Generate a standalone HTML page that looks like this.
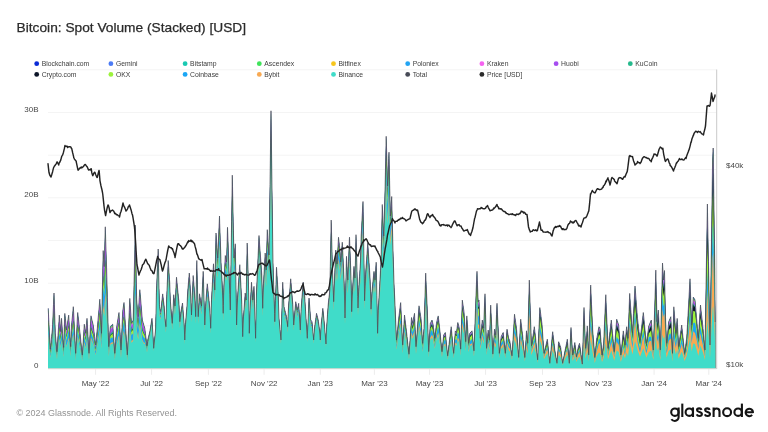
<!DOCTYPE html>
<html><head><meta charset="utf-8"><title>Bitcoin: Spot Volume (Stacked) [USD]</title>
<style>
html,body{margin:0;padding:0;background:#fff;}
body{width:768px;height:432px;overflow:hidden;font-family:"Liberation Sans",sans-serif;}
svg{display:block}
text{font-family:"Liberation Sans",sans-serif;}
.ttl{font-size:13.1px;fill:#2b2b2b;stroke:#2b2b2b;stroke-width:0.25px;}
.lg{font-size:6.8px;fill:#3c3c3c;}
.ax{font-size:8px;fill:#474747;}
.ft{font-size:9.2px;fill:#939393;}
.logo{font-size:19.5px;font-weight:bold;fill:#161616;letter-spacing:-0.3px}
</style></head><body>
<svg style="will-change:transform" width="768" height="432" viewBox="0 0 768 432">
<rect width="768" height="432" fill="#ffffff"/>
<text x="16.6" y="31.8" class="ttl" textLength="229.5" lengthAdjust="spacingAndGlyphs">Bitcoin: Spot Volume (Stacked) [USD]</text>
<line x1="48" x2="716.5" y1="69.8" y2="69.8" stroke="#f4f4f4" stroke-width="1"/><line x1="48" x2="716.5" y1="112.5" y2="112.5" stroke="#f4f4f4" stroke-width="1"/><line x1="48" x2="716.5" y1="155.2" y2="155.2" stroke="#f4f4f4" stroke-width="1"/><line x1="48" x2="716.5" y1="169.5" y2="169.5" stroke="#f4f4f4" stroke-width="1"/><line x1="48" x2="716.5" y1="197.8" y2="197.8" stroke="#f4f4f4" stroke-width="1"/><line x1="48" x2="716.5" y1="240.5" y2="240.5" stroke="#f4f4f4" stroke-width="1"/><line x1="48" x2="716.5" y1="269.0" y2="269.0" stroke="#f4f4f4" stroke-width="1"/><line x1="48" x2="716.5" y1="283.2" y2="283.2" stroke="#f4f4f4" stroke-width="1"/><line x1="48" x2="716.5" y1="325.8" y2="325.8" stroke="#f4f4f4" stroke-width="1"/>
<circle cx="36.7" cy="63.7" r="2.4" fill="#0a2bd6"/><text x="41.7" y="66.2" class="lg">Blockchain.com</text><circle cx="110.9" cy="63.7" r="2.4" fill="#4b7bf5"/><text x="115.9" y="66.2" class="lg">Gemini</text><circle cx="185.1" cy="63.7" r="2.4" fill="#19c9b2"/><text x="190.1" y="66.2" class="lg">Bitstamp</text><circle cx="259.3" cy="63.7" r="2.4" fill="#3fe35a"/><text x="264.3" y="66.2" class="lg">Ascendex</text><circle cx="333.5" cy="63.7" r="2.4" fill="#f7c61c"/><text x="338.5" y="66.2" class="lg">Bitfinex</text><circle cx="407.7" cy="63.7" r="2.4" fill="#22a4f3"/><text x="412.7" y="66.2" class="lg">Poloniex</text><circle cx="481.9" cy="63.7" r="2.4" fill="#f562f0"/><text x="486.9" y="66.2" class="lg">Kraken</text><circle cx="556.1" cy="63.7" r="2.4" fill="#a64df0"/><text x="561.1" y="66.2" class="lg">Huobi</text><circle cx="630.3" cy="63.7" r="2.4" fill="#25b98c"/><text x="635.3" y="66.2" class="lg">KuCoin</text><circle cx="36.7" cy="74.4" r="2.4" fill="#0c1528"/><text x="41.7" y="76.9" class="lg">Crypto.com</text><circle cx="110.9" cy="74.4" r="2.4" fill="#9cf23c"/><text x="115.9" y="76.9" class="lg">OKX</text><circle cx="185.1" cy="74.4" r="2.4" fill="#1aa6f5"/><text x="190.1" y="76.9" class="lg">Coinbase</text><circle cx="259.3" cy="74.4" r="2.4" fill="#f8a952"/><text x="264.3" y="76.9" class="lg">Bybit</text><circle cx="333.5" cy="74.4" r="2.4" fill="#3fdcc9"/><text x="338.5" y="76.9" class="lg">Binance</text><circle cx="407.7" cy="74.4" r="2.4" fill="#474b57"/><text x="412.7" y="76.9" class="lg">Total</text><circle cx="481.9" cy="74.4" r="2.4" fill="#2a2a2a"/><text x="486.9" y="76.9" class="lg">Price [USD]</text>
<defs><filter id="sb" x="0" y="0" width="768" height="432" filterUnits="userSpaceOnUse"><feGaussianBlur stdDeviation="0.4"/></filter></defs><g filter="url(#sb)"><path d="M48.0 368.5L48.0 308.3L48.2 308.4L48.9 322.3L49.8 339.7L50.3 349.1L50.7 345.3L51.6 336.5L52.3 330.0L52.6 324.7L53.5 304.5L54.0 293.0L54.4 304.8L55.3 332.6L55.3 333.2L56.2 343.1L57.0 351.7L57.1 349.6L58.0 335.2L59.0 320.9L59.3 315.1L59.9 321.8L60.7 331.6L60.8 329.7L61.5 318.3L61.7 321.0L62.6 333.4L63.5 345.7L63.7 347.4L64.4 324.9L64.8 313.4L65.4 318.6L66.3 327.7L66.5 330.0L67.2 325.3L68.1 318.9L68.7 315.1L69.0 320.4L69.9 334.8L70.7 346.6L70.8 342.2L71.5 325.0L71.8 322.5L72.7 313.4L73.3 306.7L73.6 311.6L74.5 329.8L75.4 348.2L75.7 353.3L76.3 340.0L77.2 321.4L77.7 312.5L78.2 316.8L79.1 324.8L79.8 331.6L80.0 332.9L80.9 341.5L81.8 350.0L82.3 355.0L82.7 349.2L83.6 335.0L84.3 324.2L84.5 325.6L85.5 331.8L85.7 333.3L86.4 325.4L87.0 318.3L87.3 323.2L88.2 339.2L89.0 353.3L89.1 351.3L90.0 334.2L90.9 317.1L91.0 315.8L91.8 319.4L92.8 323.3L93.2 325.0L93.7 329.0L94.6 336.4L95.5 343.7L95.7 345.0L96.4 337.5L97.3 328.4L98.2 317.8L99.2 307.0L99.8 299.2L100.1 304.0L101.0 322.7L101.5 333.3L101.9 313.5L102.8 268.2L103.2 250.6L103.7 259.4L104.2 266.6L104.6 250.4L105.3 226.8L105.5 234.0L106.5 265.0L107.0 283.3L107.4 297.8L108.3 332.4L108.7 346.6L109.2 340.3L110.1 329.2L110.3 326.7L111.0 325.9L111.9 324.9L112.7 324.2L112.9 326.8L113.8 339.0L114.7 351.4L114.8 353.3L115.6 341.8L116.5 328.3L116.5 328.3L117.4 322.4L118.3 316.7L119.0 312.5L119.2 317.2L120.2 334.4L121.0 350.0L121.1 348.2L122.0 327.2L122.7 311.6L122.9 310.0L123.8 303.7L124.0 302.5L124.7 314.0L125.7 328.5L126.6 342.8L127.3 354.9L127.5 351.9L128.4 331.0L129.3 310.4L129.8 298.4L130.2 304.1L131.1 317.8L131.5 323.3L132.0 322.3L133.0 320.4L133.2 319.9L133.9 289.2L134.8 249.3L135.3 225.1L135.7 245.6L136.6 296.8L136.7 300.0L137.5 309.5L138.2 316.6L138.4 312.2L139.3 297.5L139.8 289.7L140.3 294.8L141.2 306.0L142.1 317.0L142.3 320.0L143.0 322.2L143.9 325.3L144.8 328.3L145.7 335.7L146.7 343.1L147.0 345.8L147.6 341.6L147.8 339.5L148.5 336.9L149.4 333.4L149.8 331.7L150.3 328.7L151.2 323.1L152.0 318.3L152.1 320.9L153.1 337.2L153.7 348.3L154.0 345.3L154.9 336.2L155.7 328.2L155.8 322.5L156.4 292.5L156.7 285.2L157.6 262.5L158.2 249.0L158.5 264.6L159.4 304.5L159.5 306.7L160.4 310.4L160.7 311.6L161.3 306.3L162.2 298.1L162.7 293.9L163.1 297.4L164.0 305.0L164.2 306.4L164.8 316.6L164.9 317.5L165.8 325.3L166.0 326.7L166.7 296.9L166.8 294.8L167.7 273.0L168.2 260.5L168.6 266.1L169.5 279.7L169.7 282.2L170.3 300.0L170.4 301.3L171.3 311.9L172.2 322.6L172.3 323.3L173.2 305.9L173.7 294.7L174.1 297.8L175.0 305.8L175.0 306.0L175.9 288.9L176.5 277.2L176.8 280.3L177.7 289.6L178.6 298.9L178.9 301.7L179.5 315.9L179.8 321.7L180.5 314.8L180.6 313.3L181.4 309.1L182.3 304.2L182.5 303.0L183.2 311.8L184.1 323.4L184.8 340.0L185.0 334.7L185.5 324.7L185.9 318.9L186.8 307.8L187.0 306.0L187.7 291.1L187.8 290.2L188.7 280.0L189.3 273.0L189.6 277.3L190.5 291.1L190.8 296.1L191.4 312.7L191.5 315.0L192.3 295.7L193.2 275.5L193.2 276.1L194.2 287.9L194.9 298.2L195.1 301.1L195.7 316.7L196.0 301.9L196.8 260.5L196.9 264.5L197.8 301.0L198.2 316.7L198.7 307.4L199.5 293.8L199.6 294.7L200.6 300.2L201.5 305.8L201.5 306.0L202.4 288.0L203.2 271.3L203.3 274.3L204.2 305.2L204.8 325.0L205.1 317.1L205.6 306.5L206.0 300.1L206.9 288.3L207.3 283.8L207.9 289.3L208.8 298.3L209.7 307.2L209.8 308.3L210.6 326.1L210.7 328.3L211.5 300.0L211.5 299.3L212.4 283.2L213.3 266.7L213.5 263.8L214.3 279.1L214.8 290.0L215.2 272.4L216.0 233.0L216.1 234.2L217.0 247.7L217.7 258.0L217.9 253.1L218.8 231.9L219.5 216.0L219.7 223.4L220.7 251.3L221.0 262.0L221.6 272.3L222.5 289.1L222.5 290.2L223.2 313.3L223.4 305.5L223.8 287.3L224.3 276.9L225.2 257.2L225.3 255.5L226.1 260.0L226.5 262.0L227.1 242.9L227.5 227.3L228.0 240.4L228.9 266.3L229.0 270.0L229.8 294.3L230.3 310.0L230.7 283.0L231.6 221.7L232.3 175.2L232.5 186.4L233.4 230.7L234.0 258.0L234.3 254.2L235.3 244.1L235.3 243.8L236.2 298.8L236.6 325.0L237.1 310.2L237.5 297.9L238.0 290.5L238.9 277.4L239.8 264.7L239.8 265.5L240.8 283.2L241.7 301.0L241.8 304.3L242.6 332.2L242.7 336.7L243.4 317.0L243.5 316.5L244.4 304.0L245.2 293.0L245.3 293.8L246.2 300.0L246.2 298.3L247.1 246.4L247.2 243.0L248.1 272.1L248.7 292.7L249.0 312.0L249.3 333.3L249.9 313.1L250.0 310.3L250.8 295.0L251.5 282.2L251.7 285.1L252.6 297.5L252.8 300.0L253.5 291.6L254.0 286.3L254.4 300.9L255.4 330.5L255.6 338.3L256.3 303.3L256.5 292.0L257.2 276.4L258.1 255.6L259.0 235.5L259.0 235.8L259.9 248.8L260.9 262.0L261.8 275.0L261.8 275.5L262.7 307.2L262.7 308.3L263.4 283.4L263.6 281.0L264.5 265.2L265.2 253.0L265.4 256.6L266.2 270.0L266.3 265.2L267.2 231.9L267.3 229.7L268.1 242.3L269.0 255.0L269.1 250.0L270.0 184.3L270.9 118.7L271.0 110.8L271.8 172.0L272.7 240.8L273.0 262.0L273.6 282.9L274.6 313.4L274.8 321.7L275.5 300.5L276.4 271.0L276.5 267.2L277.3 279.8L278.2 294.3L278.2 295.1L279.0 318.0L279.1 319.3L280.0 329.3L280.9 339.3L281.0 340.0L281.9 310.8L282.7 282.2L282.8 283.5L283.7 300.7L284.0 306.7L284.6 309.1L285.5 312.6L286.4 316.2L286.8 317.7L287.3 323.1L287.7 326.7L288.2 313.5L288.6 305.1L289.2 298.1L290.1 286.6L290.7 278.8L291.0 282.3L291.9 293.3L292.8 304.2L292.8 304.7L293.7 325.0L293.7 324.7L294.6 314.0L295.6 303.3L295.7 301.7L296.5 305.7L297.3 310.0L297.4 309.6L298.3 305.2L298.7 303.3L299.2 311.8L300.1 327.2L300.3 330.0L301.0 311.6L301.2 308.4L301.9 298.3L302.9 286.3L303.2 282.0L303.8 287.4L304.7 295.6L304.7 295.9L305.3 306.7L305.6 311.6L306.5 326.0L307.3 338.3L307.4 335.2L308.4 313.4L309.0 298.0L309.3 301.4L310.2 313.1L310.7 320.0L311.1 320.5L312.0 321.7L312.9 331.6L313.7 340.0L313.8 338.1L314.5 328.0L314.7 326.5L315.7 319.6L316.5 313.3L316.6 313.6L317.5 317.2L318.2 320.0L318.4 321.5L319.3 328.3L319.7 331.0L320.2 338.9L320.3 340.0L321.1 325.7L321.1 324.8L322.1 315.8L322.8 308.3L323.0 309.9L323.9 318.8L324.0 320.0L324.8 329.5L325.7 340.4L326.0 344.0L326.6 327.5L326.7 326.4L327.5 314.3L328.2 305.0L328.4 302.7L329.4 294.1L329.8 290.0L330.3 266.5L331.2 220.5L331.2 220.0L332.1 254.6L332.5 270.0L333.0 283.5L333.7 301.7L333.9 295.8L334.8 272.2L335.7 250.0L335.8 250.5L336.7 260.4L337.0 264.0L337.6 253.6L338.5 237.4L338.5 237.2L339.4 245.3L340.0 250.8L340.3 255.6L340.7 262.0L341.2 255.4L342.1 244.1L342.3 242.2L343.1 259.0L344.0 279.0L344.2 283.9L344.9 313.4L345.0 318.0L345.8 285.1L346.5 256.3L346.7 260.1L347.6 276.9L347.8 280.0L348.5 261.4L349.4 238.5L349.5 237.2L350.4 260.3L351.0 278.2L351.3 290.4L351.7 311.7L352.2 296.9L352.4 291.3L353.1 280.1L354.0 266.3L354.0 266.5L354.9 277.3L355.0 278.0L355.9 241.2L356.0 234.7L356.8 262.6L357.7 296.3L358.0 308.0L358.6 291.7L358.8 287.3L359.5 276.5L360.4 263.2L360.5 262.0L361.2 234.8L361.3 233.3L362.2 216.0L363.0 201.5L363.2 211.4L364.1 267.9L364.6 300.8L365.0 289.8L365.5 274.8L365.9 269.3L366.8 256.7L367.7 244.1L367.8 243.0L368.6 256.3L369.6 270.7L370.1 279.4L370.5 291.7L371.0 309.2L371.4 302.0L371.9 292.1L372.3 288.3L373.2 279.1L374.0 271.3L374.1 272.2L375.0 279.4L375.1 280.0L375.9 266.2L376.2 262.2L376.9 295.7L377.6 333.3L377.8 327.5L378.3 310.7L378.7 302.9L379.6 286.6L379.8 283.0L380.5 270.6L381.0 262.0L381.4 243.0L382.3 204.5L382.3 205.4L383.2 225.9L383.7 236.0L384.2 219.4L385.0 190.0L385.1 186.4L386.0 145.2L386.2 136.3L386.9 161.5L387.6 186.0L387.8 180.7L388.7 158.5L389.0 152.2L389.6 181.8L390.4 216.0L390.6 213.6L391.5 199.8L391.7 196.5L392.4 224.9L393.0 250.0L393.3 259.9L394.0 283.0L394.2 287.5L394.8 299.9L395.1 307.1L396.0 329.0L396.5 340.0L397.0 335.4L397.9 326.3L398.7 318.3L398.8 317.4L399.7 310.2L400.6 302.9L400.7 302.6L401.5 320.6L402.4 340.2L402.7 344.9L403.4 333.8L404.3 318.9L404.5 315.0L405.2 320.7L406.1 328.2L406.5 331.7L407.0 336.3L407.9 344.4L408.8 352.6L409.0 354.2L409.8 343.2L410.7 329.8L411.5 317.5L411.6 317.8L412.5 322.4L412.7 323.3L413.4 319.3L414.3 314.4L414.5 313.3L415.2 329.6L416.0 346.7L416.1 344.8L417.1 332.4L418.0 319.9L418.9 307.5L419.0 305.8L419.8 310.8L420.7 316.5L421.0 318.3L421.6 327.6L422.5 341.3L422.7 343.3L423.4 334.5L424.0 328.3L424.4 316.4L425.3 285.8L425.7 273.1L426.2 284.7L427.1 305.2L427.2 306.8L428.0 332.3L428.7 351.6L428.9 347.2L429.8 331.7L430.3 323.4L430.8 322.5L431.7 320.7L432.0 320.0L432.6 322.5L433.2 325.0L433.5 327.7L434.4 334.9L434.8 338.3L435.3 334.0L436.2 325.7L436.5 323.3L437.1 320.4L438.1 316.3L438.2 315.9L439.0 322.7L439.8 330.0L439.9 330.6L440.8 339.8L441.7 348.9L442.0 351.7L442.6 345.4L443.6 336.2L443.7 335.0L444.5 333.8L445.3 332.5L445.4 332.9L446.3 342.1L447.2 351.2L447.7 355.8L448.1 352.1L449.0 344.5L449.9 336.9L450.9 329.3L451.2 326.7L451.8 333.1L452.7 342.8L453.6 352.5L453.7 353.3L454.5 341.9L455.3 330.9L455.4 331.0L456.3 332.3L456.5 332.5L457.2 326.9L457.8 322.5L458.2 323.8L459.1 327.3L459.3 328.3L460.0 338.6L460.7 349.1L460.9 342.3L461.8 315.1L462.3 300.1L462.7 302.8L463.6 309.1L464.0 311.7L464.6 321.7L465.5 338.1L465.7 341.6L466.4 325.9L466.8 315.9L467.3 322.8L468.2 336.5L468.7 343.3L469.1 339.4L469.8 333.4L470.0 333.1L470.9 332.0L471.9 331.0L472.0 330.8L472.8 338.6L473.7 347.7L474.0 350.8L474.6 334.1L475.5 308.4L476.0 295.0L476.4 284.8L477.0 271.3L477.3 280.2L478.2 301.7L478.3 301.5L479.0 300.0L479.2 304.9L480.1 331.3L480.3 338.2L481.0 332.2L481.9 323.9L482.3 320.0L482.8 323.1L483.7 328.2L483.7 326.4L484.6 302.9L485.0 293.8L485.6 314.5L486.5 347.6L486.5 348.3L487.4 338.5L488.2 330.0L488.3 331.1L489.2 337.9L489.5 340.0L490.1 321.1L490.7 305.1L491.1 313.7L492.0 334.3L492.8 354.1L492.9 353.6L493.8 339.8L494.5 329.2L494.7 330.2L495.6 334.8L495.7 334.9L496.5 314.5L497.0 303.3L497.4 312.8L498.4 332.5L499.3 352.0L499.3 353.3L500.2 345.6L501.1 337.3L501.2 336.7L502.0 334.9L502.9 333.0L503.2 332.5L503.8 338.6L504.0 340.0L504.8 347.5L505.3 353.3L505.7 348.6L506.6 335.3L507.0 329.2L507.5 331.9L508.4 336.9L508.7 338.3L509.3 339.7L509.8 340.8L510.2 343.6L511.1 349.9L512.0 355.8L512.1 354.8L513.0 339.7L513.9 324.5L514.5 314.2L514.8 316.3L515.7 322.7L516.5 328.3L516.6 330.1L517.5 342.3L518.5 354.6L518.7 357.4L519.4 344.0L520.3 326.6L520.7 319.2L521.2 323.5L522.1 331.2L522.7 335.9L523.0 339.4L523.9 348.5L524.8 357.5L524.9 357.2L525.8 342.7L526.5 330.8L526.7 332.7L527.6 342.5L527.7 343.2L528.5 311.7L529.3 280.1L529.4 282.3L530.3 310.3L531.2 337.9L531.5 345.8L532.1 341.4L533.1 335.2L534.0 329.1L534.3 326.7L534.9 331.6L535.7 338.4L535.8 339.9L536.7 349.7L537.6 359.7L537.7 359.9L538.5 338.6L539.5 316.5L539.8 307.6L540.4 311.7L541.3 318.7L542.0 324.2L542.2 327.1L543.1 340.5L544.0 353.3L544.0 353.2L544.9 349.3L545.9 345.4L546.8 341.6L547.3 339.2L547.7 342.5L548.6 351.4L549.5 360.2L549.8 363.3L550.4 356.8L551.3 346.5L552.2 336.3L552.7 331.7L553.2 335.9L554.1 343.6L554.8 350.0L555.0 351.0L555.9 356.6L556.8 362.2L557.0 363.3L557.7 353.8L558.6 341.9L558.7 341.7L559.6 344.3L560.5 346.9L560.7 347.5L561.4 353.2L562.3 360.4L562.7 363.3L563.2 360.4L564.1 355.5L564.8 351.7L565.0 350.6L566.0 346.1L566.9 341.5L567.3 339.2L567.8 344.6L568.7 355.6L569.3 363.3L569.6 357.4L570.5 337.8L571.0 327.5L571.4 334.8L572.4 349.8L572.7 355.0L573.3 351.6L574.2 346.3L574.8 342.5L575.1 344.7L576.0 352.4L576.5 356.7L576.9 354.4L577.8 349.4L578.2 347.5L578.7 345.7L579.5 343.3L579.7 344.5L580.6 351.2L581.5 357.9L582.3 364.1L582.4 361.9L583.3 331.0L584.0 307.5L584.2 312.9L585.1 335.4L585.7 348.3L586.0 343.2L587.0 330.7L587.3 325.9L587.9 337.8L588.7 354.9L588.8 350.7L589.7 318.5L590.6 286.6L590.7 285.1L591.5 304.4L592.5 325.1L592.7 330.0L593.4 338.8L594.3 350.3L594.8 357.5L595.2 353.8L596.1 344.2L596.5 340.0L597.0 337.3L597.9 332.4L598.8 327.5L599.0 326.7L599.8 327.9L600.0 328.3L600.7 337.3L601.6 349.4L602.0 355.0L602.5 351.6L603.4 345.1L603.7 343.3L604.3 328.7L605.2 308.0L605.8 294.7L606.1 302.5L607.1 325.1L608.0 347.8L608.0 348.3L608.9 340.8L609.8 333.0L610.7 325.2L611.3 320.0L611.6 323.3L612.5 333.5L613.5 343.8L614.2 351.6L614.4 349.0L615.3 337.2L616.2 325.2L616.7 319.2L617.1 320.5L618.0 323.1L618.7 325.0L618.9 328.8L619.9 341.4L620.8 354.0L620.8 355.0L621.7 346.8L622.6 338.0L623.3 330.9L623.5 332.2L624.4 340.1L625.0 345.0L625.3 341.4L626.2 331.2L626.7 326.7L627.2 331.0L628.0 338.3L628.1 336.4L629.0 311.6L629.7 293.4L629.9 296.6L630.8 309.5L631.7 322.5L632.5 333.3L632.6 330.7L633.5 313.5L634.5 296.0L635.0 286.0L635.4 290.9L636.3 302.7L637.2 314.6L637.5 318.3L638.1 323.7L639.0 331.6L640.0 339.6L640.0 340.0L640.9 332.9L641.8 325.4L642.7 317.8L643.3 312.5L643.6 315.2L644.5 324.7L645.4 334.0L646.3 343.3L646.3 343.3L647.3 336.8L648.2 330.5L648.8 325.9L649.1 325.3L650.0 323.1L650.9 321.0L651.3 320.0L651.8 327.3L652.7 341.1L653.3 350.0L653.6 339.9L654.6 310.7L655.5 281.3L655.8 270.1L656.4 294.7L657.0 321.7L657.3 319.0L658.2 311.0L658.3 310.0L659.1 325.9L660.0 344.1L660.3 349.9L661.0 324.8L661.9 288.3L662.5 263.0L662.8 267.9L663.5 280.0L663.7 278.1L664.5 270.5L664.6 275.6L665.5 316.7L665.5 317.4L666.4 338.2L666.7 343.3L667.4 335.9L668.3 326.0L668.7 321.7L669.2 320.5L670.1 318.4L670.8 316.7L671.0 320.6L671.9 340.6L672.5 353.3L672.8 341.8L673.8 309.6L673.8 306.8L674.7 317.7L675.6 329.8L675.8 333.3L676.5 325.9L677.2 318.4L677.4 322.7L678.3 339.9L678.7 346.6L679.2 342.6L680.1 336.0L681.1 329.4L681.7 325.0L682.0 327.9L682.9 336.5L683.8 345.1L684.7 353.3L684.7 353.0L685.6 346.2L686.5 339.3L686.7 338.3L687.5 324.4L688.4 308.1L689.3 291.7L690.0 278.8L690.2 284.1L691.1 309.3L691.7 324.9L692.0 319.1L692.9 303.8L693.3 297.1L693.8 297.9L694.8 299.6L695.0 300.0L695.7 307.7L696.6 318.3L697.5 328.7L698.3 338.3L698.4 337.2L699.3 323.0L700.2 309.0L700.5 305.0L701.1 311.1L702.1 319.7L703.0 328.1L703.0 328.3L703.9 338.0L704.8 347.9L705.0 350.0L705.7 306.2L706.6 250.8L707.4 204.0L707.5 212.1L708.5 261.5L709.4 310.8L710.0 345.0L710.3 324.4L711.2 259.6L712.1 194.9L712.6 160.0L713.0 151.4L713.2 148.0L713.9 201.9L714.6 250.0L714.9 281.2L715.2 322.0L715.2 368.5Z" fill="#0a2bd6"/>
<path d="M48.0 368.5L48.0 308.6L48.2 308.7L48.9 322.5L49.8 339.8L50.3 349.2L50.7 345.4L51.6 336.7L52.3 330.2L52.6 325.0L53.5 304.9L54.0 293.5L54.4 305.2L55.3 332.8L55.3 333.4L56.2 343.2L57.0 351.8L57.1 349.7L58.0 335.3L59.0 321.1L59.3 315.4L59.9 322.1L60.7 331.8L60.8 329.9L61.5 318.6L61.7 321.3L62.6 333.6L63.5 345.8L63.7 347.5L64.4 325.0L64.8 313.6L65.4 318.8L66.3 327.9L66.5 330.2L67.2 325.5L68.1 319.2L68.7 315.3L69.0 320.7L69.9 335.0L70.7 346.7L70.8 342.3L71.5 325.2L71.8 322.7L72.7 313.7L73.3 307.1L73.6 311.9L74.5 330.0L75.4 348.3L75.7 353.4L76.3 340.2L77.2 321.7L77.7 312.8L78.2 317.0L79.1 325.0L79.8 331.8L80.0 333.1L80.9 341.7L81.8 350.1L82.3 355.0L82.7 349.3L83.6 335.2L84.3 324.4L84.5 325.8L85.5 332.0L85.7 333.4L86.4 325.6L87.0 318.6L87.3 323.5L88.2 339.3L89.0 353.4L89.1 351.4L90.0 334.4L90.9 317.5L91.0 316.1L91.8 319.7L92.8 323.5L93.2 325.2L93.7 329.2L94.6 336.6L95.5 343.8L95.7 345.1L96.4 337.6L97.3 328.6L98.2 318.0L99.2 307.3L99.8 299.5L100.1 304.3L101.0 322.9L101.5 333.5L101.9 313.7L102.8 268.8L103.2 251.3L103.7 260.1L104.2 267.2L104.6 251.2L105.3 227.6L105.5 234.8L106.5 265.6L107.0 283.8L107.4 298.2L108.3 332.6L108.7 346.8L109.2 340.4L110.1 329.5L110.3 327.0L111.0 326.2L111.9 325.2L112.7 324.4L112.9 327.0L113.8 339.1L114.7 351.5L114.8 353.4L115.6 342.0L116.5 328.5L116.5 328.5L117.4 322.7L118.3 316.9L119.0 312.8L119.2 317.4L120.2 334.6L121.0 350.1L121.1 348.2L122.0 327.4L122.7 312.0L122.9 310.3L123.8 304.2L124.0 302.9L124.7 314.4L125.7 328.7L126.6 343.0L127.3 355.0L127.5 352.0L128.4 331.2L129.3 310.7L129.8 298.8L130.2 304.5L131.1 318.1L131.5 323.6L132.0 322.5L133.0 320.6L133.2 320.1L133.9 289.5L134.8 249.8L135.3 225.8L135.7 246.2L136.6 297.2L136.7 300.4L137.5 309.8L138.2 316.9L138.4 312.6L139.3 297.9L139.8 290.2L140.3 295.3L141.2 306.3L142.1 317.3L142.3 320.2L143.0 322.5L143.9 325.5L144.8 328.5L145.7 335.8L146.7 343.2L147.0 345.9L147.6 341.6L147.8 339.5L148.5 337.0L149.4 333.4L149.8 331.7L150.3 328.8L151.2 323.1L152.0 318.4L152.1 320.9L153.1 337.3L153.7 348.3L154.0 345.3L154.9 336.2L155.7 328.2L155.8 322.5L156.4 292.6L156.7 285.3L157.6 262.7L158.2 249.2L158.5 264.8L159.4 304.6L159.5 306.7L160.4 310.4L160.7 311.7L161.3 306.4L162.2 298.2L162.7 293.9L163.1 297.5L164.0 305.0L164.2 306.4L164.8 316.7L164.9 317.5L165.8 325.4L166.0 326.7L166.7 297.0L166.8 294.9L167.7 273.1L168.2 260.6L168.6 266.2L169.5 279.8L169.7 282.3L170.3 300.1L170.4 301.3L171.3 311.9L172.2 322.7L172.3 323.3L173.2 306.0L173.7 294.8L174.1 297.9L175.0 305.9L175.0 306.1L175.9 289.0L176.5 277.3L176.8 280.4L177.7 289.7L178.6 299.0L178.9 301.8L179.5 316.0L179.8 321.8L180.5 314.9L180.6 313.3L181.4 309.2L182.3 304.3L182.5 303.1L183.2 311.9L184.1 323.4L184.8 340.0L185.0 334.7L185.5 324.7L185.9 318.9L186.8 307.9L187.0 306.1L187.7 291.2L187.8 290.3L188.7 280.1L189.3 273.1L189.6 277.5L190.5 291.2L190.8 296.2L191.4 312.8L191.5 315.1L192.3 295.8L193.2 275.6L193.2 276.3L194.2 288.0L194.9 298.2L195.1 301.2L195.7 316.8L196.0 302.0L196.8 260.6L196.9 264.6L197.8 301.1L198.2 316.7L198.7 307.4L199.5 293.9L199.6 294.7L200.6 300.3L201.5 305.9L201.5 306.1L202.4 288.1L203.2 271.4L203.3 274.4L204.2 305.2L204.8 325.0L205.1 317.1L205.6 306.5L206.0 300.2L206.9 288.4L207.3 283.9L207.9 289.4L208.8 298.4L209.7 307.3L209.8 308.3L210.6 326.1L210.7 328.3L211.5 300.0L211.5 299.3L212.4 283.3L213.3 266.8L213.5 264.0L214.3 279.2L214.8 290.1L215.2 272.6L216.0 233.2L216.1 234.4L217.0 247.8L217.7 258.1L217.9 253.2L218.8 232.0L219.5 216.2L219.7 223.5L220.7 251.4L221.0 262.1L221.6 272.4L222.5 289.2L222.5 290.3L223.2 313.4L223.4 305.5L223.8 287.4L224.3 277.0L225.2 257.4L225.3 255.6L226.1 260.1L226.5 262.2L227.1 243.1L227.5 227.6L228.0 240.6L228.9 266.5L229.0 270.2L229.8 294.4L230.3 310.1L230.7 283.1L231.6 221.9L232.3 175.5L232.5 186.7L233.4 230.9L234.0 258.1L234.3 254.3L235.3 244.3L235.3 244.0L236.2 298.8L236.6 325.0L237.1 310.3L237.5 297.9L238.0 290.6L238.9 277.5L239.8 264.8L239.8 265.6L240.8 283.3L241.7 301.1L241.8 304.4L242.6 332.3L242.7 336.7L243.4 317.1L243.5 316.5L244.4 304.1L245.2 293.1L245.3 293.9L246.2 300.1L246.2 298.4L247.1 246.6L247.2 243.2L248.1 272.2L248.7 292.8L249.0 312.1L249.3 333.3L249.9 313.2L250.0 310.4L250.8 295.1L251.5 282.3L251.7 285.2L252.6 297.6L252.8 300.1L253.5 291.6L254.0 286.4L254.4 301.0L255.4 330.5L255.6 338.3L256.3 303.4L256.5 292.1L257.2 276.6L258.1 255.8L259.0 235.7L259.0 236.0L259.9 249.0L260.9 262.1L261.8 275.1L261.8 275.7L262.7 307.3L262.7 308.4L263.4 283.5L263.6 281.1L264.5 265.3L265.2 253.2L265.4 256.7L266.2 270.1L266.3 265.4L267.2 232.1L267.3 229.9L268.1 242.5L269.0 255.1L269.1 250.1L270.0 184.6L270.9 119.2L271.0 111.3L271.8 172.3L272.7 241.0L273.0 262.1L273.6 283.0L274.6 313.5L274.8 321.7L275.5 300.6L276.4 271.2L276.5 267.4L277.3 279.9L278.2 294.4L278.2 295.2L279.0 318.1L279.1 319.4L280.0 329.4L280.9 339.4L281.0 340.0L281.9 310.8L282.7 282.3L282.8 283.6L283.7 300.7L284.0 306.8L284.6 309.1L285.5 312.7L286.4 316.3L286.8 317.7L287.3 323.1L287.7 326.7L288.2 313.6L288.6 305.2L289.2 298.2L290.1 286.7L290.7 278.9L291.0 282.4L291.9 293.4L292.8 304.3L292.8 304.7L293.7 325.0L293.7 324.7L294.6 314.1L295.6 303.4L295.7 301.8L296.5 305.8L297.3 310.1L297.4 309.6L298.3 305.3L298.7 303.4L299.2 311.9L300.1 327.2L300.3 330.0L301.0 311.7L301.2 308.4L301.9 298.3L302.9 286.4L303.2 282.1L303.8 287.4L304.7 295.7L304.7 296.0L305.3 306.8L305.6 311.7L306.5 326.0L307.3 338.3L307.4 335.2L308.4 313.5L309.0 298.1L309.3 301.4L310.2 313.2L310.7 320.1L311.1 320.6L312.0 321.8L312.9 331.7L313.7 340.0L313.8 338.2L314.5 328.0L314.7 326.5L315.7 319.6L316.5 313.4L316.6 313.6L317.5 317.2L318.2 320.0L318.4 321.5L319.3 328.3L319.7 331.0L320.2 338.9L320.3 340.0L321.1 325.8L321.1 324.9L322.1 315.8L322.8 308.3L323.0 309.9L323.9 318.9L324.0 320.0L324.8 329.5L325.7 340.4L326.0 344.0L326.6 327.6L326.7 326.5L327.5 314.4L328.2 305.1L328.4 302.8L329.4 294.2L329.8 290.1L330.3 266.6L331.2 220.8L331.2 220.3L332.1 254.8L332.5 270.1L333.0 283.6L333.7 301.8L333.9 295.8L334.8 272.3L335.7 250.1L335.8 250.7L336.7 260.6L337.0 264.1L337.6 253.8L338.5 237.5L338.5 237.4L339.4 245.4L340.0 251.0L340.3 255.7L340.7 262.1L341.2 255.6L342.1 244.2L342.3 242.4L343.1 259.1L344.0 279.1L344.2 284.0L344.9 313.4L345.0 318.1L345.8 285.2L346.5 256.5L346.7 260.3L347.6 277.0L347.8 280.1L348.5 261.5L349.4 238.7L349.5 237.4L350.4 260.5L351.0 278.3L351.3 290.4L351.7 311.7L352.2 297.0L352.4 291.3L353.1 280.2L354.0 266.4L354.0 266.7L354.9 277.4L355.0 278.1L355.9 241.4L356.0 234.9L356.8 262.7L357.7 296.3L358.0 308.0L358.6 291.8L358.8 287.4L359.5 276.6L360.4 263.3L360.5 262.2L361.2 235.0L361.3 233.5L362.2 216.2L363.0 201.8L363.2 211.7L364.1 268.0L364.6 300.9L365.0 289.9L365.5 274.9L365.9 269.4L366.8 256.9L367.7 244.3L367.8 243.2L368.6 256.5L369.6 270.8L370.1 279.5L370.5 291.7L371.0 309.2L371.4 302.0L371.9 292.2L372.3 288.3L373.2 279.2L374.0 271.4L374.1 272.4L375.0 279.6L375.1 280.1L375.9 266.4L376.2 262.4L376.9 295.8L377.6 333.3L377.8 327.5L378.3 310.7L378.7 303.0L379.6 286.7L379.8 283.1L380.5 270.7L381.0 262.2L381.4 243.2L382.3 204.8L382.3 205.7L383.2 226.1L383.7 236.2L384.2 219.6L385.0 190.3L385.1 186.7L386.0 145.6L386.2 136.6L386.9 161.8L387.6 186.3L387.8 181.0L388.7 158.8L389.0 152.6L389.6 182.1L390.4 216.2L390.6 213.8L391.5 200.0L391.7 196.7L392.4 225.1L393.0 250.1L393.3 260.1L394.0 283.1L394.2 287.6L394.8 300.1L395.1 307.3L396.0 329.1L396.5 340.1L397.0 335.5L397.9 326.5L398.7 318.5L398.8 317.6L399.7 310.3L400.6 303.1L400.7 302.8L401.5 320.8L402.4 340.3L402.7 345.0L403.4 333.9L404.3 319.1L404.5 315.1L405.2 320.8L406.1 328.3L406.5 331.7L407.0 336.3L407.9 344.5L408.8 352.7L409.0 354.2L409.8 343.3L410.7 330.0L411.5 317.7L411.6 318.0L412.5 322.6L412.7 323.5L413.4 319.5L414.3 314.5L414.5 313.5L415.2 329.7L416.0 346.7L416.1 344.8L417.1 332.5L418.0 320.0L418.9 307.7L419.0 306.0L419.8 310.9L420.7 316.6L421.0 318.4L421.6 327.7L422.5 341.4L422.7 343.4L423.4 334.6L424.0 328.5L424.4 316.5L425.3 286.1L425.7 273.4L426.2 285.0L427.1 305.3L427.2 306.9L428.0 332.4L428.7 351.7L428.9 347.3L429.8 331.9L430.3 323.6L430.8 322.7L431.7 320.9L432.0 320.2L432.6 322.7L433.2 325.2L433.5 327.8L434.4 335.0L434.8 338.4L435.3 334.0L436.2 325.8L436.5 323.5L437.1 320.6L438.1 316.5L438.2 316.0L439.0 322.9L439.8 330.1L439.9 330.7L440.8 339.8L441.7 348.9L442.0 351.7L442.6 345.4L443.6 336.3L443.7 335.1L444.5 333.9L445.3 332.6L445.4 333.0L446.3 342.2L447.2 351.2L447.7 355.8L448.1 352.2L449.0 344.5L449.9 337.0L450.9 329.4L451.2 326.9L451.8 333.2L452.7 342.9L453.6 352.6L453.7 353.3L454.5 342.0L455.3 331.0L455.4 331.0L456.3 332.3L456.5 332.6L457.2 327.0L457.8 322.7L458.2 323.9L459.1 327.4L459.3 328.5L460.0 338.7L460.7 349.1L460.9 342.4L461.8 315.3L462.3 300.3L462.7 303.0L463.6 309.4L464.0 311.9L464.6 321.9L465.5 338.2L465.7 341.7L466.4 326.0L466.8 316.1L467.3 323.0L468.2 336.6L468.7 343.4L469.1 339.5L469.8 333.5L470.0 333.2L470.9 332.1L471.9 331.1L472.0 330.9L472.8 338.7L473.7 347.8L474.0 350.9L474.6 334.2L475.5 308.6L476.0 295.2L476.4 285.0L477.0 271.6L477.3 280.4L478.2 301.9L478.3 301.7L479.0 300.3L479.2 305.1L480.1 331.5L480.3 338.4L481.0 332.4L481.9 324.0L482.3 320.2L482.8 323.3L483.7 328.4L483.7 326.6L484.6 303.1L485.0 294.1L485.6 314.7L486.5 347.7L486.5 348.4L487.4 338.6L488.2 330.1L488.3 331.2L489.2 338.0L489.5 340.1L490.1 321.2L490.7 305.2L491.1 313.8L492.0 334.4L492.8 354.1L492.9 353.7L493.8 339.9L494.5 329.3L494.7 330.3L495.6 334.9L495.7 335.0L496.5 314.7L497.0 303.6L497.4 312.9L498.4 332.6L499.3 352.0L499.3 353.3L500.2 345.7L501.1 337.4L501.2 336.8L502.0 335.0L502.9 333.1L503.2 332.6L503.8 338.6L504.0 340.1L504.8 347.5L505.3 353.3L505.7 348.6L506.6 335.4L507.0 329.3L507.5 332.0L508.4 337.0L508.7 338.4L509.3 339.8L509.8 340.9L510.2 343.6L511.1 349.9L512.0 355.9L512.1 354.9L513.0 339.8L513.9 324.7L514.5 314.4L514.8 316.5L515.7 322.9L516.5 328.5L516.6 330.2L517.5 342.4L518.5 354.6L518.7 357.5L519.4 344.1L520.3 326.7L520.7 319.4L521.2 323.7L522.1 331.3L522.7 336.0L523.0 339.4L523.9 348.5L524.8 357.5L524.9 357.3L525.8 342.7L526.5 330.9L526.7 332.8L527.6 342.6L527.7 343.3L528.5 311.9L529.3 280.5L529.4 282.7L530.3 310.5L531.2 338.0L531.5 345.9L532.1 341.5L533.1 335.3L534.0 329.2L534.3 326.9L534.9 331.8L535.7 338.5L535.8 340.0L536.7 349.8L537.6 359.7L537.7 359.9L538.5 338.7L539.5 316.7L539.8 307.7L540.4 311.9L541.3 318.9L542.0 324.3L542.2 327.2L543.1 340.6L544.0 353.4L544.0 353.2L544.9 349.4L545.9 345.5L546.8 341.6L547.3 339.3L547.7 342.6L548.6 351.5L549.5 360.2L549.8 363.3L550.4 356.8L551.3 346.6L552.2 336.4L552.7 331.8L553.2 336.0L554.1 343.7L554.8 350.0L555.0 351.0L555.9 356.7L556.8 362.2L557.0 363.3L557.7 353.9L558.6 341.9L558.7 341.7L559.6 344.3L560.5 347.0L560.7 347.6L561.4 353.3L562.3 360.4L562.7 363.3L563.2 360.4L564.1 355.5L564.8 351.7L565.0 350.7L566.0 346.2L566.9 341.6L567.3 339.3L567.8 344.6L568.7 355.6L569.3 363.3L569.6 357.4L570.5 337.9L571.0 327.7L571.4 334.9L572.4 349.8L572.7 355.0L573.3 351.6L574.2 346.3L574.8 342.6L575.1 344.7L576.0 352.5L576.5 356.7L576.9 354.4L577.8 349.4L578.2 347.6L578.7 345.8L579.5 343.4L579.7 344.6L580.6 351.2L581.5 357.9L582.3 364.2L582.4 361.9L583.3 331.1L584.0 307.8L584.2 313.2L585.1 335.6L585.7 348.4L586.0 343.3L587.0 330.9L587.3 326.0L587.9 337.9L588.7 354.9L588.8 350.7L589.7 318.6L590.6 286.9L590.7 285.4L591.5 304.7L592.5 325.3L592.7 330.2L593.4 338.9L594.3 350.4L594.8 357.5L595.2 353.8L596.1 344.3L596.5 340.1L597.0 337.4L597.9 332.5L598.8 327.7L599.0 326.8L599.8 328.1L600.0 328.5L600.7 337.4L601.6 349.5L602.0 355.0L602.5 351.6L603.4 345.2L603.7 343.3L604.3 328.8L605.2 308.3L605.8 295.0L606.1 302.8L607.1 325.2L608.0 347.9L608.0 348.4L608.9 340.8L609.8 333.1L610.7 325.3L611.3 320.2L611.6 323.5L612.5 333.6L613.5 343.9L614.2 351.7L614.4 349.1L615.3 337.3L616.2 325.4L616.7 319.3L617.1 320.6L618.0 323.3L618.7 325.2L618.9 329.0L619.9 341.5L620.8 354.0L620.8 355.0L621.7 346.9L622.6 338.1L623.3 331.0L623.5 332.3L624.4 340.2L625.0 345.1L625.3 341.5L626.2 331.4L626.7 326.8L627.2 331.1L628.0 338.4L628.1 336.5L629.0 311.8L629.7 293.6L629.9 296.8L630.8 309.7L631.7 322.6L632.5 333.5L632.6 330.8L633.5 313.7L634.5 296.4L635.0 286.4L635.4 291.2L636.3 302.9L637.2 314.8L637.5 318.5L638.1 323.9L639.0 331.7L640.0 339.7L640.0 340.1L640.9 333.0L641.8 325.5L642.7 317.9L643.3 312.7L643.6 315.4L644.5 324.8L645.4 334.1L646.3 343.4L646.3 343.4L647.3 337.0L648.2 330.6L648.8 326.0L649.1 325.4L650.0 323.3L650.9 321.1L651.3 320.2L651.8 327.4L652.7 341.2L653.3 350.0L653.6 340.0L654.6 311.0L655.5 281.7L655.8 270.5L656.4 294.9L657.0 321.8L657.3 319.2L658.2 311.1L658.3 310.2L659.1 326.1L660.0 344.2L660.3 350.0L661.0 325.0L661.9 288.6L662.5 263.4L662.8 268.3L663.5 280.3L663.7 278.4L664.5 270.8L664.6 275.9L665.5 316.8L665.5 317.5L666.4 338.3L666.7 343.4L667.4 336.1L668.3 326.2L668.7 321.9L669.2 320.7L670.1 318.6L670.8 316.9L671.0 320.7L671.9 340.7L672.5 353.4L672.8 341.9L673.8 309.8L673.8 307.0L674.7 317.9L675.6 330.0L675.8 333.4L676.5 326.1L677.2 318.5L677.4 322.9L678.3 340.0L678.7 346.7L679.2 342.7L680.1 336.1L681.1 329.5L681.7 325.2L682.0 328.0L682.9 336.6L683.8 345.2L684.7 353.4L684.7 353.1L685.6 346.3L686.5 339.4L686.7 338.4L687.5 324.5L688.4 308.4L689.3 292.0L690.0 279.2L690.2 284.4L691.1 309.5L691.7 325.1L692.0 319.2L692.9 303.9L693.3 297.2L693.8 298.1L694.8 299.8L695.0 300.2L695.7 307.9L696.6 318.5L697.5 328.9L698.3 338.4L698.4 337.2L699.3 323.1L700.2 309.2L700.5 305.2L701.1 311.3L702.1 319.9L703.0 328.3L703.0 328.5L703.9 338.1L704.8 348.0L705.0 350.1L705.7 306.4L706.6 251.2L707.4 204.6L707.5 212.7L708.5 261.9L709.4 311.0L710.0 345.1L710.3 324.5L711.2 260.0L712.1 195.4L712.6 160.6L713.0 152.0L713.2 148.6L713.9 202.4L714.6 250.4L714.9 281.5L715.2 322.1L715.2 368.5Z" fill="#4b7bf5"/>
<path d="M48.0 368.5L48.0 309.3L48.2 309.4L48.9 323.1L49.8 340.1L50.3 349.4L50.7 345.6L51.6 336.9L52.3 330.5L52.6 325.2L53.5 305.4L54.0 294.1L54.4 305.8L55.3 333.2L55.3 333.8L56.2 343.5L57.0 352.0L57.1 349.9L58.0 335.7L59.0 321.6L59.3 315.8L59.9 322.5L60.7 332.2L60.8 330.3L61.5 319.2L61.7 321.8L62.6 334.0L63.5 346.0L63.7 347.7L64.4 325.5L64.8 314.2L65.4 319.2L66.3 328.1L66.5 330.4L67.2 325.8L68.1 319.6L68.7 315.8L69.0 321.1L69.9 335.3L70.7 346.9L70.8 342.5L71.5 325.6L71.8 323.1L72.7 314.1L73.3 307.5L73.6 312.4L74.5 330.3L75.4 348.5L75.7 353.5L76.3 340.5L77.2 322.2L77.7 313.5L78.2 317.6L79.1 325.4L79.8 332.1L80.0 333.4L80.9 341.8L81.8 350.2L82.3 355.1L82.7 349.4L83.6 335.5L84.3 324.8L84.5 326.1L85.5 332.3L85.7 333.7L86.4 325.9L87.0 318.9L87.3 323.7L88.2 339.5L89.0 353.5L89.1 351.5L90.0 334.7L90.9 318.0L91.0 316.7L91.8 320.2L92.8 323.9L93.2 325.6L93.7 329.5L94.6 336.8L95.5 344.0L95.7 345.3L96.4 337.9L97.3 328.9L98.2 318.5L99.2 307.8L99.8 300.0L100.1 304.7L101.0 323.1L101.5 333.7L101.9 314.0L102.8 269.4L103.2 252.1L103.7 261.0L104.2 268.0L104.6 252.3L105.3 229.0L105.5 236.1L106.5 266.4L107.0 284.5L107.4 298.7L108.3 332.8L108.7 346.9L109.2 340.6L110.1 329.8L110.3 327.3L111.0 326.5L111.9 325.6L112.7 324.8L112.9 327.3L113.8 339.3L114.7 351.6L114.8 353.4L115.6 342.1L116.5 328.7L116.5 328.7L117.4 322.9L118.3 317.3L119.0 313.2L119.2 317.8L120.2 334.8L121.0 350.2L121.1 348.4L122.0 327.6L122.7 312.2L122.9 310.6L123.8 304.6L124.0 303.4L124.7 314.8L125.7 329.0L126.6 343.2L127.3 355.1L127.5 352.1L128.4 331.5L129.3 311.1L129.8 299.2L130.2 304.9L131.1 318.4L131.5 323.8L132.0 322.8L133.0 321.0L133.2 320.4L133.9 290.0L134.8 250.4L135.3 226.5L135.7 246.8L136.6 297.5L136.7 300.7L137.5 310.1L138.2 317.2L138.4 312.9L139.3 298.4L139.8 290.7L140.3 295.8L141.2 306.8L142.1 317.6L142.3 320.5L143.0 322.7L143.9 325.8L144.8 328.7L145.7 336.0L146.7 343.3L147.0 346.0L147.6 341.7L147.8 339.6L148.5 337.1L149.4 333.4L149.8 331.7L150.3 328.8L151.2 323.1L152.0 318.4L152.1 320.9L153.1 337.3L153.7 348.3L154.0 345.3L154.9 336.3L155.7 328.2L155.8 322.5L156.4 292.6L156.7 285.4L157.6 262.8L158.2 249.3L158.5 264.9L159.4 304.7L159.5 306.8L160.4 310.5L160.7 311.8L161.3 306.4L162.2 298.2L162.7 294.0L163.1 297.6L164.0 305.1L164.2 306.5L164.8 316.7L164.9 317.6L165.8 325.4L166.0 326.8L166.7 297.1L166.8 294.9L167.7 273.3L168.2 260.8L168.6 266.4L169.5 279.9L169.7 282.4L170.3 300.1L170.4 301.4L171.3 312.0L172.2 322.7L172.3 323.4L173.2 306.1L173.7 294.9L174.1 298.0L175.0 306.0L175.0 306.1L175.9 289.1L176.5 277.4L176.8 280.5L177.7 289.8L178.6 299.1L178.9 301.8L179.5 316.0L179.8 321.8L180.5 315.0L180.6 313.4L181.4 309.3L182.3 304.3L182.5 303.1L183.2 312.0L184.1 323.4L184.8 340.0L185.0 334.7L185.5 324.8L185.9 319.0L186.8 307.9L187.0 306.1L187.7 291.3L187.8 290.4L188.7 280.2L189.3 273.2L189.6 277.6L190.5 291.3L190.8 296.2L191.4 312.8L191.5 315.1L192.3 295.9L193.2 275.8L193.2 276.4L194.2 288.2L194.9 298.3L195.1 301.3L195.7 316.8L196.0 302.1L196.8 260.8L196.9 264.8L197.8 301.2L198.2 316.8L198.7 307.5L199.5 293.9L199.6 294.8L200.6 300.3L201.5 305.9L201.5 306.1L202.4 288.2L203.2 271.5L203.3 274.5L204.2 305.3L204.8 325.1L205.1 317.2L205.6 306.6L206.0 300.2L206.9 288.5L207.3 284.0L207.9 289.5L208.8 298.5L209.7 307.3L209.8 308.4L210.6 326.2L210.7 328.4L211.5 300.1L211.5 299.4L212.4 283.4L213.3 267.0L213.5 264.1L214.3 279.3L214.8 290.2L215.2 272.7L216.0 233.4L216.1 234.6L217.0 248.0L217.7 258.3L217.9 253.4L218.8 232.2L219.5 216.4L219.7 223.7L220.7 251.5L221.0 262.2L221.6 272.5L222.5 289.3L222.5 290.4L223.2 313.4L223.4 305.6L223.8 287.5L224.3 277.1L225.2 257.5L225.3 255.8L226.1 260.3L226.5 262.3L227.1 243.3L227.5 227.7L228.0 240.8L228.9 266.6L229.0 270.3L229.8 294.5L230.3 310.1L230.7 283.3L231.6 222.2L232.3 175.8L232.5 187.0L233.4 231.1L234.0 258.2L234.3 254.4L235.3 244.4L235.3 244.1L236.2 298.9L236.6 325.1L237.1 310.3L237.5 298.0L238.0 290.7L238.9 277.6L239.8 264.9L239.8 265.7L240.8 283.4L241.7 301.1L241.8 304.4L242.6 332.3L242.7 336.8L243.4 317.2L243.5 316.6L244.4 304.1L245.2 293.2L245.3 294.0L246.2 300.2L246.2 298.5L247.1 246.8L247.2 243.4L248.1 272.3L248.7 292.8L249.0 312.1L249.3 333.4L249.9 313.2L250.0 310.4L250.8 295.1L251.5 282.4L251.7 285.3L252.6 297.7L252.8 300.1L253.5 291.7L254.0 286.4L254.4 301.0L255.4 330.6L255.6 338.4L256.3 303.5L256.5 292.2L257.2 276.7L258.1 256.0L259.0 235.9L259.0 236.2L259.9 249.2L260.9 262.2L261.8 275.2L261.8 275.8L262.7 307.3L262.7 308.4L263.4 283.6L263.6 281.2L264.5 265.5L265.2 253.4L265.4 256.9L266.2 270.3L266.3 265.5L267.2 232.3L267.3 230.1L268.1 242.6L269.0 255.2L269.1 250.2L270.0 184.9L270.9 119.6L271.0 111.7L271.8 172.7L272.7 241.2L273.0 262.3L273.6 283.1L274.6 313.5L274.8 321.8L275.5 300.7L276.4 271.3L276.5 267.5L277.3 280.0L278.2 294.5L278.2 295.3L279.0 318.1L279.1 319.4L280.0 329.4L280.9 339.4L281.0 340.1L281.9 310.9L282.7 282.4L282.8 283.7L283.7 300.8L284.0 306.8L284.6 309.2L285.5 312.7L286.4 316.3L286.8 317.8L287.3 323.2L287.7 326.8L288.2 313.6L288.6 305.2L289.2 298.2L290.1 286.7L290.7 279.0L291.0 282.5L291.9 293.5L292.8 304.4L292.8 304.8L293.7 325.1L293.7 324.8L294.6 314.2L295.6 303.5L295.7 301.8L296.5 305.8L297.3 310.1L297.4 309.7L298.3 305.4L298.7 303.5L299.2 311.9L300.1 327.3L300.3 330.1L301.0 311.7L301.2 308.5L301.9 298.4L302.9 286.4L303.2 282.2L303.8 287.5L304.7 295.7L304.7 296.1L305.3 306.8L305.6 311.7L306.5 326.1L307.3 338.4L307.4 335.3L308.4 313.5L309.0 298.1L309.3 301.5L310.2 313.2L310.7 320.1L311.1 320.6L312.0 321.8L312.9 331.7L313.7 340.1L313.8 338.2L314.5 328.1L314.7 326.6L315.7 319.7L316.5 313.4L316.6 313.7L317.5 317.3L318.2 320.1L318.4 321.6L319.3 328.4L319.7 331.1L320.2 338.9L320.3 340.1L321.1 325.8L321.1 324.9L322.1 315.9L322.8 308.4L323.0 310.0L323.9 318.9L324.0 320.1L324.8 329.5L325.7 340.5L326.0 344.0L326.6 327.6L326.7 326.5L327.5 314.5L328.2 305.2L328.4 302.9L329.4 294.3L329.8 290.2L330.3 266.8L331.2 221.0L331.2 220.5L332.1 254.9L332.5 270.3L333.0 283.7L333.7 301.9L333.9 295.9L334.8 272.5L335.7 250.3L335.8 250.9L336.7 260.7L337.0 264.2L337.6 253.9L338.5 237.7L338.5 237.5L339.4 245.5L340.0 251.1L340.3 255.9L340.7 262.3L341.2 255.7L342.1 244.4L342.3 242.6L343.1 259.3L344.0 279.3L344.2 284.1L344.9 313.5L345.0 318.1L345.8 285.3L346.5 256.6L346.7 260.5L347.6 277.2L347.8 280.3L348.5 261.7L349.4 238.9L349.5 237.7L350.4 260.7L351.0 278.4L351.3 290.5L351.7 311.8L352.2 297.0L352.4 291.4L353.1 280.3L354.0 266.5L354.0 266.8L354.9 277.5L355.0 278.2L355.9 241.5L356.0 235.1L356.8 262.8L357.7 296.4L358.0 308.1L358.6 291.9L358.8 287.5L359.5 276.7L360.4 263.4L360.5 262.3L361.2 235.2L361.3 233.7L362.2 216.5L363.0 202.2L363.2 212.1L364.1 268.2L364.6 301.0L365.0 290.0L365.5 275.0L365.9 269.5L366.8 257.0L367.7 244.5L367.8 243.4L368.6 256.6L369.6 271.0L370.1 279.6L370.5 291.8L371.0 309.3L371.4 302.1L371.9 292.3L372.3 288.4L373.2 279.3L374.0 271.5L374.1 272.4L375.0 279.6L375.1 280.2L375.9 266.5L376.2 262.5L376.9 295.9L377.6 333.4L377.8 327.6L378.3 310.8L378.7 303.1L379.6 286.8L379.8 283.2L380.5 270.8L381.0 262.3L381.4 243.4L382.3 205.1L382.3 206.0L383.2 226.4L383.7 236.5L384.2 219.9L385.0 190.7L385.1 187.1L386.0 146.0L386.2 137.1L386.9 162.1L387.6 186.5L387.8 181.2L388.7 159.1L389.0 152.9L389.6 182.4L390.4 216.5L390.6 214.1L391.5 200.3L391.7 197.0L392.4 225.3L393.0 250.3L393.3 260.2L394.0 283.3L394.2 287.8L394.8 300.2L395.1 307.4L396.0 329.2L396.5 340.2L397.0 335.7L397.9 326.6L398.7 318.7L398.8 317.8L399.7 310.5L400.6 303.3L400.7 303.0L401.5 320.9L402.4 340.3L402.7 345.1L403.4 334.0L404.3 319.2L404.5 315.3L405.2 320.9L406.1 328.5L406.5 331.8L407.0 336.4L407.9 344.6L408.8 352.7L409.0 354.2L409.8 343.3L410.7 330.1L411.5 317.9L411.6 318.2L412.5 322.8L412.7 323.6L413.4 319.7L414.3 314.7L414.5 313.7L415.2 329.8L416.0 346.8L416.1 344.9L417.1 332.6L418.0 320.2L418.9 307.9L419.0 306.3L419.8 311.1L420.7 316.8L421.0 318.6L421.6 327.8L422.5 341.4L422.7 343.4L423.4 334.7L424.0 328.6L424.4 316.7L425.3 286.4L425.7 273.7L426.2 285.3L427.1 305.6L427.2 307.1L428.0 332.5L428.7 351.7L428.9 347.3L429.8 332.0L430.3 323.7L430.8 322.8L431.7 321.0L432.0 320.4L432.6 322.9L433.2 325.4L433.5 328.0L434.4 335.2L434.8 338.5L435.3 334.2L436.2 325.9L436.5 323.6L437.1 320.7L438.1 316.6L438.2 316.2L439.0 323.0L439.8 330.2L439.9 330.8L440.8 339.9L441.7 349.0L442.0 351.7L442.6 345.5L443.6 336.3L443.7 335.2L444.5 334.0L445.3 332.7L445.4 333.1L446.3 342.3L447.2 351.3L447.7 355.9L448.1 352.2L449.0 344.6L449.9 337.1L450.9 329.6L451.2 327.0L451.8 333.3L452.7 343.0L453.6 352.6L453.7 353.4L454.5 342.1L455.3 331.1L455.4 331.2L456.3 332.4L456.5 332.7L457.2 327.1L457.8 322.8L458.2 324.0L459.1 327.5L459.3 328.6L460.0 338.8L460.7 349.2L460.9 342.4L461.8 315.5L462.3 300.6L462.7 303.2L463.6 309.5L464.0 312.0L464.6 322.1L465.5 338.3L465.7 341.8L466.4 326.2L466.8 316.3L467.3 323.2L468.2 336.7L468.7 343.5L469.1 339.6L469.8 333.6L470.0 333.3L470.9 332.2L471.9 331.2L472.0 331.0L472.8 338.8L473.7 347.8L474.0 350.9L474.6 334.3L475.5 308.8L476.0 295.4L476.4 285.3L477.0 271.9L477.3 280.7L478.2 302.1L478.3 301.9L479.0 300.5L479.2 305.3L480.1 331.6L480.3 338.5L481.0 332.5L481.9 324.2L482.3 320.4L482.8 323.5L483.7 328.5L483.7 326.7L484.6 303.4L485.0 294.4L485.6 314.9L486.5 347.7L486.5 348.5L487.4 338.7L488.2 330.3L488.3 331.3L489.2 338.1L489.5 340.2L490.1 321.4L490.7 305.4L491.1 314.0L492.0 334.5L492.8 354.1L492.9 353.7L493.8 340.0L494.5 329.4L494.7 330.4L495.6 335.0L495.7 335.1L496.5 314.9L497.0 303.8L497.4 313.2L498.4 332.7L499.3 352.1L499.3 353.3L500.2 345.8L501.1 337.5L501.2 336.9L502.0 335.2L502.9 333.3L503.2 332.8L503.8 338.7L504.0 340.2L504.8 347.6L505.3 353.4L505.7 348.7L506.6 335.4L507.0 329.4L507.5 332.1L508.4 337.1L508.7 338.5L509.3 339.9L509.8 341.0L510.2 343.7L511.1 350.0L512.0 355.9L512.1 354.9L513.0 339.8L513.9 324.8L514.5 314.6L514.8 316.7L515.7 323.1L516.5 328.7L516.6 330.4L517.5 342.5L518.5 354.7L518.7 357.5L519.4 344.2L520.3 326.9L520.7 319.5L521.2 323.8L522.1 331.4L522.7 336.1L523.0 339.5L523.9 348.6L524.8 357.5L524.9 357.3L525.8 342.8L526.5 331.0L526.7 332.8L527.6 342.6L527.7 343.3L528.5 312.1L529.3 280.8L529.4 283.0L530.3 310.7L531.2 338.1L531.5 346.0L532.1 341.6L533.1 335.4L534.0 329.3L534.3 327.0L534.9 331.9L535.7 338.6L535.8 340.1L536.7 349.9L537.6 359.8L537.7 360.0L538.5 338.8L539.5 316.9L539.8 308.0L540.4 312.0L541.3 319.0L542.0 324.4L542.2 327.3L543.1 340.7L544.0 353.4L544.0 353.3L544.9 349.4L545.9 345.6L546.8 341.7L547.3 339.4L547.7 342.7L548.6 351.5L549.5 360.3L549.8 363.3L550.4 356.9L551.3 346.7L552.2 336.6L552.7 332.0L553.2 336.2L554.1 343.8L554.8 350.1L555.0 351.1L555.9 356.7L556.8 362.3L557.0 363.4L557.7 353.9L558.6 342.0L558.7 341.8L559.6 344.4L560.5 347.0L560.7 347.6L561.4 353.3L562.3 360.5L562.7 363.3L563.2 360.4L564.1 355.5L564.8 351.8L565.0 350.8L566.0 346.3L566.9 341.7L567.3 339.4L567.8 344.7L568.7 355.6L569.3 363.3L569.6 357.5L570.5 338.1L571.0 327.9L571.4 335.0L572.4 349.9L572.7 355.1L573.3 351.7L574.2 346.4L574.8 342.7L575.1 344.8L576.0 352.5L576.5 356.7L576.9 354.4L577.8 349.5L578.2 347.6L578.7 345.9L579.5 343.5L579.7 344.7L580.6 351.3L581.5 358.0L582.3 364.2L582.4 361.9L583.3 331.3L584.0 308.1L584.2 313.4L585.1 335.7L585.7 348.5L586.0 343.4L587.0 331.1L587.3 326.2L587.9 338.0L588.7 355.0L588.8 350.8L589.7 318.8L590.6 287.3L590.7 285.7L591.5 304.9L592.5 325.5L592.7 330.3L593.4 339.0L594.3 350.5L594.8 357.5L595.2 353.8L596.1 344.3L596.5 340.2L597.0 337.5L597.9 332.7L598.8 327.9L599.0 327.0L599.8 328.3L600.0 328.7L600.7 337.6L601.6 349.6L602.0 355.1L602.5 351.7L603.4 345.3L603.7 343.5L604.3 329.0L605.2 308.6L605.8 295.4L606.1 303.1L607.1 325.4L608.0 348.0L608.0 348.5L608.9 340.9L609.8 333.2L610.7 325.5L611.3 320.3L611.6 323.6L612.5 333.7L613.5 344.0L614.2 351.7L614.4 349.2L615.3 337.4L616.2 325.6L616.7 319.6L617.1 320.9L618.0 323.5L618.7 325.4L618.9 329.2L619.9 341.6L620.8 354.1L620.8 355.1L621.7 347.0L622.6 338.3L623.3 331.1L623.5 332.5L624.4 340.3L625.0 345.1L625.3 341.5L626.2 331.5L626.7 327.0L627.2 331.3L628.0 338.5L628.1 336.7L629.0 312.0L629.7 293.9L629.9 297.1L630.8 309.9L631.7 322.8L632.5 333.6L632.6 331.0L633.5 314.0L634.5 296.8L635.0 286.9L635.4 291.7L636.3 303.3L637.2 315.1L637.5 318.8L638.1 324.1L639.0 331.9L640.0 339.8L640.0 340.2L640.9 333.2L641.8 325.7L642.7 318.2L643.3 312.9L643.6 315.6L644.5 325.0L645.4 334.3L646.3 343.5L646.3 343.4L647.3 337.1L648.2 330.8L648.8 326.2L649.1 325.6L650.0 323.5L650.9 321.4L651.3 320.4L651.8 327.6L652.7 341.3L653.3 350.1L653.6 340.1L654.6 311.3L655.5 282.2L655.8 271.1L656.4 295.4L657.0 322.1L657.3 319.4L658.2 311.4L658.3 310.4L659.1 326.2L660.0 344.3L660.3 350.0L661.0 325.1L661.9 288.9L662.5 263.9L662.8 268.8L663.5 280.7L663.7 278.8L664.5 271.3L664.6 276.3L665.5 317.0L665.5 317.7L666.4 338.4L666.7 343.5L667.4 336.2L668.3 326.4L668.7 322.1L669.2 321.0L670.1 318.9L670.8 317.2L671.0 321.0L671.9 340.8L672.5 353.4L672.8 342.0L673.8 310.1L673.8 307.3L674.7 318.1L675.6 330.1L675.8 333.6L676.5 326.3L677.2 318.8L677.4 323.1L678.3 340.1L678.7 346.8L679.2 342.7L680.1 336.2L681.1 329.6L681.7 325.4L682.0 328.2L682.9 336.7L683.8 345.3L684.7 353.4L684.7 353.1L685.6 346.4L686.5 339.5L686.7 338.5L687.5 324.7L688.4 308.7L689.3 292.4L690.0 279.7L690.2 284.9L691.1 309.8L691.7 325.3L692.0 319.5L692.9 304.2L693.3 297.5L693.8 298.4L694.8 300.0L695.0 300.5L695.7 308.1L696.6 318.7L697.5 329.1L698.3 338.5L698.4 337.4L699.3 323.3L700.2 309.5L700.5 305.5L701.1 311.5L702.1 320.1L703.0 328.5L703.0 328.7L703.9 338.3L704.8 348.1L705.0 350.2L705.7 306.8L706.6 251.9L707.4 205.5L707.5 213.5L708.5 262.3L709.4 311.3L710.0 345.2L710.3 324.7L711.2 260.5L712.1 196.3L712.6 161.7L713.0 153.1L713.2 149.7L713.9 203.1L714.6 250.8L714.9 281.8L715.2 322.3L715.2 368.5Z" fill="#19c9b2"/>
<path d="M48.0 368.5L48.0 310.2L48.2 310.3L48.9 323.8L49.8 340.6L50.3 349.7L50.7 346.0L51.6 337.4L52.3 331.0L52.6 325.8L53.5 306.1L54.0 294.9L54.4 306.5L55.3 333.7L55.3 334.2L56.2 343.9L57.0 352.3L57.1 350.3L58.0 336.3L59.0 322.3L59.3 316.7L59.9 323.2L60.7 332.6L60.8 330.8L61.5 319.8L61.7 322.5L62.6 334.5L63.5 346.4L63.7 348.1L64.4 326.3L64.8 315.2L65.4 320.1L66.3 328.7L66.5 330.9L67.2 326.3L68.1 320.1L68.7 316.4L69.0 321.6L69.9 335.8L70.7 347.2L70.8 342.9L71.5 326.3L71.8 323.9L72.7 314.9L73.3 308.4L73.6 313.1L74.5 330.8L75.4 348.7L75.7 353.7L76.3 340.9L77.2 323.0L77.7 314.5L78.2 318.6L79.1 326.2L79.8 332.7L80.0 333.9L80.9 342.2L81.8 350.4L82.3 355.3L82.7 349.7L83.6 335.9L84.3 325.4L84.5 326.8L85.5 332.8L85.7 334.2L86.4 326.5L87.0 319.5L87.3 324.2L88.2 339.8L89.0 353.7L89.1 351.7L90.0 335.1L90.9 318.7L91.0 317.4L91.8 321.0L92.8 324.7L93.2 326.3L93.7 330.1L94.6 337.2L95.5 344.3L95.7 345.5L96.4 338.2L97.3 329.4L98.2 319.2L99.2 308.8L99.8 301.1L100.1 305.7L101.0 323.7L101.5 334.0L101.9 314.6L102.8 270.4L103.2 253.2L103.7 262.1L104.2 269.1L104.6 253.7L105.3 231.1L105.5 238.2L106.5 268.1L107.0 285.8L107.4 299.7L108.3 333.2L108.7 347.1L109.2 340.9L110.1 330.1L110.3 327.7L111.0 327.0L111.9 326.2L112.7 325.5L112.9 328.0L113.8 339.8L114.7 351.8L114.8 353.6L115.6 342.4L116.5 329.1L116.5 329.0L117.4 323.4L118.3 317.8L119.0 313.8L119.2 318.4L120.2 335.2L121.0 350.4L121.1 348.6L122.0 328.0L122.7 312.8L122.9 311.1L123.8 305.1L124.0 303.9L124.7 315.3L125.7 329.5L126.6 343.5L127.3 355.3L127.5 352.3L128.4 332.0L129.3 311.8L129.8 300.0L130.2 305.5L131.1 318.9L131.5 324.3L132.0 323.3L133.0 321.5L133.2 321.0L133.9 291.2L134.8 252.2L135.3 228.4L135.7 248.3L136.6 298.1L136.7 301.3L137.5 310.5L138.2 317.5L138.4 313.3L139.3 299.1L139.8 291.6L140.3 296.7L141.2 307.6L142.1 318.2L142.3 321.0L143.0 323.2L143.9 326.1L144.8 329.0L145.7 336.2L146.7 343.5L147.0 346.2L147.6 341.9L147.8 339.8L148.5 337.3L149.4 333.6L149.8 331.9L150.3 328.9L151.2 323.3L152.0 318.5L152.1 321.0L153.1 337.4L153.7 348.4L154.0 345.4L154.9 336.4L155.7 328.4L155.8 322.7L156.4 292.9L156.7 285.7L157.6 263.1L158.2 249.7L158.5 265.2L159.4 304.8L159.5 307.0L160.4 310.7L160.7 312.0L161.3 306.7L162.2 298.6L162.7 294.4L163.1 297.9L164.0 305.3L164.2 306.7L164.8 316.9L164.9 317.7L165.8 325.5L166.0 326.9L166.7 297.3L166.8 295.2L167.7 273.6L168.2 261.2L168.6 266.8L169.5 280.2L169.7 282.7L170.3 300.3L170.4 301.6L171.3 312.1L172.2 322.8L172.3 323.5L173.2 306.2L173.7 295.0L174.1 298.2L175.0 306.2L175.0 306.3L175.9 289.4L176.5 277.8L176.8 280.9L177.7 290.1L178.6 299.3L178.9 302.0L179.5 316.2L179.8 321.9L180.5 315.1L180.6 313.6L181.4 309.5L182.3 304.6L182.5 303.4L183.2 312.2L184.1 323.6L184.8 340.1L185.0 334.8L185.5 324.9L185.9 319.1L186.8 308.1L187.0 306.2L187.7 291.5L187.8 290.6L188.7 280.5L189.3 273.6L189.6 277.9L190.5 291.6L190.8 296.5L191.4 313.0L191.5 315.3L192.3 296.1L193.2 276.0L193.2 276.6L194.2 288.4L194.9 298.5L195.1 301.5L195.7 317.0L196.0 302.3L196.8 261.4L196.9 265.3L197.8 301.4L198.2 317.0L198.7 307.7L199.5 294.2L199.6 295.0L200.6 300.5L201.5 306.1L201.5 306.3L202.4 288.5L203.2 271.9L203.3 274.9L204.2 305.5L204.8 325.2L205.1 317.3L205.6 306.7L206.0 300.4L206.9 288.7L207.3 284.2L207.9 289.6L208.8 298.6L209.7 307.5L209.8 308.6L210.6 326.3L210.7 328.5L211.5 300.4L211.5 299.7L212.4 283.7L213.3 267.3L213.5 264.5L214.3 279.6L214.8 290.4L215.2 273.0L216.0 234.0L216.1 235.2L217.0 248.6L217.7 258.8L217.9 253.9L218.8 232.8L219.5 217.0L219.7 224.3L220.7 251.9L221.0 262.5L221.6 272.7L222.5 289.5L222.5 290.6L223.2 313.5L223.4 305.7L223.8 287.7L224.3 277.5L225.2 258.0L225.3 256.3L226.1 260.7L226.5 262.7L227.1 243.7L227.5 228.2L228.0 241.2L228.9 266.9L229.0 270.6L229.8 294.7L230.3 310.3L230.7 283.6L231.6 223.0L232.3 177.0L232.5 188.0L233.4 231.7L234.0 258.7L234.3 254.8L235.3 244.8L235.3 244.5L236.2 299.1L236.6 325.2L237.1 310.5L237.5 298.2L238.0 290.9L238.9 277.9L239.8 265.3L239.8 266.1L240.8 283.6L241.7 301.3L241.8 304.5L242.6 332.4L242.7 336.8L243.4 317.3L243.5 316.7L244.4 304.3L245.2 293.5L245.3 294.3L246.2 300.4L246.2 298.7L247.1 247.3L247.2 243.9L248.1 272.6L248.7 293.0L249.0 312.3L249.3 333.5L249.9 313.3L250.0 310.6L250.8 295.3L251.5 282.7L251.7 285.5L252.6 297.9L252.8 300.3L253.5 291.9L254.0 286.7L254.4 301.2L255.4 330.6L255.6 338.4L256.3 303.6L256.5 292.3L257.2 276.9L258.1 256.3L259.0 236.4L259.0 236.7L259.9 249.7L260.9 262.7L261.8 275.5L261.8 276.1L262.7 307.5L262.7 308.6L263.4 283.9L263.6 281.5L264.5 265.8L265.2 253.8L265.4 257.4L266.2 270.7L266.3 266.0L267.2 233.0L267.3 230.8L268.1 243.2L269.0 255.6L269.1 250.6L270.0 185.5L270.9 120.4L271.0 112.6L271.8 173.4L272.7 241.6L273.0 262.6L273.6 283.4L274.6 313.7L274.8 321.9L275.5 300.8L276.4 271.5L276.5 267.7L277.3 280.2L278.2 294.7L278.2 295.5L279.0 318.3L279.1 319.6L280.0 329.5L280.9 339.5L281.0 340.2L281.9 311.1L282.7 282.7L282.8 284.0L283.7 301.0L284.0 307.0L284.6 309.3L285.5 312.9L286.4 316.4L286.8 317.9L287.3 323.3L287.7 326.9L288.2 313.8L288.6 305.4L289.2 298.4L290.1 286.9L290.7 279.2L291.0 282.7L291.9 293.6L292.8 304.5L292.8 304.9L293.7 325.2L293.7 324.9L294.6 314.3L295.6 303.7L295.7 302.0L296.5 306.0L297.3 310.3L297.4 309.8L298.3 305.5L298.7 303.6L299.2 312.1L300.1 327.4L300.3 330.2L301.0 311.9L301.2 308.7L301.9 298.6L302.9 286.7L303.2 282.4L303.8 287.7L304.7 295.9L304.7 296.2L305.3 306.9L305.6 311.8L306.5 326.1L307.3 338.4L307.4 335.4L308.4 313.7L309.0 298.3L309.3 301.7L310.2 313.4L310.7 320.2L311.1 320.7L312.0 321.9L312.9 331.8L313.7 340.1L313.8 338.3L314.5 328.2L314.7 326.7L315.7 319.9L316.5 313.6L316.6 313.9L317.5 317.4L318.2 320.2L318.4 321.7L319.3 328.5L319.7 331.1L320.2 339.0L320.3 340.1L321.1 325.9L321.1 325.0L322.1 316.0L322.8 308.6L323.0 310.1L323.9 319.0L324.0 320.2L324.8 329.6L325.7 340.5L326.0 344.1L326.6 327.7L326.7 326.6L327.5 314.6L328.2 305.3L328.4 303.1L329.4 294.5L329.8 290.5L330.3 267.2L331.2 221.6L331.2 221.1L332.1 255.3L332.5 270.5L333.0 283.9L333.7 302.0L333.9 296.1L334.8 272.8L335.7 250.8L335.8 251.3L336.7 261.1L337.0 264.6L337.6 254.3L338.5 238.1L338.5 237.9L339.4 245.9L340.0 251.4L340.3 256.1L340.7 262.5L341.2 256.0L342.1 244.8L342.3 242.9L343.1 259.6L344.0 279.5L344.2 284.3L344.9 313.6L345.0 318.2L345.8 285.5L346.5 256.9L346.7 260.7L347.6 277.4L347.8 280.5L348.5 262.0L349.4 239.4L349.5 238.2L350.4 261.1L351.0 278.7L351.3 290.8L351.7 312.0L352.2 297.2L352.4 291.6L353.1 280.5L354.0 266.8L354.0 267.0L354.9 277.7L355.0 278.4L355.9 241.9L356.0 235.5L356.8 263.1L357.7 296.6L358.0 308.2L358.6 292.0L358.8 287.7L359.5 276.9L360.4 263.7L360.5 262.5L361.2 235.5L361.3 234.0L362.2 216.9L363.0 202.8L363.2 212.6L364.1 268.6L364.6 301.2L365.0 290.3L365.5 275.4L365.9 269.9L366.8 257.4L367.7 244.8L367.8 243.7L368.6 256.9L369.6 271.2L370.1 279.9L370.5 292.0L371.0 309.5L371.4 302.3L371.9 292.5L372.3 288.6L373.2 279.5L374.0 271.7L374.1 272.6L375.0 279.8L375.1 280.3L375.9 266.7L376.2 262.7L376.9 296.0L377.6 333.4L377.8 327.6L378.3 310.9L378.7 303.2L379.6 287.0L379.8 283.5L380.5 271.1L381.0 262.6L381.4 243.7L382.3 205.6L382.3 206.5L383.2 226.9L383.7 236.9L384.2 220.5L385.0 191.5L385.1 187.9L386.0 147.1L386.2 138.3L386.9 163.0L387.6 187.2L387.8 181.9L388.7 159.7L389.0 153.5L389.6 182.9L390.4 216.9L390.6 214.5L391.5 200.9L391.7 197.6L392.4 225.8L393.0 250.7L393.3 260.6L394.0 283.5L394.2 288.0L394.8 300.5L395.1 307.7L396.0 329.4L396.5 340.3L397.0 335.8L397.9 326.9L398.7 319.0L398.8 318.2L399.7 311.0L400.6 303.8L400.7 303.5L401.5 321.2L402.4 340.5L402.7 345.2L403.4 334.2L404.3 319.5L404.5 315.6L405.2 321.2L406.1 328.7L406.5 332.1L407.0 336.6L407.9 344.7L408.8 352.8L409.0 354.3L409.8 343.4L410.7 330.2L411.5 318.1L411.6 318.5L412.5 323.1L412.7 323.9L413.4 320.0L414.3 315.1L414.5 314.1L415.2 330.1L416.0 346.9L416.1 345.0L417.1 332.8L418.0 320.5L418.9 308.3L419.0 306.7L419.8 311.6L420.7 317.2L421.0 319.0L421.6 328.1L422.5 341.6L422.7 343.5L423.4 334.9L424.0 328.7L424.4 316.9L425.3 286.8L425.7 274.2L426.2 285.8L427.1 306.0L427.2 307.6L428.0 332.7L428.7 351.8L428.9 347.4L429.8 332.1L430.3 323.9L430.8 323.0L431.7 321.3L432.0 320.7L432.6 323.1L433.2 325.7L433.5 328.3L434.4 335.4L434.8 338.7L435.3 334.4L436.2 326.2L436.5 323.9L437.1 321.0L438.1 316.9L438.2 316.5L439.0 323.3L439.8 330.4L439.9 331.0L440.8 340.1L441.7 349.1L442.0 351.8L442.6 345.6L443.6 336.5L443.7 335.3L444.5 334.2L445.3 332.9L445.4 333.3L446.3 342.4L447.2 351.4L447.7 356.0L448.1 352.4L449.0 344.8L449.9 337.3L450.9 329.8L451.2 327.2L451.8 333.5L452.7 343.1L453.6 352.7L453.7 353.5L454.5 342.3L455.3 331.4L455.4 331.4L456.3 332.7L456.5 332.9L457.2 327.3L457.8 323.0L458.2 324.2L459.1 327.7L459.3 328.7L460.0 338.9L460.7 349.3L460.9 342.6L461.8 315.9L462.3 301.1L462.7 303.7L463.6 310.0L464.0 312.4L464.6 322.3L465.5 338.5L465.7 341.9L466.4 326.4L466.8 316.7L467.3 323.5L468.2 337.0L468.7 343.7L469.1 339.9L469.8 333.9L470.0 333.6L470.9 332.5L471.9 331.4L472.0 331.3L472.8 338.9L473.7 347.9L474.0 351.0L474.6 334.5L475.5 309.2L476.0 296.0L476.4 286.0L477.0 272.7L477.3 281.3L478.2 302.5L478.3 302.3L479.0 300.8L479.2 305.7L480.1 331.8L480.3 338.6L481.0 332.7L481.9 324.5L482.3 320.8L482.8 323.8L483.7 328.9L483.7 327.1L484.6 303.9L485.0 295.0L485.6 315.3L486.5 347.8L486.5 348.6L487.4 338.9L488.2 330.5L488.3 331.6L489.2 338.3L489.5 340.4L490.1 321.7L490.7 305.9L491.1 314.4L492.0 334.7L492.8 354.2L492.9 353.7L493.8 340.1L494.5 329.6L494.7 330.6L495.6 335.2L495.7 335.3L496.5 315.3L497.0 304.3L497.4 313.6L498.4 333.0L499.3 352.2L499.3 353.4L500.2 345.9L501.1 337.7L501.2 337.1L502.0 335.4L502.9 333.5L503.2 333.1L503.8 339.0L504.0 340.4L504.8 347.8L505.3 353.5L505.7 348.8L506.6 335.6L507.0 329.6L507.5 332.3L508.4 337.2L508.7 338.7L509.3 340.0L509.8 341.1L510.2 343.9L511.1 350.1L512.0 356.0L512.1 355.0L513.0 340.0L513.9 325.0L514.5 314.9L514.8 317.0L515.7 323.4L516.5 328.9L516.6 330.6L517.5 342.7L518.5 354.8L518.7 357.6L519.4 344.4L520.3 327.2L520.7 319.9L521.2 324.1L522.1 331.7L522.7 336.3L523.0 339.7L523.9 348.7L524.8 357.6L524.9 357.3L525.8 343.0L526.5 331.3L526.7 333.1L527.6 342.8L527.7 343.5L528.5 312.3L529.3 281.3L529.4 283.5L530.3 311.1L531.2 338.3L531.5 346.1L532.1 341.8L533.1 335.7L534.0 329.6L534.3 327.3L534.9 332.2L535.7 338.8L535.8 340.3L536.7 350.0L537.6 359.8L537.7 360.0L538.5 339.0L539.5 317.4L539.8 308.5L540.4 312.5L541.3 319.4L542.0 324.7L542.2 327.6L543.1 340.8L544.0 353.5L544.0 353.4L544.9 349.5L545.9 345.7L546.8 341.9L547.3 339.6L547.7 342.8L548.6 351.6L549.5 360.3L549.8 363.3L550.4 356.9L551.3 346.8L552.2 336.9L552.7 332.3L553.2 336.5L554.1 344.0L554.8 350.2L555.0 351.2L555.9 356.8L556.8 362.3L557.0 363.4L557.7 354.0L558.6 342.2L558.7 342.0L559.6 344.6L560.5 347.2L560.7 347.8L561.4 353.4L562.3 360.5L562.7 363.4L563.2 360.5L564.1 355.6L564.8 351.9L565.0 350.9L566.0 346.4L566.9 341.9L567.3 339.7L567.8 345.0L568.7 355.7L569.3 363.3L569.6 357.5L570.5 338.3L571.0 328.2L571.4 335.3L572.4 350.0L572.7 355.2L573.3 351.8L574.2 346.6L574.8 342.9L575.1 345.0L576.0 352.6L576.5 356.8L576.9 354.5L577.8 349.6L578.2 347.7L578.7 346.0L579.5 343.7L579.7 344.8L580.6 351.4L581.5 358.0L582.3 364.2L582.4 362.0L583.3 331.6L584.0 308.6L584.2 313.8L585.1 336.0L585.7 348.6L586.0 343.6L587.0 331.5L587.3 326.7L587.9 338.4L588.7 355.1L588.8 351.0L589.7 319.4L590.6 288.1L590.7 286.5L591.5 305.4L592.5 325.8L592.7 330.6L593.4 339.2L594.3 350.6L594.8 357.6L595.2 354.0L596.1 344.5L596.5 340.4L597.0 337.7L597.9 332.9L598.8 328.2L599.0 327.3L599.8 328.6L600.0 329.0L600.7 337.8L601.6 349.7L602.0 355.2L602.5 351.9L603.4 345.6L603.7 343.7L604.3 329.4L605.2 309.1L605.8 296.1L606.1 303.7L607.1 325.8L608.0 348.2L608.0 348.7L608.9 341.2L609.8 333.6L610.7 325.9L611.3 320.7L611.6 324.0L612.5 334.0L613.5 344.1L614.2 351.9L614.4 349.3L615.3 337.7L616.2 326.0L616.7 320.1L617.1 321.4L618.0 323.9L618.7 325.8L618.9 329.5L619.9 341.8L620.8 354.2L620.8 355.2L621.7 347.2L622.6 338.6L623.3 331.6L623.5 332.9L624.4 340.5L625.0 345.4L625.3 341.8L626.2 331.8L626.7 327.3L627.2 331.5L628.0 338.8L628.1 336.9L629.0 312.5L629.7 294.7L629.9 297.9L630.8 310.5L631.7 323.2L632.5 333.9L632.6 331.3L633.5 314.4L634.5 297.4L635.0 287.6L635.4 292.5L636.3 304.1L637.2 315.7L637.5 319.4L638.1 324.6L639.0 332.3L640.0 340.0L640.0 340.5L640.9 333.5L641.8 326.1L642.7 318.7L643.3 313.5L643.6 316.2L644.5 325.4L645.4 334.6L646.3 343.6L646.3 343.6L647.3 337.3L648.2 331.0L648.8 326.5L649.1 326.0L650.0 323.9L650.9 321.9L651.3 321.0L651.8 328.1L652.7 341.6L653.3 350.3L653.6 340.4L654.6 311.8L655.5 283.1L655.8 272.1L656.4 296.2L657.0 322.6L657.3 320.0L658.2 312.1L658.3 311.2L659.1 326.7L660.0 344.5L660.3 350.2L661.0 325.5L661.9 289.5L662.5 264.7L662.8 269.6L663.5 281.5L663.7 279.6L664.5 272.3L664.6 277.2L665.5 317.6L665.5 318.2L666.4 338.6L666.7 343.7L667.4 336.4L668.3 326.7L668.7 322.5L669.2 321.3L670.1 319.4L670.8 317.7L671.0 321.5L671.9 341.1L672.5 353.6L672.8 342.3L673.8 310.7L673.8 308.0L674.7 318.6L675.6 330.4L675.8 333.8L676.5 326.6L677.2 319.2L677.4 323.5L678.3 340.4L678.7 347.0L679.2 343.0L680.1 336.5L681.1 329.9L681.7 325.6L682.0 328.4L682.9 336.9L683.8 345.5L684.7 353.5L684.7 353.3L685.6 346.6L686.5 339.8L686.7 338.8L687.5 325.2L688.4 309.3L689.3 293.2L690.0 280.6L690.2 285.7L691.1 310.4L691.7 325.8L692.0 320.0L692.9 305.0L693.3 298.4L693.8 299.2L694.8 300.7L695.0 301.1L695.7 308.6L696.6 319.0L697.5 329.3L698.3 338.7L698.4 337.6L699.3 323.8L700.2 310.1L700.5 306.2L701.1 312.1L702.1 320.5L703.0 328.8L703.0 329.0L703.9 338.5L704.8 348.3L705.0 350.3L705.7 307.5L706.6 253.5L707.4 207.8L707.5 215.7L708.5 263.6L709.4 311.8L710.0 345.3L710.3 325.0L711.2 261.4L712.1 198.0L712.6 163.9L713.0 155.5L713.2 152.2L713.9 205.0L714.6 252.1L714.9 282.7L715.2 322.7L715.2 368.5Z" fill="#3fe35a"/>
<path d="M48.0 368.5L48.0 310.5L48.2 310.6L48.9 324.0L49.8 340.7L50.3 349.8L50.7 346.1L51.6 337.6L52.3 331.2L52.6 326.0L53.5 306.4L54.0 295.3L54.4 306.8L55.3 333.8L55.3 334.4L56.2 344.0L57.0 352.3L57.1 350.4L58.0 336.4L59.0 322.6L59.3 317.0L59.9 323.4L60.7 332.8L60.8 331.0L61.5 320.1L61.7 322.7L62.6 334.7L63.5 346.5L63.7 348.2L64.4 326.5L64.8 315.5L65.4 320.4L66.3 328.9L66.5 331.1L67.2 326.5L68.1 320.3L68.7 316.6L69.0 321.9L69.9 335.9L70.7 347.3L70.8 343.0L71.5 326.5L71.8 324.1L72.7 315.2L73.3 308.7L73.6 313.4L74.5 330.9L75.4 348.8L75.7 353.8L76.3 341.0L77.2 323.3L77.7 314.8L78.2 318.9L79.1 326.5L79.8 332.9L80.0 334.1L80.9 342.3L81.8 350.5L82.3 355.4L82.7 349.8L83.6 336.0L84.3 325.6L84.5 327.0L85.5 333.0L85.7 334.4L86.4 326.7L87.0 319.8L87.3 324.5L88.2 339.9L89.0 353.7L89.1 351.7L90.0 335.2L90.9 318.9L91.0 317.7L91.8 321.2L92.8 324.9L93.2 326.5L93.7 330.3L94.6 337.4L95.5 344.4L95.7 345.7L96.4 338.4L97.3 329.6L98.2 319.5L99.2 309.2L99.8 301.5L100.1 306.1L101.0 323.9L101.5 334.2L101.9 314.9L102.8 271.0L103.2 253.9L103.7 262.6L104.2 269.6L104.6 254.2L105.3 231.8L105.5 238.8L106.5 268.6L107.0 286.2L107.4 300.1L108.3 333.4L108.7 347.2L109.2 341.0L110.1 330.3L110.3 327.9L111.0 327.2L111.9 326.4L112.7 325.7L112.9 328.2L113.8 340.0L114.7 351.9L114.8 353.7L115.6 342.5L116.5 329.3L116.5 329.3L117.4 323.6L118.3 318.1L119.0 314.1L119.2 318.6L120.2 335.4L121.0 350.5L121.1 348.7L122.0 328.3L122.7 313.1L122.9 311.5L123.8 305.4L124.0 304.2L124.7 315.5L125.7 329.7L126.6 343.6L127.3 355.4L127.5 352.4L128.4 332.2L129.3 312.1L129.8 300.4L130.2 305.9L131.1 319.1L131.5 324.5L132.0 323.5L133.0 321.8L133.2 321.3L133.9 291.6L134.8 252.9L135.3 229.4L135.7 249.1L136.6 298.5L136.7 301.7L137.5 310.8L138.2 317.8L138.4 313.5L139.3 299.4L139.8 291.9L140.3 297.0L141.2 307.9L142.1 318.5L142.3 321.3L143.0 323.4L143.9 326.4L144.8 329.2L145.7 336.3L146.7 343.6L147.0 346.2L147.6 342.0L147.8 339.9L148.5 337.3L149.4 333.7L149.8 331.9L150.3 329.0L151.2 323.3L152.0 318.6L152.1 321.1L153.1 337.4L153.7 348.4L154.0 345.4L154.9 336.4L155.7 328.4L155.8 322.7L156.4 293.0L156.7 285.8L157.6 263.2L158.2 249.8L158.5 265.3L159.4 304.9L159.5 307.0L160.4 310.7L160.7 312.0L161.3 306.7L162.2 298.6L162.7 294.4L163.1 297.9L164.0 305.4L164.2 306.8L164.8 316.9L164.9 317.8L165.8 325.6L166.0 326.9L166.7 297.3L166.8 295.2L167.7 273.7L168.2 261.4L168.6 266.9L169.5 280.4L169.7 282.8L170.3 300.4L170.4 301.7L171.3 312.2L172.2 322.8L172.3 323.5L173.2 306.2L173.7 295.1L174.1 298.2L175.0 306.2L175.0 306.4L175.9 289.5L176.5 278.0L176.8 281.0L177.7 290.2L178.6 299.4L178.9 302.1L179.5 316.2L179.8 322.0L180.5 315.2L180.6 313.6L181.4 309.5L182.3 304.6L182.5 303.4L183.2 312.2L184.1 323.6L184.8 340.2L185.0 334.9L185.5 324.9L185.9 319.1L186.8 308.1L187.0 306.3L187.7 291.6L187.8 290.7L188.7 280.6L189.3 273.7L189.6 278.0L190.5 291.7L190.8 296.6L191.4 313.0L191.5 315.3L192.3 296.1L193.2 276.1L193.2 276.8L194.2 288.4L194.9 298.6L195.1 301.6L195.7 317.0L196.0 302.3L196.8 261.5L196.9 265.5L197.8 301.5L198.2 317.0L198.7 307.7L199.5 294.3L199.6 295.1L200.6 300.6L201.5 306.1L201.5 306.3L202.4 288.5L203.2 272.0L203.3 275.0L204.2 305.6L204.8 325.2L205.1 317.4L205.6 306.8L206.0 300.5L206.9 288.8L207.3 284.3L207.9 289.7L208.8 298.7L209.7 307.6L209.8 308.6L210.6 326.4L210.7 328.6L211.5 300.4L211.5 299.8L212.4 283.8L213.3 267.5L213.5 264.6L214.3 279.7L214.8 290.5L215.2 273.1L216.0 234.2L216.1 235.3L217.0 248.8L217.7 258.9L217.9 254.1L218.8 233.1L219.5 217.3L219.7 224.5L220.7 252.0L221.0 262.7L221.6 272.8L222.5 289.5L222.5 290.6L223.2 313.6L223.4 305.8L223.8 287.8L224.3 277.6L225.2 258.1L225.3 256.4L226.1 260.9L226.5 262.8L227.1 243.9L227.5 228.5L228.0 241.4L228.9 267.0L229.0 270.7L229.8 294.8L230.3 310.4L230.7 283.7L231.6 223.2L232.3 177.4L232.5 188.4L233.4 232.0L234.0 258.8L234.3 255.0L235.3 245.0L235.3 244.7L236.2 299.1L236.6 325.2L237.1 310.5L237.5 298.3L238.0 291.0L238.9 278.0L239.8 265.4L239.8 266.2L240.8 283.7L241.7 301.3L241.8 304.6L242.6 332.4L242.7 336.9L243.4 317.3L243.5 316.8L244.4 304.4L245.2 293.5L245.3 294.4L246.2 300.5L246.2 298.8L247.1 247.5L247.2 244.2L248.1 272.8L248.7 293.1L249.0 312.3L249.3 333.5L249.9 313.4L250.0 310.6L250.8 295.4L251.5 282.8L251.7 285.6L252.6 298.0L252.8 300.4L253.5 292.0L254.0 286.8L254.4 301.3L255.4 330.7L255.6 338.4L256.3 303.6L256.5 292.4L257.2 277.0L258.1 256.4L259.0 236.6L259.0 236.9L259.9 249.8L260.9 262.8L261.8 275.6L261.8 276.2L262.7 307.5L262.7 308.6L263.4 284.0L263.6 281.6L264.5 265.9L265.2 254.0L265.4 257.5L266.2 270.8L266.3 266.1L267.2 233.2L267.3 231.0L268.1 243.4L269.0 255.8L269.1 250.8L270.0 185.8L270.9 120.9L271.0 113.0L271.8 173.6L272.7 241.8L273.0 262.7L273.6 283.4L274.6 313.7L274.8 322.0L275.5 300.9L276.4 271.7L276.5 267.9L277.3 280.3L278.2 294.8L278.2 295.6L279.0 318.3L279.1 319.6L280.0 329.6L280.9 339.5L281.0 340.2L281.9 311.1L282.7 282.8L282.8 284.1L283.7 301.0L284.0 307.0L284.6 309.4L285.5 312.9L286.4 316.5L286.8 318.0L287.3 323.4L287.7 326.9L288.2 313.8L288.6 305.5L289.2 298.5L290.1 287.0L290.7 279.3L291.0 282.8L291.9 293.7L292.8 304.5L292.8 305.0L293.7 325.2L293.7 324.9L294.6 314.4L295.6 303.7L295.7 302.1L296.5 306.1L297.3 310.3L297.4 309.9L298.3 305.6L298.7 303.7L299.2 312.1L300.1 327.4L300.3 330.2L301.0 312.0L301.2 308.8L301.9 298.7L302.9 286.8L303.2 282.6L303.8 287.8L304.7 295.9L304.7 296.3L305.3 307.0L305.6 311.9L306.5 326.2L307.3 338.4L307.4 335.4L308.4 313.7L309.0 298.4L309.3 301.7L310.2 313.4L310.7 320.3L311.1 320.8L312.0 321.9L312.9 331.8L313.7 340.2L313.8 338.3L314.5 328.2L314.7 326.7L315.7 319.9L316.5 313.6L316.6 313.9L317.5 317.5L318.2 320.3L318.4 321.7L319.3 328.5L319.7 331.2L320.2 339.0L320.3 340.1L321.1 325.9L321.1 325.1L322.1 316.0L322.8 308.6L323.0 310.2L323.9 319.1L324.0 320.2L324.8 329.7L325.7 340.5L326.0 344.1L326.6 327.7L326.7 326.6L327.5 314.6L328.2 305.3L328.4 303.1L329.4 294.6L329.8 290.5L330.3 267.3L331.2 221.9L331.2 221.4L332.1 255.5L332.5 270.7L333.0 284.0L333.7 302.1L333.9 296.2L334.8 272.9L335.7 251.0L335.8 251.5L336.7 261.3L337.0 264.8L337.6 254.5L338.5 238.3L338.5 238.1L339.4 246.1L340.0 251.6L340.3 256.2L340.7 262.6L341.2 256.1L342.1 244.9L342.3 243.1L343.1 259.7L344.0 279.6L344.2 284.4L344.9 313.7L345.0 318.3L345.8 285.6L346.5 257.1L346.7 260.9L347.6 277.5L347.8 280.6L348.5 262.2L349.4 239.6L349.5 238.4L350.4 261.3L351.0 278.9L351.3 290.9L351.7 312.0L352.2 297.3L352.4 291.7L353.1 280.6L354.0 266.9L354.0 267.2L354.9 277.8L355.0 278.5L355.9 242.1L356.0 235.6L356.8 263.3L357.7 296.7L358.0 308.3L358.6 292.1L358.8 287.8L359.5 277.0L360.4 263.8L360.5 262.6L361.2 235.7L361.3 234.2L362.2 217.1L363.0 203.0L363.2 212.8L364.1 268.7L364.6 301.2L365.0 290.4L365.5 275.5L365.9 270.0L366.8 257.5L367.7 245.0L367.8 243.9L368.6 257.1L369.6 271.3L370.1 280.0L370.5 292.1L371.0 309.5L371.4 302.4L371.9 292.6L372.3 288.7L373.2 279.7L374.0 271.8L374.1 272.8L375.0 279.9L375.1 280.5L375.9 266.8L376.2 262.8L376.9 296.1L377.6 333.5L377.8 327.7L378.3 311.0L378.7 303.3L379.6 287.1L379.8 283.6L380.5 271.3L381.0 262.8L381.4 243.9L382.3 205.9L382.3 206.8L383.2 227.1L383.7 237.1L384.2 220.7L385.0 191.8L385.1 188.3L386.0 147.6L386.2 138.8L386.9 163.5L387.6 187.5L387.8 182.3L388.7 160.2L389.0 153.9L389.6 183.2L390.4 217.1L390.6 214.7L391.5 201.1L391.7 197.9L392.4 226.0L393.0 250.8L393.3 260.7L394.0 283.7L394.2 288.1L394.8 300.6L395.1 307.8L396.0 329.5L396.5 340.4L397.0 335.9L397.9 327.0L398.7 319.1L398.8 318.3L399.7 311.1L400.6 304.0L400.7 303.6L401.5 321.3L402.4 340.6L402.7 345.3L403.4 334.3L404.3 319.6L404.5 315.7L405.2 321.3L406.1 328.8L406.5 332.2L407.0 336.7L407.9 344.7L408.8 352.8L409.0 354.3L409.8 343.5L410.7 330.3L411.5 318.2L411.6 318.6L412.5 323.1L412.7 324.0L413.4 320.1L414.3 315.2L414.5 314.2L415.2 330.1L416.0 347.0L416.1 345.1L417.1 332.9L418.0 320.6L418.9 308.4L419.0 306.8L419.8 311.7L420.7 317.3L421.0 319.1L421.6 328.2L422.5 341.6L422.7 343.6L423.4 334.9L424.0 328.8L424.4 317.0L425.3 286.9L425.7 274.4L426.2 285.9L427.1 306.1L427.2 307.7L428.0 332.8L428.7 351.8L428.9 347.5L429.8 332.2L430.3 324.0L430.8 323.1L431.7 321.4L432.0 320.8L432.6 323.2L433.2 325.8L433.5 328.4L434.4 335.5L434.8 338.8L435.3 334.5L436.2 326.3L436.5 324.0L437.1 321.1L438.1 317.0L438.2 316.6L439.0 323.4L439.8 330.5L439.9 331.1L440.8 340.2L441.7 349.1L442.0 351.9L442.6 345.7L443.6 336.6L443.7 335.4L444.5 334.2L445.3 333.0L445.4 333.3L446.3 342.4L447.2 351.4L447.7 356.0L448.1 352.4L449.0 344.8L449.9 337.4L450.9 329.9L451.2 327.3L451.8 333.6L452.7 343.2L453.6 352.7L453.7 353.5L454.5 342.3L455.3 331.4L455.4 331.5L456.3 332.8L456.5 333.0L457.2 327.4L457.8 323.1L458.2 324.3L459.1 327.8L459.3 328.8L460.0 339.0L460.7 349.3L460.9 342.6L461.8 316.0L462.3 301.2L462.7 303.8L463.6 310.1L464.0 312.6L464.6 322.5L465.5 338.6L465.7 342.0L466.4 326.5L466.8 316.8L467.3 323.6L468.2 337.0L468.7 343.7L469.1 339.9L469.8 333.9L470.0 333.7L470.9 332.6L471.9 331.5L472.0 331.4L472.8 339.0L473.7 348.0L474.0 351.0L474.6 334.5L475.5 309.3L476.0 296.1L476.4 286.2L477.0 272.9L477.3 281.6L478.2 302.6L478.3 302.5L479.0 301.0L479.2 305.8L480.1 331.8L480.3 338.6L481.0 332.8L481.9 324.6L482.3 320.9L482.8 323.9L483.7 328.9L483.7 327.2L484.6 304.1L485.0 295.2L485.6 315.4L486.5 347.9L486.5 348.6L487.4 339.0L488.2 330.6L488.3 331.6L489.2 338.3L489.5 340.4L490.1 321.8L490.7 306.1L491.1 314.5L492.0 334.8L492.8 354.2L492.9 353.8L493.8 340.2L494.5 329.7L494.7 330.7L495.6 335.2L495.7 335.4L496.5 315.4L497.0 304.5L497.4 313.7L498.4 333.0L499.3 352.2L499.3 353.5L500.2 346.0L501.1 337.7L501.2 337.1L502.0 335.4L502.9 333.6L503.2 333.1L503.8 339.0L504.0 340.5L504.8 347.8L505.3 353.5L505.7 348.9L506.6 335.7L507.0 329.7L507.5 332.3L508.4 337.3L508.7 338.7L509.3 340.1L509.8 341.2L510.2 343.9L511.1 350.1L512.0 356.0L512.1 355.0L513.0 340.1L513.9 325.1L514.5 315.0L514.8 317.1L515.7 323.5L516.5 329.0L516.6 330.7L517.5 342.8L518.5 354.8L518.7 357.6L519.4 344.4L520.3 327.3L520.7 320.0L521.2 324.3L522.1 331.8L522.7 336.3L523.0 339.8L523.9 348.7L524.8 357.6L524.9 357.4L525.8 343.0L526.5 331.4L526.7 333.2L527.6 342.8L527.7 343.5L528.5 312.5L529.3 281.5L529.4 283.7L530.3 311.2L531.2 338.4L531.5 346.2L532.1 341.9L533.1 335.8L534.0 329.7L534.3 327.4L534.9 332.2L535.7 338.8L535.8 340.3L536.7 350.0L537.6 359.8L537.7 360.0L538.5 339.1L539.5 317.5L539.8 308.7L540.4 312.7L541.3 319.5L542.0 324.8L542.2 327.7L543.1 340.9L544.0 353.5L544.0 353.4L544.9 349.6L545.9 345.7L546.8 342.0L547.3 339.6L547.7 342.9L548.6 351.6L549.5 360.3L549.8 363.3L550.4 356.9L551.3 346.8L552.2 336.9L552.7 332.4L553.2 336.5L554.1 344.1L554.8 350.3L555.0 351.2L555.9 356.8L556.8 362.3L557.0 363.4L557.7 354.0L558.6 342.3L558.7 342.1L559.6 344.6L560.5 347.2L560.7 347.8L561.4 353.4L562.3 360.5L562.7 363.4L563.2 360.5L564.1 355.6L564.8 351.9L565.0 350.9L566.0 346.4L566.9 342.0L567.3 339.7L567.8 345.0L568.7 355.8L569.3 363.4L569.6 357.6L570.5 338.4L571.0 328.3L571.4 335.4L572.4 350.1L572.7 355.2L573.3 351.8L574.2 346.6L574.8 343.0L575.1 345.1L576.0 352.6L576.5 356.8L576.9 354.5L577.8 349.6L578.2 347.8L578.7 346.0L579.5 343.7L579.7 344.9L580.6 351.5L581.5 358.0L582.3 364.2L582.4 362.0L583.3 331.7L584.0 308.7L584.2 314.0L585.1 336.0L585.7 348.6L586.0 343.6L587.0 331.5L587.3 326.8L587.9 338.4L588.7 355.1L588.8 351.0L589.7 319.5L590.6 288.3L590.7 286.8L591.5 305.6L592.5 325.9L592.7 330.7L593.4 339.3L594.3 350.6L594.8 357.6L595.2 354.0L596.1 344.6L596.5 340.5L597.0 337.8L597.9 333.0L598.8 328.2L599.0 327.4L599.8 328.7L600.0 329.1L600.7 337.9L601.6 349.8L602.0 355.3L602.5 351.9L603.4 345.6L603.7 343.8L604.3 329.5L605.2 309.3L605.8 296.3L606.1 303.9L607.1 325.9L608.0 348.2L608.0 348.7L608.9 341.3L609.8 333.7L610.7 326.0L611.3 320.9L611.6 324.1L612.5 334.0L613.5 344.1L614.2 351.9L614.4 349.3L615.3 337.8L616.2 326.1L616.7 320.2L617.1 321.5L618.0 324.1L618.7 325.9L618.9 329.6L619.9 341.9L620.8 354.2L620.8 355.2L621.7 347.2L622.6 338.7L623.3 331.7L623.5 333.0L624.4 340.6L625.0 345.4L625.3 341.9L626.2 331.9L626.7 327.4L627.2 331.6L628.0 338.8L628.1 337.0L629.0 312.6L629.7 294.8L629.9 298.0L630.8 310.6L631.7 323.3L632.5 334.0L632.6 331.4L633.5 314.5L634.5 297.5L635.0 287.8L635.4 292.6L636.3 304.2L637.2 315.9L637.5 319.5L638.1 324.7L639.0 332.4L640.0 340.1L640.0 340.5L640.9 333.6L641.8 326.2L642.7 318.8L643.3 313.6L643.6 316.3L644.5 325.5L645.4 334.6L646.3 343.7L646.3 343.7L647.3 337.3L648.2 331.1L648.8 326.6L649.1 326.0L650.0 324.0L650.9 322.0L651.3 321.1L651.8 328.2L652.7 341.7L653.3 350.3L653.6 340.4L654.6 312.0L655.5 283.3L655.8 272.4L656.4 296.3L657.0 322.7L657.3 320.1L658.2 312.3L658.3 311.3L659.1 326.8L660.0 344.5L660.3 350.2L661.0 325.6L661.9 289.7L662.5 264.9L662.8 269.8L663.5 281.7L663.7 279.8L664.5 272.5L664.6 277.4L665.5 317.7L665.5 318.3L666.4 338.7L666.7 343.7L667.4 336.5L668.3 326.8L668.7 322.6L669.2 321.4L670.1 319.5L670.8 317.8L671.0 321.6L671.9 341.2L672.5 353.6L672.8 342.4L673.8 310.9L673.8 308.1L674.7 318.7L675.6 330.5L675.8 333.9L676.5 326.7L677.2 319.3L677.4 323.6L678.3 340.4L678.7 347.0L679.2 343.0L680.1 336.6L681.1 330.0L681.7 325.8L682.0 328.5L682.9 337.0L683.8 345.5L684.7 353.6L684.7 353.3L685.6 346.6L686.5 339.9L686.7 338.9L687.5 325.3L688.4 309.4L689.3 293.4L690.0 280.8L690.2 285.9L691.1 310.6L691.7 325.8L692.0 320.1L692.9 305.2L693.3 298.6L693.8 299.4L694.8 300.9L695.0 301.3L695.7 308.8L696.6 319.1L697.5 329.4L698.3 338.8L698.4 337.7L699.3 323.9L700.2 310.2L700.5 306.3L701.1 312.2L702.1 320.6L703.0 328.9L703.0 329.1L703.9 338.6L704.8 348.3L705.0 350.3L705.7 307.6L706.6 253.8L707.4 208.3L707.5 216.1L708.5 264.0L709.4 312.0L710.0 345.4L710.3 325.2L711.2 261.7L712.1 198.4L712.6 164.4L713.0 156.0L713.2 152.7L713.9 205.4L714.6 252.4L714.9 282.9L715.2 322.8L715.2 368.5Z" fill="#f7c61c"/>
<path d="M48.0 368.5L48.0 312.0L48.2 312.1L48.9 325.2L49.8 341.4L50.3 350.2L50.7 346.5L51.6 338.2L52.3 331.9L52.6 326.9L53.5 307.9L54.0 297.1L54.4 308.3L55.3 334.6L55.3 335.2L56.2 344.5L57.0 352.6L57.1 350.7L58.0 336.9L59.0 323.3L59.3 317.9L59.9 324.2L60.7 333.5L60.8 331.7L61.5 321.2L61.7 323.8L62.6 335.5L63.5 347.0L63.7 348.7L64.4 327.4L64.8 316.6L65.4 321.3L66.3 329.7L66.5 331.9L67.2 327.4L68.1 321.5L68.7 318.0L69.0 323.1L69.9 336.7L70.7 347.8L70.8 343.6L71.5 327.3L71.8 324.9L72.7 316.2L73.3 309.8L73.6 314.4L74.5 331.7L75.4 349.3L75.7 354.1L76.3 341.6L77.2 324.2L77.7 315.9L78.2 319.8L79.1 327.2L79.8 333.5L80.0 334.7L80.9 342.9L81.8 351.0L82.3 355.7L82.7 350.2L83.6 336.9L84.3 326.7L84.5 327.9L85.5 333.7L85.7 335.1L86.4 327.5L87.0 320.7L87.3 325.3L88.2 340.5L89.0 354.1L89.1 352.1L90.0 336.0L90.9 320.0L91.0 318.8L91.8 322.1L92.8 325.6L93.2 327.2L93.7 330.9L94.6 337.9L95.5 344.9L95.7 346.1L96.4 339.1L97.3 330.6L98.2 320.7L99.2 310.5L99.8 303.0L100.1 307.4L101.0 324.8L101.5 334.9L101.9 316.1L102.8 273.6L103.2 257.1L103.7 265.6L104.2 272.4L104.6 257.4L105.3 235.3L105.5 242.0L106.5 270.7L107.0 287.7L107.4 301.3L108.3 334.0L108.7 347.6L109.2 341.6L110.1 331.1L110.3 328.8L111.0 328.1L111.9 327.3L112.7 326.6L112.9 329.0L113.8 340.5L114.7 352.2L114.8 354.0L115.6 343.1L116.5 330.2L116.5 330.2L117.4 324.7L118.3 319.4L119.0 315.5L119.2 319.9L120.2 336.1L121.0 350.8L121.1 349.1L122.0 329.0L122.7 314.2L122.9 312.7L123.8 306.9L124.0 305.7L124.7 316.7L125.7 330.5L126.6 344.1L127.3 355.6L127.5 352.7L128.4 332.7L129.3 313.2L129.8 301.8L130.2 307.3L131.1 320.3L131.5 325.6L132.0 324.6L133.0 322.9L133.2 322.4L133.9 293.5L134.8 255.6L135.3 232.6L135.7 251.8L136.6 300.1L136.7 303.2L137.5 312.2L138.2 319.0L138.4 314.9L139.3 301.1L139.8 293.8L140.3 298.6L141.2 309.0L142.1 319.3L142.3 322.1L143.0 324.2L143.9 327.2L144.8 329.9L145.7 336.9L146.7 343.9L147.0 346.5L147.6 342.3L147.8 340.2L148.5 337.6L149.4 333.8L149.8 332.1L150.3 329.1L151.2 323.5L152.0 318.8L152.1 321.3L153.1 337.5L153.7 348.5L154.0 345.5L154.9 336.5L155.7 328.6L155.8 322.9L156.4 293.2L156.7 286.1L157.6 263.7L158.2 250.5L158.5 265.8L159.4 305.1L159.5 307.3L160.4 311.0L160.7 312.2L161.3 307.0L162.2 298.9L162.7 294.7L163.1 298.2L164.0 305.6L164.2 307.0L164.8 317.1L164.9 318.0L165.8 325.8L166.0 327.1L166.7 297.7L166.8 295.6L167.7 274.3L168.2 262.0L168.6 267.5L169.5 280.7L169.7 283.2L170.3 300.7L170.4 301.9L171.3 312.4L172.2 323.0L172.3 323.7L173.2 306.5L173.7 295.5L174.1 298.6L175.0 306.5L175.0 306.6L175.9 289.8L176.5 278.3L176.8 281.3L177.7 290.5L178.6 299.6L178.9 302.3L179.5 316.4L179.8 322.2L180.5 315.4L180.6 313.9L181.4 309.8L182.3 304.9L182.5 303.7L183.2 312.4L184.1 323.8L184.8 340.3L185.0 335.0L185.5 325.1L185.9 319.3L186.8 308.4L187.0 306.6L187.7 292.0L187.8 291.1L188.7 281.0L189.3 274.2L189.6 278.4L190.5 292.0L190.8 296.8L191.4 313.2L191.5 315.5L192.3 296.4L193.2 276.5L193.2 277.2L194.2 288.8L194.9 298.9L195.1 301.8L195.7 317.2L196.0 302.6L196.8 262.0L196.9 265.9L197.8 301.7L198.2 317.2L198.7 308.0L199.5 294.6L199.6 295.4L200.6 300.9L201.5 306.4L201.5 306.6L202.4 288.9L203.2 272.5L203.3 275.5L204.2 305.8L204.8 325.4L205.1 317.6L205.6 307.0L206.0 300.7L206.9 289.1L207.3 284.7L207.9 290.1L208.8 299.0L209.7 307.8L209.8 308.9L210.6 326.5L210.7 328.7L211.5 300.7L211.5 300.0L212.4 284.1L213.3 267.9L213.5 265.1L214.3 280.1L214.8 290.9L215.2 273.6L216.0 235.0L216.1 236.2L217.0 249.4L217.7 259.5L217.9 254.7L218.8 233.7L219.5 218.1L219.7 225.3L220.7 252.7L221.0 263.2L221.6 273.3L222.5 289.9L222.5 291.0L223.2 313.8L223.4 306.0L223.8 288.2L224.3 278.0L225.2 258.6L225.3 256.9L226.1 261.3L226.5 263.2L227.1 244.5L227.5 229.2L228.0 242.0L228.9 267.5L229.0 271.2L229.8 295.1L230.3 310.6L230.7 284.1L231.6 224.0L232.3 178.4L232.5 189.3L233.4 232.6L234.0 259.4L234.3 255.6L235.3 245.7L235.3 245.4L236.2 299.4L236.6 325.4L237.1 310.8L237.5 298.6L238.0 291.3L238.9 278.4L239.8 265.9L239.8 266.6L240.8 284.1L241.7 301.6L241.8 304.8L242.6 332.5L242.7 337.0L243.4 317.5L243.5 317.0L244.4 304.6L245.2 293.8L245.3 294.6L246.2 300.7L246.2 299.0L247.1 248.0L247.2 244.7L248.1 273.2L248.7 293.4L249.0 312.5L249.3 333.6L249.9 313.6L250.0 310.9L250.8 295.7L251.5 283.2L251.7 286.0L252.6 298.3L252.8 300.7L253.5 292.3L254.0 287.1L254.4 301.5L255.4 330.8L255.6 338.6L256.3 303.9L256.5 292.8L257.2 277.4L258.1 257.0L259.0 237.3L259.0 237.6L259.9 250.3L260.9 263.2L261.8 276.0L261.8 276.5L262.7 307.8L262.7 308.8L263.4 284.3L263.6 281.9L264.5 266.5L265.2 254.6L265.4 258.1L266.2 271.2L266.3 266.6L267.2 233.8L267.3 231.7L268.1 244.0L269.0 256.4L269.1 251.4L270.0 187.0L270.9 122.8L271.0 115.0L271.8 175.0L272.7 242.5L273.0 263.3L273.6 283.8L274.6 313.9L274.8 322.1L275.5 301.1L276.4 272.1L276.5 268.3L277.3 280.7L278.2 295.1L278.2 295.9L279.0 318.5L279.1 319.8L280.0 329.7L280.9 339.6L281.0 340.3L281.9 311.3L282.7 283.1L282.8 284.4L283.7 301.3L284.0 307.3L284.6 309.6L285.5 313.2L286.4 316.7L286.8 318.2L287.3 323.5L287.7 327.1L288.2 314.0L288.6 305.7L289.2 298.7L290.1 287.3L290.7 279.7L291.0 283.1L291.9 294.0L292.8 304.8L292.8 305.2L293.7 325.4L293.7 325.0L294.6 314.5L295.6 303.9L295.7 302.3L296.5 306.2L297.3 310.5L297.4 310.1L298.3 305.8L298.7 303.9L299.2 312.3L300.1 327.6L300.3 330.4L301.0 312.2L301.2 309.0L301.9 298.9L302.9 287.1L303.2 282.9L303.8 288.1L304.7 296.2L304.7 296.6L305.3 307.2L305.6 312.1L306.5 326.3L307.3 338.6L307.4 335.5L308.4 313.9L309.0 298.6L309.3 301.9L310.2 313.6L310.7 320.4L311.1 320.9L312.0 322.1L312.9 331.9L313.7 340.3L313.8 338.4L314.5 328.4L314.7 326.9L315.7 320.0L316.5 313.8L316.6 314.1L317.5 317.6L318.2 320.4L318.4 321.9L319.3 328.7L319.7 331.3L320.2 339.1L320.3 340.3L321.1 326.1L321.1 325.2L322.1 316.2L322.8 308.8L323.0 310.4L323.9 319.2L324.0 320.4L324.8 329.8L325.7 340.6L326.0 344.2L326.6 327.8L326.7 326.8L327.5 314.8L328.2 305.6L328.4 303.3L329.4 294.8L329.8 290.8L330.3 267.7L331.2 222.5L331.2 222.0L332.1 256.0L332.5 271.1L333.0 284.3L333.7 302.3L333.9 296.5L334.8 273.3L335.7 251.5L335.8 252.0L336.7 261.7L337.0 265.2L337.6 255.0L338.5 238.9L338.5 238.8L339.4 246.7L340.0 252.2L340.3 256.8L340.7 263.2L341.2 256.7L342.1 245.6L342.3 243.7L343.1 260.2L344.0 279.9L344.2 284.7L344.9 313.8L345.0 318.4L345.8 285.9L346.5 257.6L346.7 261.3L347.6 277.9L347.8 280.9L348.5 262.7L349.4 240.2L349.5 239.0L350.4 261.7L351.0 279.2L351.3 291.1L351.7 312.2L352.2 297.5L352.4 292.0L353.1 281.0L354.0 267.4L354.0 267.6L354.9 278.2L355.0 278.9L355.9 242.8L356.0 236.4L356.8 263.7L357.7 296.9L358.0 308.5L358.6 292.4L358.8 288.0L359.5 277.3L360.4 264.2L360.5 263.1L361.2 236.4L361.3 234.9L362.2 218.0L363.0 203.8L363.2 213.6L364.1 269.0L364.6 301.4L365.0 290.6L365.5 275.8L365.9 270.3L366.8 258.0L367.7 245.6L367.8 244.5L368.6 257.6L369.6 271.8L370.1 280.4L370.5 292.4L371.0 309.7L371.4 302.6L371.9 292.8L372.3 289.0L373.2 280.0L374.0 272.2L374.1 273.2L375.0 280.3L375.1 280.8L375.9 267.3L376.2 263.3L376.9 296.3L377.6 333.6L377.8 327.8L378.3 311.1L378.7 303.5L379.6 287.3L379.8 283.8L380.5 271.6L381.0 263.1L381.4 244.5L382.3 206.7L382.3 207.6L383.2 227.8L383.7 237.7L384.2 221.4L385.0 192.6L385.1 189.1L386.0 148.7L386.2 139.9L386.9 164.5L387.6 188.5L387.8 183.3L388.7 161.4L389.0 155.3L389.6 184.4L390.4 217.9L390.6 215.6L391.5 202.0L391.7 198.8L392.4 226.6L393.0 251.3L393.3 261.1L394.0 284.0L394.2 288.5L394.8 301.0L395.1 308.2L396.0 329.8L396.5 340.6L397.0 336.2L397.9 327.3L398.7 319.5L398.8 318.6L399.7 311.5L400.6 304.4L400.7 304.0L401.5 321.7L402.4 340.8L402.7 345.5L403.4 334.6L404.3 320.1L404.5 316.2L405.2 321.8L406.1 329.1L406.5 332.4L407.0 336.9L407.9 344.9L408.8 352.9L409.0 354.4L409.8 343.7L410.7 330.7L411.5 318.7L411.6 319.0L412.5 323.5L412.7 324.4L413.4 320.4L414.3 315.6L414.5 314.6L415.2 330.4L416.0 347.1L416.1 345.3L417.1 333.2L418.0 321.0L418.9 309.0L419.0 307.4L419.8 312.1L420.7 317.7L421.0 319.4L421.6 328.5L422.5 341.8L422.7 343.8L423.4 335.2L424.0 329.2L424.4 317.5L425.3 287.8L425.7 275.4L426.2 286.7L427.1 306.6L427.2 308.2L428.0 333.0L428.7 351.9L428.9 347.6L429.8 332.5L430.3 324.4L430.8 323.5L431.7 321.8L432.0 321.2L432.6 323.6L433.2 326.1L433.5 328.7L434.4 335.7L434.8 339.0L435.3 334.7L436.2 326.6L436.5 324.3L437.1 321.5L438.1 317.5L438.2 317.1L439.0 323.8L439.8 330.9L439.9 331.4L440.8 340.4L441.7 349.3L442.0 352.0L442.6 345.8L443.6 336.8L443.7 335.7L444.5 334.5L445.3 333.3L445.4 333.7L446.3 342.7L447.2 351.5L447.7 356.1L448.1 352.5L449.0 345.0L449.9 337.6L450.9 330.2L451.2 327.7L451.8 333.9L452.7 343.4L453.6 352.9L453.7 353.6L454.5 342.5L455.3 331.7L455.4 331.8L456.3 333.0L456.5 333.3L457.2 327.8L457.8 323.5L458.2 324.7L459.1 328.2L459.3 329.2L460.0 339.2L460.7 349.5L460.9 342.8L461.8 316.4L462.3 301.8L462.7 304.3L463.6 310.5L464.0 313.0L464.6 322.8L465.5 338.8L465.7 342.2L466.4 326.9L466.8 317.3L467.3 324.0L468.2 337.3L468.7 343.9L469.1 340.1L469.8 334.2L470.0 333.9L470.9 332.9L471.9 331.8L472.0 331.7L472.8 339.3L473.7 348.2L474.0 351.2L474.6 334.9L475.5 309.9L476.0 296.8L476.4 286.9L477.0 273.7L477.3 282.3L478.2 303.2L478.3 303.0L479.0 301.6L479.2 306.4L480.1 332.2L480.3 338.9L481.0 333.1L481.9 325.0L482.3 321.3L482.8 324.2L483.7 329.2L483.7 327.4L484.6 304.6L485.0 295.8L485.6 315.9L486.5 348.0L486.5 348.7L487.4 339.2L488.2 331.0L488.3 332.0L489.2 338.6L489.5 340.6L490.1 322.2L490.7 306.6L491.1 315.0L492.0 335.1L492.8 354.3L492.9 353.9L493.8 340.4L494.5 330.1L494.7 331.1L495.6 335.5L495.7 335.7L496.5 315.8L497.0 305.0L497.4 314.1L498.4 333.3L499.3 352.3L499.3 353.5L500.2 346.1L501.1 338.0L501.2 337.4L502.0 335.7L502.9 333.9L503.2 333.4L503.8 339.3L504.0 340.7L504.8 347.9L505.3 353.6L505.7 349.0L506.6 336.0L507.0 330.1L507.5 332.7L508.4 337.6L508.7 339.0L509.3 340.4L509.8 341.4L510.2 344.1L511.1 350.2L512.0 356.0L512.1 355.1L513.0 340.3L513.9 325.5L514.5 315.5L514.8 317.6L515.7 323.9L516.5 329.3L516.6 331.0L517.5 342.9L518.5 354.8L518.7 357.6L519.4 344.6L520.3 327.6L520.7 320.5L521.2 324.7L522.1 332.1L522.7 336.7L523.0 340.0L523.9 348.9L524.8 357.6L524.9 357.4L525.8 343.2L526.5 331.7L526.7 333.5L527.6 343.1L527.7 343.7L528.5 313.1L529.3 282.5L529.4 284.7L530.3 311.8L531.2 338.6L531.5 346.3L532.1 342.0L533.1 336.0L534.0 330.1L534.3 327.8L534.9 332.6L535.7 339.1L535.8 340.6L536.7 350.2L537.6 359.9L537.7 360.1L538.5 339.3L539.5 317.9L539.8 309.2L540.4 313.2L541.3 320.0L542.0 325.3L542.2 328.1L543.1 341.2L544.0 353.6L544.0 353.5L544.9 349.7L545.9 345.9L546.8 342.2L547.3 339.9L547.7 343.1L548.6 351.8L549.5 360.4L549.8 363.4L550.4 357.0L551.3 347.0L552.2 337.2L552.7 332.7L553.2 336.8L554.1 344.2L554.8 350.4L555.0 351.4L555.9 356.9L556.8 362.3L557.0 363.4L557.7 354.2L558.6 342.5L558.7 342.3L559.6 344.8L560.5 347.4L560.7 348.0L561.4 353.5L562.3 360.6L562.7 363.4L563.2 360.6L564.1 355.7L564.8 352.1L565.0 351.0L566.0 346.6L566.9 342.2L567.3 340.0L567.8 345.2L568.7 355.9L569.3 363.4L569.6 357.6L570.5 338.7L571.0 328.7L571.4 335.7L572.4 350.3L572.7 355.3L573.3 352.0L574.2 346.8L574.8 343.2L575.1 345.3L576.0 352.8L576.5 356.9L576.9 354.7L577.8 349.8L578.2 348.0L578.7 346.3L579.5 344.0L579.7 345.1L580.6 351.6L581.5 358.1L582.3 364.2L582.4 362.0L583.3 332.0L584.0 309.4L584.2 314.7L585.1 336.4L585.7 348.9L586.0 343.9L587.0 331.9L587.3 327.2L587.9 338.7L588.7 355.2L588.8 351.2L589.7 320.0L590.6 289.4L590.7 287.9L591.5 306.5L592.5 326.5L592.7 331.2L593.4 339.6L594.3 350.8L594.8 357.7L595.2 354.1L596.1 344.8L596.5 340.8L597.0 338.1L597.9 333.4L598.8 328.8L599.0 328.0L599.8 329.2L600.0 329.6L600.7 338.2L601.6 349.9L602.0 355.4L602.5 352.0L603.4 345.8L603.7 344.0L604.3 329.9L605.2 310.1L605.8 297.3L606.1 304.8L607.1 326.5L608.0 348.4L608.0 348.9L608.9 341.6L609.8 334.1L610.7 326.5L611.3 321.5L611.6 324.7L612.5 334.5L613.5 344.5L614.2 352.1L614.4 349.5L615.3 338.1L616.2 326.5L616.7 320.7L617.1 321.9L618.0 324.5L618.7 326.4L618.9 330.1L619.9 342.2L620.8 354.4L620.8 355.3L621.7 347.5L622.6 338.9L623.3 332.0L623.5 333.4L624.4 340.9L625.0 345.7L625.3 342.2L626.2 332.4L626.7 328.0L627.2 332.1L628.0 339.2L628.1 337.4L629.0 313.3L629.7 295.7L629.9 298.8L630.8 311.2L631.7 323.8L632.5 334.4L632.6 331.8L633.5 315.2L634.5 298.5L635.0 288.8L635.4 293.6L636.3 304.9L637.2 316.3L637.5 320.0L638.1 325.1L639.0 332.8L640.0 340.5L640.0 340.9L640.9 334.0L641.8 326.8L642.7 319.4L643.3 314.3L643.6 316.9L644.5 326.0L645.4 335.0L646.3 344.0L646.3 344.0L647.3 337.8L648.2 331.6L648.8 327.1L649.1 326.6L650.0 324.5L650.9 322.4L651.3 321.5L651.8 328.5L652.7 341.9L653.3 350.5L653.6 340.7L654.6 312.7L655.5 284.4L655.8 273.7L656.4 297.2L657.0 323.2L657.3 320.6L658.2 312.8L658.3 311.9L659.1 327.2L660.0 344.8L660.3 350.4L661.0 326.2L661.9 290.9L662.5 266.5L662.8 271.2L663.5 282.8L663.7 281.0L664.5 273.6L664.6 278.5L665.5 318.2L665.5 318.8L666.4 339.0L666.7 344.0L667.4 336.9L668.3 327.3L668.7 323.2L669.2 322.0L670.1 320.0L670.8 318.4L671.0 322.1L671.9 341.4L672.5 353.7L672.8 342.6L673.8 311.5L673.8 308.8L674.7 319.4L675.6 331.0L675.8 334.4L676.5 327.3L677.2 320.0L677.4 324.2L678.3 340.7L678.7 347.2L679.2 343.3L680.1 336.9L681.1 330.5L681.7 326.3L682.0 329.1L682.9 337.4L683.8 345.8L684.7 353.7L684.7 353.4L685.6 346.8L686.5 340.1L686.7 339.2L687.5 325.7L688.4 310.1L689.3 294.4L690.0 282.1L690.2 287.1L691.1 311.3L691.7 326.3L692.0 320.7L692.9 305.9L693.3 299.4L693.8 300.2L694.8 301.7L695.0 302.2L695.7 309.6L696.6 319.8L697.5 329.9L698.3 339.1L698.4 338.0L699.3 324.3L700.2 310.8L700.5 306.9L701.1 312.8L702.1 321.2L703.0 329.4L703.0 329.6L703.9 338.9L704.8 348.5L705.0 350.5L705.7 308.3L706.6 255.1L707.4 210.0L707.5 217.8L708.5 265.2L709.4 312.7L710.0 345.7L710.3 325.8L711.2 263.3L712.1 200.9L712.6 167.3L713.0 158.9L713.2 155.6L713.9 207.4L714.6 253.8L714.9 283.9L715.2 323.3L715.2 368.5Z" fill="#22a4f3"/>
<path d="M48.0 368.5L48.0 312.3L48.2 312.4L48.9 325.4L49.8 341.6L50.3 350.3L50.7 346.7L51.6 338.3L52.3 332.1L52.6 327.1L53.5 308.2L54.0 297.5L54.4 308.6L55.3 334.8L55.3 335.4L56.2 344.7L57.0 352.7L57.1 350.8L58.0 337.1L59.0 323.5L59.3 318.1L59.9 324.4L60.7 333.7L60.8 331.9L61.5 321.4L61.7 324.0L62.6 335.7L63.5 347.2L63.7 348.8L64.4 327.6L64.8 316.9L65.4 321.6L66.3 329.9L66.5 332.0L67.2 327.6L68.1 321.8L68.7 318.3L69.0 323.3L69.9 336.9L70.7 347.9L70.8 343.8L71.5 327.6L71.8 325.2L72.7 316.4L73.3 310.1L73.6 314.7L74.5 331.8L75.4 349.3L75.7 354.1L76.3 341.7L77.2 324.5L77.7 316.2L78.2 320.1L79.1 327.4L79.8 333.6L80.0 334.9L80.9 343.0L81.8 351.0L82.3 355.7L82.7 350.3L83.6 337.1L84.3 327.0L84.5 328.2L85.5 334.0L85.7 335.3L86.4 327.7L87.0 321.0L87.3 325.5L88.2 340.6L89.0 354.1L89.1 352.2L90.0 336.2L90.9 320.3L91.0 319.1L91.8 322.4L92.8 325.9L93.2 327.4L93.7 331.1L94.6 338.0L95.5 345.0L95.7 346.2L96.4 339.2L97.3 330.8L98.2 321.0L99.2 310.9L99.8 303.4L100.1 307.8L101.0 325.0L101.5 335.1L101.9 316.3L102.8 274.1L103.2 257.8L103.7 266.3L104.2 273.1L104.6 258.3L105.3 236.5L105.5 243.1L106.5 271.4L107.0 288.3L107.4 301.6L108.3 334.1L108.7 347.7L109.2 341.7L110.1 331.3L110.3 329.0L111.0 328.4L111.9 327.6L112.7 326.9L112.9 329.2L113.8 340.6L114.7 352.3L114.8 354.1L115.6 343.2L116.5 330.4L116.5 330.3L117.4 325.0L118.3 319.7L119.0 315.9L119.2 320.2L120.2 336.3L121.0 350.9L121.1 349.2L122.0 329.2L122.7 314.5L122.9 312.9L123.8 307.2L124.0 306.1L124.7 317.0L125.7 330.7L126.6 344.3L127.3 355.7L127.5 352.8L128.4 332.9L129.3 313.4L129.8 302.1L130.2 307.5L131.1 320.5L131.5 325.8L132.0 324.9L133.0 323.2L133.2 322.7L133.9 294.0L134.8 256.4L135.3 233.5L135.7 252.5L136.6 300.5L136.7 303.5L137.5 312.5L138.2 319.3L138.4 315.3L139.3 301.6L139.8 294.4L140.3 299.2L141.2 309.4L142.1 319.6L142.3 322.3L143.0 324.4L143.9 327.3L144.8 330.1L145.7 337.0L146.7 344.0L147.0 346.6L147.6 342.4L147.8 340.3L148.5 337.7L149.4 333.9L149.8 332.1L150.3 329.2L151.2 323.6L152.0 318.9L152.1 321.4L153.1 337.6L153.7 348.6L154.0 345.6L154.9 336.6L155.7 328.7L155.8 323.0L156.4 293.4L156.7 286.3L157.6 264.0L158.2 250.8L158.5 266.1L159.4 305.3L159.5 307.4L160.4 311.1L160.7 312.4L161.3 307.1L162.2 299.0L162.7 294.9L163.1 298.3L164.0 305.7L164.2 307.1L164.8 317.2L164.9 318.1L165.8 325.8L166.0 327.2L166.7 297.8L166.8 295.8L167.7 274.5L168.2 262.3L168.6 267.8L169.5 281.0L169.7 283.4L170.3 300.8L170.4 302.1L171.3 312.5L172.2 323.1L172.3 323.8L173.2 306.6L173.7 295.6L174.1 298.7L175.0 306.6L175.0 306.8L175.9 290.0L176.5 278.5L176.8 281.5L177.7 290.6L178.6 299.7L178.9 302.4L179.5 316.5L179.8 322.2L180.5 315.5L180.6 314.0L181.4 309.9L182.3 305.0L182.5 303.9L183.2 312.6L184.1 323.9L184.8 340.3L185.0 335.0L185.5 325.2L185.9 319.4L186.8 308.5L187.0 306.7L187.7 292.2L187.8 291.3L188.7 281.3L189.3 274.5L189.6 278.7L190.5 292.2L190.8 297.0L191.4 313.3L191.5 315.6L192.3 296.5L193.2 276.7L193.2 277.4L194.2 289.0L194.9 299.1L195.1 302.0L195.7 317.4L196.0 302.8L196.8 262.3L196.9 266.2L197.8 301.9L198.2 317.3L198.7 308.0L199.5 294.7L199.6 295.5L200.6 301.0L201.5 306.6L201.5 306.7L202.4 289.2L203.2 272.8L203.3 275.8L204.2 306.0L204.8 325.5L205.1 317.7L205.6 307.1L206.0 300.9L206.9 289.3L207.3 284.8L207.9 290.3L208.8 299.2L209.7 308.0L209.8 309.0L210.6 326.6L210.7 328.8L211.5 300.8L211.5 300.1L212.4 284.3L213.3 268.1L213.5 265.3L214.3 280.3L214.8 291.0L215.2 273.8L216.0 235.4L216.1 236.6L217.0 249.8L217.7 259.8L217.9 255.0L218.8 234.1L219.5 218.5L219.7 225.7L220.7 252.9L221.0 263.5L221.6 273.5L222.5 290.1L222.5 291.2L223.2 314.0L223.4 306.2L223.8 288.4L224.3 278.3L225.2 259.0L225.3 257.3L226.1 261.6L226.5 263.5L227.1 244.8L227.5 229.5L228.0 242.3L228.9 267.8L229.0 271.4L229.8 295.3L230.3 310.7L230.7 284.3L231.6 224.5L232.3 179.1L232.5 189.9L233.4 232.9L234.0 259.6L234.3 255.8L235.3 246.0L235.3 245.7L236.2 299.6L236.6 325.5L237.1 310.9L237.5 298.8L238.0 291.6L238.9 278.7L239.8 266.2L239.8 266.9L240.8 284.3L241.7 301.7L241.8 305.0L242.6 332.6L242.7 337.0L243.4 317.6L243.5 317.1L244.4 304.8L245.2 294.0L245.3 294.8L246.2 300.8L246.2 299.2L247.1 248.3L247.2 245.0L248.1 273.3L248.7 293.5L249.0 312.6L249.3 333.7L249.9 313.7L250.0 311.0L250.8 295.9L251.5 283.4L251.7 286.3L252.6 298.4L252.8 300.8L253.5 292.5L254.0 287.3L254.4 301.7L255.4 330.9L255.6 338.6L256.3 304.0L256.5 292.9L257.2 277.7L258.1 257.4L259.0 237.8L259.0 238.1L259.9 250.7L260.9 263.5L261.8 276.2L261.8 276.7L262.7 307.8L262.7 308.9L263.4 284.5L263.6 282.1L264.5 266.7L265.2 254.9L265.4 258.4L266.2 271.5L266.3 266.9L267.2 234.2L267.3 232.1L268.1 244.3L269.0 256.6L269.1 251.6L270.0 187.5L270.9 123.7L271.0 116.0L271.8 175.8L272.7 243.0L273.0 263.6L273.6 284.1L274.6 314.0L274.8 322.2L275.5 301.3L276.4 272.3L276.5 268.5L277.3 280.9L278.2 295.2L278.2 296.0L279.0 318.6L279.1 319.9L280.0 329.8L280.9 339.7L281.0 340.3L281.9 311.4L282.7 283.3L282.8 284.6L283.7 301.4L284.0 307.3L284.6 309.7L285.5 313.3L286.4 316.8L286.8 318.3L287.3 323.6L287.7 327.2L288.2 314.1L288.6 305.8L289.2 298.9L290.1 287.5L290.7 279.9L291.0 283.3L291.9 294.2L292.8 304.9L292.8 305.4L293.7 325.5L293.7 325.2L294.6 314.7L295.6 304.0L295.7 302.4L296.5 306.3L297.3 310.6L297.4 310.2L298.3 305.9L298.7 304.0L299.2 312.4L300.1 327.6L300.3 330.5L301.0 312.3L301.2 309.1L301.9 299.1L302.9 287.3L303.2 283.1L303.8 288.3L304.7 296.4L304.7 296.7L305.3 307.3L305.6 312.2L306.5 326.4L307.3 338.6L307.4 335.6L308.4 314.0L309.0 298.8L309.3 302.1L310.2 313.7L310.7 320.5L311.1 321.0L312.0 322.2L312.9 332.0L313.7 340.3L313.8 338.5L314.5 328.5L314.7 327.0L315.7 320.2L316.5 313.9L316.6 314.2L317.5 317.7L318.2 320.5L318.4 322.0L319.3 328.7L319.7 331.4L320.2 339.2L320.3 340.3L321.1 326.2L321.1 325.3L322.1 316.4L322.8 309.0L323.0 310.5L323.9 319.3L324.0 320.5L324.8 329.9L325.7 340.7L326.0 344.2L326.6 327.9L326.7 326.9L327.5 314.9L328.2 305.7L328.4 303.5L329.4 295.0L329.8 291.0L330.3 267.9L331.2 222.8L331.2 222.4L332.1 256.2L332.5 271.3L333.0 284.5L333.7 302.4L333.9 296.6L334.8 273.6L335.7 251.9L335.8 252.4L336.7 262.1L337.0 265.5L337.6 255.3L338.5 239.3L338.5 239.1L339.4 247.0L340.0 252.4L340.3 257.1L340.7 263.4L341.2 257.1L342.1 246.0L342.3 244.2L343.1 260.6L344.0 280.2L344.2 284.9L344.9 313.9L345.0 318.5L345.8 286.0L346.5 257.8L346.7 261.6L347.6 278.1L347.8 281.1L348.5 263.0L349.4 240.6L349.5 239.4L350.4 262.0L351.0 279.4L351.3 291.3L351.7 312.3L352.2 297.7L352.4 292.1L353.1 281.1L354.0 267.6L354.0 267.8L354.9 278.5L355.0 279.1L355.9 243.2L356.0 236.9L356.8 264.1L357.7 297.1L358.0 308.6L358.6 292.6L358.8 288.2L359.5 277.5L360.4 264.5L360.5 263.4L361.2 236.7L361.3 235.3L362.2 218.5L363.0 204.5L363.2 214.2L364.1 269.4L364.6 301.6L365.0 290.8L365.5 276.0L365.9 270.6L366.8 258.2L367.7 245.9L367.8 244.8L368.6 257.9L369.6 272.1L370.1 280.6L370.5 292.6L371.0 309.8L371.4 302.7L371.9 293.0L372.3 289.2L373.2 280.2L374.0 272.5L374.1 273.4L375.0 280.5L375.1 281.0L375.9 267.6L376.2 263.7L376.9 296.5L377.6 333.7L377.8 327.9L378.3 311.3L378.7 303.6L379.6 287.5L379.8 284.0L380.5 271.8L381.0 263.4L381.4 244.7L382.3 207.2L382.3 208.1L383.2 228.2L383.7 238.2L384.2 222.0L385.0 193.3L385.1 189.8L386.0 149.6L386.2 140.8L386.9 165.1L387.6 189.0L387.8 183.7L388.7 162.1L389.0 156.0L389.6 185.0L390.4 218.5L390.6 216.1L391.5 202.7L391.7 199.5L392.4 227.2L393.0 251.7L393.3 261.5L394.0 284.2L394.2 288.7L394.8 301.1L395.1 308.3L396.0 329.9L396.5 340.7L397.0 336.3L397.9 327.5L398.7 319.7L398.8 318.8L399.7 311.7L400.6 304.5L400.7 304.2L401.5 321.8L402.4 340.9L402.7 345.5L403.4 334.7L404.3 320.2L404.5 316.4L405.2 321.9L406.1 329.3L406.5 332.6L407.0 337.0L407.9 345.0L408.8 353.0L409.0 354.5L409.8 343.8L410.7 330.8L411.5 318.9L411.6 319.2L412.5 323.7L412.7 324.5L413.4 320.6L414.3 315.7L414.5 314.7L415.2 330.5L416.0 347.2L416.1 345.3L417.1 333.3L418.0 321.2L418.9 309.2L419.0 307.6L419.8 312.3L420.7 317.9L421.0 319.6L421.6 328.6L422.5 341.9L422.7 343.9L423.4 335.3L424.0 329.3L424.4 317.7L425.3 288.1L425.7 275.7L426.2 287.1L427.1 306.9L427.2 308.4L428.0 333.2L428.7 352.0L428.9 347.7L429.8 332.6L430.3 324.5L430.8 323.7L431.7 322.0L432.0 321.4L432.6 323.8L433.2 326.3L433.5 328.8L434.4 335.8L434.8 339.1L435.3 334.8L436.2 326.7L436.5 324.4L437.1 321.6L438.1 317.7L438.2 317.2L439.0 324.0L439.8 331.0L439.9 331.6L440.8 340.5L441.7 349.3L442.0 352.0L442.6 345.9L443.6 336.9L443.7 335.8L444.5 334.6L445.3 333.4L445.4 333.8L446.3 342.8L447.2 351.6L447.7 356.1L448.1 352.5L449.0 345.1L449.9 337.7L450.9 330.3L451.2 327.8L451.8 334.0L452.7 343.5L453.6 352.9L453.7 353.7L454.5 342.6L455.3 331.9L455.4 331.9L456.3 333.1L456.5 333.4L457.2 327.9L457.8 323.6L458.2 324.9L459.1 328.4L459.3 329.3L460.0 339.4L460.7 349.5L460.9 342.9L461.8 316.6L462.3 302.0L462.7 304.6L463.6 310.7L464.0 313.2L464.6 322.9L465.5 338.9L465.7 342.3L466.4 327.0L466.8 317.4L467.3 324.2L468.2 337.4L468.7 344.0L469.1 340.2L469.8 334.3L470.0 334.0L470.9 332.9L471.9 331.9L472.0 331.8L472.8 339.4L473.7 348.2L474.0 351.2L474.6 335.0L475.5 310.1L476.0 297.1L476.4 287.3L477.0 274.1L477.3 282.7L478.2 303.4L478.3 303.3L479.0 301.9L479.2 306.6L480.1 332.3L480.3 339.0L481.0 333.2L481.9 325.2L482.3 321.5L482.8 324.4L483.7 329.3L483.7 327.6L484.6 304.8L485.0 296.0L485.6 316.0L486.5 348.1L486.5 348.8L487.4 339.3L488.2 331.1L488.3 332.1L489.2 338.7L489.5 340.7L490.1 322.4L490.7 306.9L491.1 315.2L492.0 335.2L492.8 354.4L492.9 353.9L493.8 340.5L494.5 330.2L494.7 331.2L495.6 335.7L495.7 335.8L496.5 316.1L497.0 305.3L497.4 314.4L498.4 333.4L499.3 352.3L499.3 353.6L500.2 346.2L501.1 338.1L501.2 337.5L502.0 335.8L502.9 334.0L503.2 333.5L503.8 339.4L504.0 340.7L504.8 348.0L505.3 353.6L505.7 349.0L506.6 336.1L507.0 330.2L507.5 332.8L508.4 337.7L508.7 339.1L509.3 340.5L509.8 341.5L510.2 344.2L511.1 350.3L512.0 356.1L512.1 355.1L513.0 340.4L513.9 325.7L514.5 315.7L514.8 317.8L515.7 324.1L516.5 329.5L516.6 331.2L517.5 343.0L518.5 354.9L518.7 357.7L519.4 344.6L520.3 327.7L520.7 320.6L521.2 324.8L522.1 332.2L522.7 336.8L523.0 340.1L523.9 348.9L524.8 357.7L524.9 357.5L525.8 343.3L526.5 331.8L526.7 333.6L527.6 343.1L527.7 343.8L528.5 313.3L529.3 282.9L529.4 285.0L530.3 312.0L531.2 338.7L531.5 346.4L532.1 342.1L533.1 336.1L534.0 330.2L534.3 327.9L534.9 332.7L535.7 339.2L535.8 340.7L536.7 350.2L537.6 359.9L537.7 360.1L538.5 339.4L539.5 318.1L539.8 309.5L540.4 313.4L541.3 320.1L542.0 325.4L542.2 328.2L543.1 341.2L544.0 353.7L544.0 353.6L544.9 349.8L545.9 346.0L546.8 342.3L547.3 340.0L547.7 343.2L548.6 351.8L549.5 360.4L549.8 363.4L550.4 357.0L551.3 347.1L552.2 337.3L552.7 332.8L553.2 336.9L554.1 344.3L554.8 350.4L555.0 351.4L555.9 356.9L556.8 362.3L557.0 363.4L557.7 354.2L558.6 342.6L558.7 342.4L559.6 344.9L560.5 347.5L560.7 348.1L561.4 353.6L562.3 360.6L562.7 363.4L563.2 360.6L564.1 355.8L564.8 352.1L565.0 351.1L566.0 346.7L566.9 342.3L567.3 340.1L567.8 345.2L568.7 355.9L569.3 363.4L569.6 357.7L570.5 338.8L571.0 328.9L571.4 335.8L572.4 350.3L572.7 355.3L573.3 352.0L574.2 346.9L574.8 343.3L575.1 345.4L576.0 352.8L576.5 357.0L576.9 354.7L577.8 349.9L578.2 348.1L578.7 346.4L579.5 344.1L579.7 345.2L580.6 351.7L581.5 358.1L582.3 364.2L582.4 362.0L583.3 332.2L584.0 309.6L584.2 314.8L585.1 336.5L585.7 348.9L586.0 344.0L587.0 332.0L587.3 327.4L587.9 338.8L588.7 355.3L588.8 351.2L589.7 320.2L590.6 289.6L590.7 288.1L591.5 306.7L592.5 326.6L592.7 331.3L593.4 339.8L594.3 350.9L594.8 357.7L595.2 354.2L596.1 344.9L596.5 340.9L597.0 338.2L597.9 333.5L598.8 328.9L599.0 328.1L599.8 329.3L600.0 329.7L600.7 338.3L601.6 350.0L602.0 355.4L602.5 352.1L603.4 345.9L603.7 344.1L604.3 330.0L605.2 310.2L605.8 297.6L606.1 305.0L607.1 326.6L608.0 348.5L608.0 349.0L608.9 341.7L609.8 334.2L610.7 326.6L611.3 321.6L611.6 324.8L612.5 334.6L613.5 344.5L614.2 352.1L614.4 349.6L615.3 338.2L616.2 326.7L616.7 320.8L617.1 322.1L618.0 324.7L618.7 326.6L618.9 330.2L619.9 342.3L620.8 354.4L620.8 355.4L621.7 347.5L622.6 339.1L623.3 332.2L623.5 333.5L624.4 341.0L625.0 345.7L625.3 342.2L626.2 332.5L626.7 328.1L627.2 332.2L628.0 339.3L628.1 337.5L629.0 313.6L629.7 296.0L629.9 299.1L630.8 311.5L631.7 324.0L632.5 334.5L632.6 331.9L633.5 315.4L634.5 298.7L635.0 289.2L635.4 293.9L636.3 305.1L637.2 316.5L637.5 320.1L638.1 325.3L639.0 332.9L640.0 340.5L640.0 341.0L640.9 334.1L641.8 326.9L642.7 319.6L643.3 314.5L643.6 317.1L644.5 326.1L645.4 335.1L646.3 344.1L646.3 344.0L647.3 337.9L648.2 331.7L648.8 327.3L649.1 326.7L650.0 324.7L650.9 322.6L651.3 321.7L651.8 328.7L652.7 342.0L653.3 350.5L653.6 340.8L654.6 312.9L655.5 284.7L655.8 274.0L656.4 297.5L657.0 323.4L657.3 320.8L658.2 313.0L658.3 312.1L659.1 327.4L660.0 344.9L660.3 350.5L661.0 326.3L661.9 291.2L662.5 266.9L662.8 271.7L663.5 283.2L663.7 281.4L664.5 274.0L664.6 278.9L665.5 318.4L665.5 319.0L666.4 339.1L666.7 344.1L667.4 337.0L668.3 327.4L668.7 323.3L669.2 322.2L670.1 320.2L670.8 318.6L671.0 322.3L671.9 341.5L672.5 353.8L672.8 342.7L673.8 311.7L673.8 309.0L674.7 319.5L675.6 331.2L675.8 334.5L676.5 327.4L677.2 320.2L677.4 324.3L678.3 340.8L678.7 347.3L679.2 343.4L680.1 337.0L681.1 330.6L681.7 326.4L682.0 329.2L682.9 337.5L683.8 345.9L684.7 353.8L684.7 353.5L685.6 346.9L686.5 340.2L686.7 339.3L687.5 325.9L688.4 310.3L689.3 294.6L690.0 282.3L690.2 287.4L691.1 311.5L691.7 326.5L692.0 320.8L692.9 306.1L693.3 299.6L693.8 300.4L694.8 301.9L695.0 302.4L695.7 309.8L696.6 320.0L697.5 330.1L698.3 339.3L698.4 338.2L699.3 324.5L700.2 311.0L700.5 307.2L701.1 313.0L702.1 321.3L703.0 329.5L703.0 329.7L703.9 339.0L704.8 348.6L705.0 350.6L705.7 308.6L706.6 255.5L707.4 210.6L707.5 218.4L708.5 265.5L709.4 312.9L710.0 345.7L710.3 325.9L711.2 263.8L712.1 201.7L712.6 168.3L713.0 160.0L713.2 156.7L713.9 208.2L714.6 254.2L714.9 284.2L715.2 323.5L715.2 368.5Z" fill="#f562f0"/>
<path d="M48.0 368.5L48.0 313.4L48.2 313.6L48.9 326.4L49.8 342.3L50.3 350.9L50.7 347.4L51.6 339.3L52.3 333.1L52.6 328.3L53.5 309.8L54.0 299.4L54.4 310.2L55.3 335.7L55.3 336.2L56.2 345.4L57.0 353.3L57.1 351.4L58.0 338.2L59.0 324.9L59.3 319.5L59.9 325.5L60.7 334.4L60.8 332.6L61.5 322.3L61.7 324.8L62.6 336.3L63.5 347.7L63.7 349.3L64.4 328.7L64.8 318.4L65.4 322.9L66.3 330.9L66.5 332.9L67.2 328.5L68.1 322.7L68.7 319.3L69.0 324.3L69.9 337.7L70.7 348.5L70.8 344.5L71.5 329.0L71.8 326.7L72.7 318.2L73.3 311.9L73.6 316.3L74.5 332.7L75.4 349.8L75.7 354.4L76.3 342.3L77.2 325.6L77.7 317.7L78.2 321.5L79.1 328.5L79.8 334.5L80.0 335.7L80.9 343.5L81.8 351.3L82.3 356.0L82.7 350.6L83.6 337.7L84.3 328.0L84.5 329.3L85.5 335.0L85.7 336.3L86.4 329.0L87.0 322.4L87.3 326.7L88.2 341.3L89.0 354.5L89.1 352.5L90.0 336.9L90.9 321.7L91.0 320.5L91.8 323.9L92.8 327.2L93.2 328.7L93.7 332.1L94.6 338.7L95.5 345.4L95.7 346.6L96.4 339.7L97.3 331.4L98.2 322.0L99.2 312.4L99.8 305.2L100.1 309.5L101.0 326.1L101.5 335.8L101.9 317.5L102.8 276.2L103.2 260.3L103.7 268.7L104.2 275.5L104.6 261.4L105.3 240.9L105.5 247.4L106.5 274.9L107.0 291.1L107.4 303.9L108.3 335.0L108.7 348.2L109.2 342.2L110.1 332.0L110.3 329.7L111.0 329.1L111.9 328.4L112.7 327.9L112.9 330.2L113.8 341.3L114.7 352.6L114.8 354.4L115.6 343.7L116.5 331.0L116.5 331.0L117.4 325.7L118.3 320.7L119.0 317.1L119.2 321.4L120.2 337.2L121.0 351.4L121.1 349.7L122.0 330.2L122.7 315.8L122.9 314.3L123.8 308.5L124.0 307.4L124.7 318.1L125.7 331.6L126.6 344.9L127.3 356.0L127.5 353.2L128.4 333.8L129.3 314.6L129.8 303.4L130.2 308.7L131.1 321.3L131.5 326.4L132.0 325.6L133.0 324.1L133.2 323.6L133.9 295.9L134.8 259.7L135.3 237.5L135.7 255.7L136.6 302.0L136.7 305.0L137.5 313.6L138.2 320.3L138.4 316.3L139.3 303.2L139.8 296.4L140.3 301.2L141.2 311.3L142.1 321.0L142.3 323.6L143.0 325.5L143.9 328.1L144.8 330.7L145.7 337.4L146.7 344.3L147.0 346.9L147.6 342.7L147.8 340.6L148.5 338.0L149.4 334.2L149.8 332.4L150.3 329.5L151.2 323.9L152.0 319.2L152.1 321.7L153.1 337.8L153.7 348.7L154.0 345.8L154.9 336.9L155.7 329.1L155.8 323.5L156.4 294.3L156.7 287.3L157.6 265.2L158.2 252.1L158.5 267.1L159.4 305.7L159.5 307.8L160.4 311.5L160.7 312.8L161.3 307.7L162.2 299.7L162.7 295.6L163.1 299.0L164.0 306.2L164.2 307.5L164.8 317.5L164.9 318.4L165.8 326.1L166.0 327.4L166.7 298.2L166.8 296.2L167.7 275.3L168.2 263.4L168.6 268.9L169.5 282.0L169.7 284.4L170.3 301.5L170.4 302.7L171.3 313.0L172.2 323.4L172.3 324.1L173.2 307.1L173.7 296.2L174.1 299.3L175.0 307.2L175.0 307.4L175.9 291.0L176.5 279.7L176.8 282.6L177.7 291.5L178.6 300.3L178.9 302.9L179.5 316.8L179.8 322.5L180.5 315.8L180.6 314.3L181.4 310.3L182.3 305.5L182.5 304.4L183.2 313.0L184.1 324.3L184.8 340.5L185.0 335.3L185.5 325.5L185.9 319.7L186.8 308.9L187.0 307.1L187.7 292.7L187.8 291.9L188.7 282.1L189.3 275.6L189.6 279.8L190.5 293.1L190.8 297.8L191.4 313.9L191.5 316.1L192.3 297.2L193.2 277.6L193.2 278.2L194.2 289.6L194.9 299.6L195.1 302.5L195.7 317.8L196.0 303.3L196.8 263.6L196.9 267.4L197.8 302.5L198.2 317.7L198.7 308.5L199.5 295.2L199.6 296.0L200.6 301.4L201.5 306.9L201.5 307.1L202.4 289.7L203.2 273.8L203.3 276.7L204.2 306.5L204.8 325.9L205.1 318.1L205.6 307.7L206.0 301.5L206.9 290.0L207.3 285.6L207.9 290.9L208.8 299.7L209.7 308.5L209.8 309.5L210.6 327.0L210.7 329.2L211.5 301.5L211.5 300.9L212.4 285.2L213.3 269.1L213.5 266.3L214.3 281.0L214.8 291.5L215.2 274.5L216.0 236.5L216.1 237.7L217.0 251.0L217.7 261.0L217.9 256.3L218.8 235.8L219.5 220.4L219.7 227.4L220.7 254.1L221.0 264.4L221.6 274.3L222.5 290.7L222.5 291.8L223.2 314.4L223.4 306.7L223.8 289.2L224.3 279.3L225.2 260.5L225.3 258.9L226.1 263.0L226.5 264.9L227.1 246.4L227.5 231.2L228.0 243.7L228.9 268.6L229.0 272.2L229.8 295.8L230.3 311.1L230.7 285.0L231.6 226.3L232.3 181.8L232.5 192.4L233.4 234.5L234.0 260.6L234.3 256.8L235.3 247.0L235.3 246.7L236.2 300.0L236.6 325.7L237.1 311.3L237.5 299.3L238.0 292.2L238.9 279.7L239.8 267.5L239.8 268.2L240.8 285.2L241.7 302.2L241.8 305.5L242.6 332.9L242.7 337.3L243.4 318.0L243.5 317.4L244.4 305.3L245.2 294.8L245.3 295.6L246.2 301.5L246.2 299.9L247.1 249.9L247.2 246.6L248.1 274.2L248.7 294.1L249.0 313.0L249.3 333.9L249.9 314.0L250.0 311.3L250.8 296.3L251.5 284.1L251.7 286.9L252.6 299.0L252.8 301.4L253.5 293.2L254.0 288.1L254.4 302.2L255.4 331.2L255.6 338.8L256.3 304.5L256.5 293.5L257.2 278.4L258.1 258.5L259.0 239.5L259.0 239.8L259.9 252.4L260.9 264.9L261.8 277.2L261.8 277.8L262.7 308.3L262.7 309.4L263.4 285.1L263.6 282.8L264.5 267.5L265.2 255.9L265.4 259.4L266.2 272.5L266.3 267.9L267.2 235.9L267.3 233.8L268.1 245.7L269.0 257.7L269.1 252.8L270.0 189.3L270.9 126.2L271.0 118.6L271.8 177.9L272.7 244.4L273.0 264.8L273.6 285.0L274.6 314.5L274.8 322.7L275.5 301.9L276.4 273.3L276.5 269.6L277.3 281.7L278.2 295.8L278.2 296.6L279.0 319.0L279.1 320.3L280.0 330.1L280.9 339.9L281.0 340.6L281.9 311.9L282.7 284.0L282.8 285.3L283.7 301.8L284.0 307.7L284.6 310.0L285.5 313.5L286.4 317.1L286.8 318.6L287.3 324.0L287.7 327.5L288.2 314.6L288.6 306.4L289.2 299.5L290.1 288.2L290.7 280.7L291.0 284.0L291.9 294.7L292.8 305.4L292.8 305.8L293.7 325.9L293.7 325.5L294.6 315.2L295.6 304.7L295.7 303.1L296.5 306.9L297.3 311.0L297.4 310.6L298.3 306.3L298.7 304.4L299.2 312.7L300.1 327.9L300.3 330.7L301.0 312.7L301.2 309.5L301.9 299.7L302.9 288.0L303.2 283.9L303.8 289.0L304.7 296.8L304.7 297.2L305.3 307.7L305.6 312.5L306.5 326.7L307.3 338.9L307.4 335.8L308.4 314.5L309.0 299.5L309.3 302.8L310.2 314.2L310.7 320.9L311.1 321.4L312.0 322.5L312.9 332.2L313.7 340.5L313.8 338.7L314.5 328.8L314.7 327.3L315.7 320.6L316.5 314.4L316.6 314.6L317.5 318.1L318.2 320.8L318.4 322.3L319.3 328.9L319.7 331.6L320.2 339.3L320.3 340.5L321.1 326.5L321.1 325.6L322.1 316.8L322.8 309.5L323.0 311.0L323.9 319.8L324.0 320.9L324.8 330.2L325.7 340.9L326.0 344.4L326.6 328.2L326.7 327.2L327.5 315.3L328.2 306.2L328.4 304.0L329.4 295.8L329.8 291.8L330.3 269.2L331.2 224.9L331.2 224.4L332.1 257.3L332.5 272.1L333.0 285.1L333.7 302.8L333.9 297.0L334.8 274.3L335.7 253.0L335.8 253.5L336.7 263.2L337.0 266.6L337.6 256.5L338.5 240.7L338.5 240.5L339.4 248.1L340.0 253.4L340.3 258.0L340.7 264.3L341.2 258.0L342.1 247.3L342.3 245.6L343.1 261.9L344.0 281.3L344.2 285.9L344.9 314.5L345.0 319.0L345.8 286.9L346.5 258.9L346.7 262.6L347.6 278.8L347.8 281.8L348.5 263.8L349.4 242.0L349.5 240.8L350.4 263.1L351.0 280.3L351.3 292.0L351.7 312.7L352.2 298.2L352.4 292.7L353.1 281.8L354.0 268.3L354.0 268.5L354.9 279.0L355.0 279.7L355.9 244.3L356.0 238.0L356.8 265.1L357.7 297.8L358.0 309.2L358.6 293.3L358.8 289.1L359.5 278.5L360.4 265.5L360.5 264.4L361.2 238.1L361.3 236.6L362.2 220.1L363.0 206.5L363.2 216.1L364.1 270.5L364.6 302.2L365.0 291.6L365.5 277.1L365.9 271.7L366.8 259.3L367.7 246.9L367.8 245.8L368.6 258.6L369.6 272.7L370.1 281.2L370.5 293.1L371.0 310.2L371.4 303.2L371.9 293.7L372.3 289.9L373.2 281.0L374.0 273.3L374.1 274.2L375.0 281.1L375.1 281.7L375.9 268.4L376.2 264.5L376.9 297.1L377.6 334.0L377.8 328.3L378.3 311.8L378.7 304.3L379.6 288.5L379.8 285.0L380.5 272.9L381.0 264.5L381.4 246.0L382.3 208.8L382.3 209.6L383.2 229.4L383.7 239.3L384.2 223.4L385.0 195.5L385.1 192.1L386.0 152.7L386.2 144.1L386.9 167.9L387.6 191.0L387.8 185.8L388.7 164.1L389.0 158.0L389.6 186.6L390.4 219.8L390.6 217.6L391.5 204.7L391.7 201.7L392.4 229.1L393.0 253.2L393.3 262.9L394.0 285.2L394.2 289.7L394.8 302.1L395.1 309.2L396.0 330.5L396.5 341.1L397.0 336.7L397.9 328.1L398.7 320.5L398.8 319.7L399.7 312.7L400.6 305.7L400.7 305.3L401.5 322.5L402.4 341.2L402.7 345.8L403.4 335.0L404.3 320.7L404.5 317.0L405.2 322.5L406.1 329.9L406.5 333.2L407.0 337.6L407.9 345.4L408.8 353.2L409.0 354.7L409.8 344.1L410.7 331.3L411.5 319.7L411.6 320.0L412.5 324.5L412.7 325.4L413.4 321.6L414.3 316.8L414.5 315.8L415.2 331.2L416.0 347.5L416.1 345.7L417.1 333.7L418.0 321.7L418.9 309.9L419.0 308.4L419.8 313.2L420.7 318.7L421.0 320.4L421.6 329.2L422.5 342.3L422.7 344.2L423.4 335.7L424.0 329.8L424.4 318.3L425.3 289.2L425.7 277.1L426.2 288.5L427.1 308.1L427.2 309.6L428.0 333.9L428.7 352.3L428.9 348.1L429.8 333.2L430.3 325.3L430.8 324.4L431.7 322.6L432.0 322.0L432.6 324.5L433.2 326.9L433.5 329.5L434.4 336.4L434.8 339.6L435.3 335.4L436.2 327.4L436.5 325.1L437.1 322.2L438.1 318.2L438.2 317.8L439.0 324.5L439.8 331.5L439.9 332.0L440.8 340.9L441.7 349.6L442.0 352.3L442.6 346.3L443.6 337.5L443.7 336.3L444.5 335.2L445.3 333.9L445.4 334.3L446.3 343.1L447.2 351.9L447.7 356.3L448.1 352.8L449.0 345.5L449.9 338.2L450.9 330.9L451.2 328.4L451.8 334.4L452.7 343.7L453.6 353.1L453.7 353.8L454.5 343.0L455.3 332.4L455.4 332.5L456.3 333.7L456.5 333.9L457.2 328.5L457.8 324.3L458.2 325.5L459.1 328.9L459.3 329.9L460.0 339.7L460.7 349.8L460.9 343.3L461.8 317.7L462.3 303.6L462.7 306.1L463.6 312.0L464.0 314.4L464.6 323.8L465.5 339.3L465.7 342.6L466.4 327.6L466.8 318.2L467.3 324.8L468.2 337.8L468.7 344.3L469.1 340.7L469.8 334.9L470.0 334.6L470.9 333.5L471.9 332.4L472.0 332.2L472.8 339.7L473.7 348.4L474.0 351.4L474.6 335.4L475.5 311.1L476.0 298.6L476.4 289.0L477.0 276.3L477.3 284.6L478.2 304.8L478.3 304.6L479.0 303.2L479.2 307.8L480.1 332.9L480.3 339.4L481.0 333.8L481.9 326.0L482.3 322.4L482.8 325.3L483.7 330.2L483.7 328.4L484.6 306.1L485.0 297.5L485.6 316.9L486.5 348.3L486.5 349.0L487.4 339.6L488.2 331.5L488.3 332.5L489.2 339.1L489.5 341.1L490.1 323.2L490.7 308.0L491.1 316.2L492.0 335.7L492.8 354.5L492.9 354.1L493.8 340.9L494.5 330.8L494.7 331.7L495.6 336.2L495.7 336.3L496.5 317.2L497.0 306.8L497.4 315.7L498.4 334.2L499.3 352.6L499.3 353.8L500.2 346.5L501.1 338.5L501.2 337.9L502.0 336.3L502.9 334.5L503.2 334.1L503.8 339.8L504.0 341.2L504.8 348.3L505.3 353.8L505.7 349.3L506.6 336.5L507.0 330.7L507.5 333.3L508.4 338.0L508.7 339.4L509.3 340.8L509.8 341.9L510.2 344.5L511.1 350.6L512.0 356.3L512.1 355.3L513.0 340.9L513.9 326.5L514.5 316.7L514.8 318.7L515.7 324.8L516.5 330.1L516.6 331.8L517.5 343.5L518.5 355.1L518.7 357.8L519.4 345.0L520.3 328.4L520.7 321.4L521.2 325.4L522.1 332.6L522.7 337.1L523.0 340.4L523.9 349.2L524.8 357.8L524.9 357.6L525.8 343.7L526.5 332.5L526.7 334.2L527.6 343.5L527.7 344.2L528.5 314.2L529.3 284.4L529.4 286.5L530.3 313.0L531.2 339.3L531.5 346.8L532.1 342.7L533.1 336.8L534.0 331.0L534.3 328.7L534.9 333.3L535.7 339.6L535.8 341.1L536.7 350.4L537.6 360.0L537.7 360.2L538.5 339.9L539.5 319.1L539.8 310.7L540.4 314.5L541.3 321.0L542.0 326.1L542.2 328.9L543.1 341.6L544.0 353.8L544.0 353.7L544.9 350.1L545.9 346.4L546.8 342.8L547.3 340.6L547.7 343.8L548.6 352.1L549.5 360.5L549.8 363.4L550.4 357.2L551.3 347.4L552.2 337.9L552.7 333.6L553.2 337.6L554.1 344.8L554.8 350.8L555.0 351.7L555.9 357.0L556.8 362.4L557.0 363.5L557.7 354.4L558.6 343.0L558.7 342.8L559.6 345.3L560.5 347.9L560.7 348.5L561.4 353.9L562.3 360.7L562.7 363.5L563.2 360.7L564.1 356.0L564.8 352.4L565.0 351.4L566.0 347.1L566.9 342.9L567.3 340.8L567.8 345.8L568.7 356.1L569.3 363.5L569.6 357.8L570.5 339.3L571.0 329.5L571.4 336.3L572.4 350.6L572.7 355.5L573.3 352.3L574.2 347.3L574.8 343.8L575.1 345.8L576.0 353.1L576.5 357.1L576.9 354.9L577.8 350.2L578.2 348.4L578.7 346.7L579.5 344.5L579.7 345.7L580.6 352.0L581.5 358.4L582.3 364.3L582.4 362.2L583.3 333.1L584.0 311.1L584.2 316.1L585.1 337.1L585.7 349.2L586.0 344.4L587.0 332.8L587.3 328.3L587.9 339.5L588.7 355.5L588.8 351.6L589.7 321.3L590.6 291.3L590.7 289.8L591.5 307.8L592.5 327.3L592.7 331.9L593.4 340.2L594.3 351.2L594.8 358.0L595.2 354.5L596.1 345.5L596.5 341.6L597.0 339.1L597.9 334.4L598.8 329.8L599.0 329.0L599.8 330.2L600.0 330.6L600.7 339.0L601.6 350.5L602.0 355.7L602.5 352.5L603.4 346.5L603.7 344.7L604.3 331.0L605.2 311.4L605.8 298.9L606.1 306.1L607.1 327.3L608.0 348.8L608.0 349.3L608.9 342.2L609.8 335.0L610.7 327.7L611.3 322.8L611.6 325.8L612.5 335.3L613.5 345.0L614.2 352.4L614.4 350.0L615.3 339.0L616.2 328.0L616.7 322.4L617.1 323.6L618.0 326.0L618.7 327.6L618.9 331.1L619.9 342.8L620.8 354.7L620.8 355.6L621.7 347.9L622.6 339.7L623.3 333.0L623.5 334.3L624.4 341.6L625.0 346.2L625.3 342.8L626.2 333.1L626.7 328.8L627.2 332.9L628.0 339.8L628.1 338.1L629.0 314.9L629.7 298.1L629.9 301.1L630.8 313.2L631.7 325.3L632.5 335.4L632.6 332.9L633.5 316.7L634.5 300.4L635.0 291.1L635.4 295.7L636.3 306.9L637.2 318.1L637.5 321.5L638.1 326.5L639.0 333.7L640.0 341.1L640.0 341.5L640.9 334.7L641.8 327.6L642.7 320.6L643.3 315.7L643.6 318.3L644.5 327.2L645.4 336.0L646.3 344.6L646.3 344.6L647.3 338.5L648.2 332.5L648.8 328.2L649.1 327.7L650.0 325.9L650.9 324.0L651.3 323.2L651.8 329.9L652.7 342.7L653.3 350.9L653.6 341.5L654.6 314.0L655.5 286.4L655.8 275.9L656.4 298.9L657.0 324.3L657.3 321.9L658.2 314.5L658.3 313.6L659.1 328.4L660.0 345.4L660.3 350.8L661.0 327.1L661.9 292.7L662.5 269.0L662.8 273.7L663.5 285.3L663.7 283.6L664.5 276.9L664.6 281.6L665.5 320.0L665.5 320.6L666.4 340.0L666.7 344.7L667.4 337.8L668.3 328.4L668.7 324.3L669.2 323.2L670.1 321.3L670.8 319.8L671.0 323.5L671.9 342.2L672.5 354.1L672.8 343.3L673.8 313.1L673.8 310.5L674.7 320.5L675.6 331.8L675.8 335.0L676.5 328.1L677.2 321.0L677.4 325.2L678.3 341.4L678.7 347.8L679.2 344.0L680.1 337.9L681.1 331.6L681.7 327.5L682.0 330.1L682.9 338.1L683.8 346.4L684.7 354.1L684.7 353.8L685.6 347.5L686.5 341.1L686.7 340.1L687.5 327.1L688.4 311.8L689.3 296.2L690.0 284.0L690.2 288.9L691.1 312.6L691.7 327.3L692.0 321.9L692.9 307.7L693.3 301.4L693.8 302.2L694.8 303.6L695.0 304.0L695.7 311.1L696.6 320.9L697.5 330.8L698.3 339.9L698.4 338.8L699.3 325.8L700.2 312.9L700.5 309.2L701.1 314.8L702.1 322.7L703.0 330.4L703.0 330.6L703.9 339.6L704.8 349.0L705.0 350.9L705.7 310.0L706.6 258.8L707.4 215.4L707.5 222.9L708.5 268.3L709.4 314.0L710.0 346.1L710.3 326.6L711.2 265.7L712.1 205.3L712.6 173.2L713.0 165.6L713.2 162.7L713.9 213.2L714.6 257.9L714.9 286.9L715.2 324.8L715.2 368.5Z" fill="#a64df0"/>
<path d="M48.0 368.5L48.0 318.4L48.2 318.4L48.9 329.7L49.8 344.2L50.3 352.2L50.7 349.1L51.6 341.9L52.3 336.6L52.6 332.4L53.5 316.5L54.0 307.4L54.4 316.8L55.3 339.0L55.3 339.5L56.2 347.7L57.0 354.8L57.1 353.2L58.0 341.5L59.0 330.0L59.3 325.4L59.9 330.6L60.7 338.1L60.8 336.5L61.5 327.2L61.7 329.2L62.6 339.1L63.5 349.3L63.7 350.7L64.4 331.9L64.8 322.6L65.4 326.8L66.3 334.2L66.5 336.1L67.2 332.3L68.1 327.0L68.7 323.9L69.0 328.3L69.9 340.3L70.7 350.3L70.8 346.6L71.5 332.7L71.8 330.8L72.7 323.9L73.3 318.8L73.6 322.6L74.5 336.8L75.4 351.8L75.7 356.0L76.3 345.0L77.2 329.7L77.7 322.6L78.2 325.9L79.1 332.2L79.8 337.7L80.0 338.8L80.9 345.8L81.8 352.9L82.3 357.0L82.7 352.1L83.6 340.0L84.3 330.9L84.5 332.1L85.5 337.6L85.7 338.9L86.4 332.5L87.0 327.0L87.3 331.0L88.2 344.1L89.0 355.9L89.1 354.2L90.0 340.1L90.9 326.4L91.0 325.4L91.8 328.4L92.8 331.5L93.2 332.9L93.7 336.0L94.6 341.9L95.5 347.7L95.7 348.8L96.4 342.3L97.3 334.4L98.2 325.5L99.2 316.7L99.8 310.4L100.1 314.4L101.0 329.8L101.5 338.7L101.9 322.3L102.8 285.8L103.2 271.7L103.7 278.9L104.2 284.7L104.6 272.1L105.3 254.1L105.5 260.1L106.5 285.2L107.0 299.9L107.4 311.3L108.3 338.7L108.7 350.5L109.2 345.2L110.1 335.8L110.3 333.7L111.0 332.9L111.9 331.9L112.7 331.2L112.9 333.3L113.8 343.6L114.7 354.0L114.8 355.6L115.6 345.8L116.5 334.2L116.5 334.1L117.4 329.1L118.3 324.3L119.0 320.9L119.2 324.9L120.2 339.6L121.0 352.9L121.1 351.4L122.0 334.0L122.7 321.5L122.9 320.2L123.8 315.3L124.0 314.3L124.7 323.4L125.7 335.1L126.6 347.1L127.3 357.2L127.5 354.6L128.4 337.2L129.3 320.2L129.8 310.3L130.2 314.7L131.1 325.5L131.5 329.9L132.0 328.9L133.0 327.2L133.2 326.7L133.9 301.2L134.8 268.9L135.3 249.8L135.7 266.6L136.6 308.4L136.7 311.1L137.5 318.9L138.2 324.7L138.4 321.2L139.3 309.4L139.8 303.3L140.3 307.6L141.2 316.9L142.1 326.0L142.3 328.3L143.0 330.1L143.9 332.4L144.8 334.0L145.7 339.6L146.7 345.6L147.0 347.9L147.6 343.7L147.8 341.7L148.5 339.0L149.4 335.1L149.8 333.2L150.3 330.2L151.2 324.7L152.0 320.1L152.1 322.5L153.1 338.3L153.7 349.0L154.0 346.2L154.9 337.5L155.7 329.9L155.8 324.4L156.4 296.1L156.7 289.4L157.6 268.5L158.2 256.0L158.5 270.3L159.4 307.2L159.5 309.3L160.4 312.8L160.7 314.0L161.3 308.9L162.2 301.2L162.7 297.3L163.1 300.6L164.0 307.5L164.2 308.8L164.8 318.6L164.9 319.4L165.8 326.9L166.0 328.2L166.7 299.5L166.8 297.5L167.7 277.0L168.2 265.3L168.6 270.7L169.5 283.6L169.7 286.0L170.3 302.7L170.4 303.9L171.3 314.1L172.2 324.4L172.3 325.1L173.2 308.4L173.7 297.8L174.1 300.8L175.0 308.4L175.0 308.6L175.9 292.8L176.5 282.0L176.8 284.9L177.7 293.5L178.6 302.0L178.9 304.5L179.5 318.0L179.8 323.5L180.5 316.8L180.6 315.3L181.4 311.3L182.3 306.5L182.5 305.3L183.2 313.9L184.1 325.0L184.8 341.0L185.0 335.9L185.5 326.3L185.9 320.6L186.8 309.9L187.0 308.2L187.7 294.1L187.8 293.3L188.7 283.8L189.3 277.4L189.6 281.6L190.5 294.7L190.8 299.3L191.4 315.1L191.5 317.3L192.3 299.0L193.2 280.2L193.2 280.8L194.2 291.6L194.9 301.0L195.1 303.8L195.7 318.7L196.0 304.5L196.8 266.0L196.9 269.7L197.8 303.7L198.2 318.7L198.7 309.7L199.5 296.7L199.6 297.5L200.6 302.6L201.5 307.8L201.5 308.0L202.4 291.0L203.2 275.3L203.3 278.2L204.2 307.5L204.8 326.6L205.1 319.0L205.6 308.8L206.0 302.8L206.9 291.8L207.3 287.6L207.9 292.7L208.8 301.1L209.7 309.6L209.8 310.6L210.6 327.8L210.7 329.9L211.5 302.9L211.5 302.3L212.4 287.3L213.3 271.8L213.5 269.1L214.3 283.1L214.8 293.1L215.2 276.5L216.0 239.5L216.1 240.6L217.0 253.2L217.7 262.9L217.9 258.3L218.8 238.7L219.5 224.1L219.7 230.9L220.7 256.8L221.0 266.8L221.6 276.3L222.5 292.1L222.5 293.2L223.2 315.2L223.4 307.7L223.8 290.6L224.3 281.1L225.2 263.1L225.3 261.6L226.1 265.9L226.5 267.7L227.1 250.1L227.5 235.7L228.0 247.6L228.9 271.2L229.0 274.6L229.8 297.2L230.3 312.1L230.7 286.6L231.6 229.6L232.3 186.8L232.5 197.1L233.4 237.8L234.0 263.1L234.3 259.4L235.3 249.7L235.3 249.4L236.2 301.0L236.6 326.3L237.1 312.0L237.5 300.2L238.0 293.3L238.9 281.2L239.8 269.6L239.8 270.3L240.8 287.0L241.7 303.6L241.8 306.7L242.6 333.6L242.7 337.9L243.4 318.9L243.5 318.4L244.4 306.4L245.2 296.1L245.3 296.9L246.2 302.8L246.2 301.2L247.1 253.0L247.2 249.8L248.1 276.5L248.7 295.6L249.0 314.0L249.3 334.5L249.9 314.9L250.0 312.2L250.8 297.4L251.5 285.3L251.7 288.0L252.6 299.9L252.8 302.2L253.5 294.3L254.0 289.4L254.4 303.2L255.4 331.8L255.6 339.3L256.3 305.5L256.5 294.8L257.2 280.2L258.1 260.8L259.0 242.4L259.0 242.7L259.9 255.1L260.9 267.5L261.8 279.5L261.8 280.0L262.7 309.5L262.7 310.5L263.4 287.0L263.6 284.7L264.5 269.7L265.2 258.2L265.4 261.5L266.2 274.1L266.3 269.6L267.2 238.5L267.3 236.5L268.1 248.2L269.0 259.9L269.1 255.2L270.0 193.7L270.9 132.4L271.0 125.0L271.8 181.9L272.7 246.5L273.0 266.4L273.6 286.3L274.6 315.4L274.8 323.4L275.5 303.1L276.4 275.5L276.5 271.9L277.3 283.6L278.2 297.1L278.2 297.9L279.0 319.8L279.1 321.0L280.0 330.7L280.9 340.4L281.0 341.0L281.9 312.8L282.7 285.7L282.8 286.9L283.7 302.9L284.0 308.6L284.6 310.8L285.5 314.2L286.4 317.7L286.8 319.2L287.3 324.4L287.7 328.0L288.2 315.2L288.6 307.2L289.2 300.5L290.1 289.7L290.7 282.3L291.0 285.6L291.9 296.0L292.8 306.3L292.8 306.8L293.7 326.5L293.7 326.1L294.6 316.0L295.6 305.8L295.7 304.2L296.5 308.0L297.3 312.1L297.4 311.6L298.3 307.3L298.7 305.4L299.2 313.6L300.1 328.4L300.3 331.1L301.0 313.3L301.2 310.2L301.9 300.5L302.9 289.2L303.2 285.1L303.8 290.2L304.7 297.9L304.7 298.2L305.3 308.5L305.6 313.2L306.5 327.2L307.3 339.2L307.4 336.2L308.4 315.2L309.0 300.5L309.3 303.7L310.2 315.1L310.7 321.7L311.1 322.2L312.0 323.3L312.9 332.8L313.7 340.9L313.8 339.1L314.5 329.3L314.7 327.8L315.7 321.2L316.5 315.1L316.6 315.4L317.5 318.8L318.2 321.5L318.4 322.9L319.3 329.4L319.7 332.0L320.2 339.6L320.3 340.8L321.1 326.9L321.1 326.0L322.1 317.2L322.8 310.1L323.0 311.6L323.9 320.4L324.0 321.5L324.8 330.7L325.7 341.3L326.0 344.8L326.6 328.8L326.7 327.8L327.5 316.0L328.2 307.0L328.4 304.9L329.4 296.9L329.8 293.1L330.3 271.1L331.2 228.4L331.2 227.9L332.1 259.7L332.5 274.0L333.0 286.5L333.7 303.7L333.9 298.0L334.8 275.6L335.7 254.5L335.8 255.1L336.7 264.5L337.0 267.9L337.6 258.2L338.5 242.9L338.5 242.8L339.4 250.2L340.0 255.4L340.3 259.9L340.7 265.9L341.2 259.7L342.1 249.2L342.3 247.5L343.1 263.5L344.0 282.6L344.2 287.2L344.9 315.2L345.0 319.7L345.8 288.4L346.5 261.3L346.7 264.8L347.6 280.4L347.8 283.3L348.5 265.6L349.4 244.1L349.5 242.9L350.4 264.7L351.0 281.5L351.3 293.0L351.7 313.4L352.2 299.1L352.4 293.8L353.1 283.1L354.0 269.8L354.0 270.0L354.9 280.1L355.0 280.8L355.9 245.9L356.0 239.8L356.8 266.3L357.7 298.5L358.0 309.8L358.6 294.3L358.8 290.1L359.5 280.0L360.4 267.4L360.5 266.3L361.2 240.7L361.3 239.3L362.2 223.1L363.0 209.8L363.2 219.1L364.1 272.0L364.6 303.0L365.0 292.7L365.5 278.6L365.9 273.3L366.8 261.3L367.7 249.1L367.8 248.1L368.6 260.3L369.6 273.8L370.1 282.1L370.5 293.8L371.0 310.7L371.4 303.8L371.9 294.4L372.3 290.8L373.2 282.1L374.0 274.7L374.1 275.6L375.0 282.3L375.1 282.9L375.9 269.8L376.2 266.0L376.9 297.9L377.6 334.3L377.8 328.7L378.3 312.4L378.7 305.0L379.6 289.7L379.8 286.3L380.5 274.6L381.0 266.4L381.4 248.5L382.3 212.1L382.3 213.0L383.2 231.8L383.7 241.3L384.2 225.6L385.0 198.2L385.1 194.8L386.0 156.5L386.2 148.1L386.9 171.5L387.6 194.2L387.8 189.1L388.7 167.8L389.0 161.8L389.6 189.5L390.4 221.8L390.6 219.5L391.5 206.9L391.7 203.9L392.4 231.0L393.0 254.8L393.3 264.5L394.0 286.5L394.2 291.0L394.8 303.4L395.1 310.5L396.0 331.5L396.5 341.8L397.0 337.5L397.9 329.0L398.7 321.5L398.8 320.7L399.7 313.9L400.6 307.1L400.7 306.7L401.5 323.5L402.4 341.8L402.7 346.3L403.4 335.7L404.3 321.6L404.5 317.8L405.2 323.2L406.1 330.4L406.5 333.7L407.0 338.1L407.9 345.8L408.8 353.6L409.0 355.0L409.8 344.7L410.7 332.2L411.5 320.7L411.6 321.1L412.5 325.5L412.7 326.3L413.4 322.7L414.3 318.1L414.5 317.2L415.2 332.2L416.0 348.1L416.1 346.3L417.1 334.6L418.0 322.8L418.9 311.0L419.0 309.5L419.8 314.1L420.7 319.5L421.0 321.2L421.6 330.0L422.5 342.8L422.7 344.7L423.4 336.4L424.0 330.6L424.4 319.3L425.3 290.7L425.7 278.9L426.2 289.9L427.1 309.2L427.2 310.8L428.0 334.6L428.7 352.7L428.9 348.6L429.8 334.2L430.3 326.5L430.8 325.6L431.7 323.8L432.0 323.2L432.6 325.5L433.2 327.8L433.5 330.3L434.4 337.0L434.8 340.2L435.3 336.1L436.2 328.3L436.5 326.1L437.1 323.3L438.1 319.3L438.2 318.9L439.0 325.2L439.8 332.0L439.9 332.6L440.8 341.3L441.7 349.9L442.0 352.6L442.6 346.7L443.6 338.2L443.7 337.1L444.5 336.0L445.3 334.8L445.4 335.1L446.3 343.7L447.2 352.2L447.7 356.5L448.1 353.1L449.0 346.0L449.9 339.0L450.9 331.9L451.2 329.4L451.8 335.3L452.7 344.2L453.6 353.3L453.7 354.0L454.5 343.4L455.3 333.0L455.4 333.1L456.3 334.3L456.5 334.6L457.2 329.3L457.8 325.3L458.2 326.4L459.1 329.7L459.3 330.7L460.0 340.3L460.7 350.1L460.9 343.8L461.8 318.8L462.3 305.0L462.7 307.6L463.6 313.6L464.0 315.9L464.6 325.1L465.5 340.1L465.7 343.3L466.4 328.7L466.8 319.5L467.3 325.8L468.2 338.4L468.7 344.8L469.1 341.2L469.8 335.5L470.0 335.3L470.9 334.2L471.9 333.2L472.0 333.0L472.8 340.2L473.7 348.8L474.0 351.7L474.6 335.9L475.5 312.1L476.0 299.8L476.4 290.6L477.0 278.4L477.3 286.7L478.2 306.5L478.3 306.4L479.0 305.1L479.2 309.5L480.1 333.8L480.3 340.2L481.0 334.6L481.9 327.0L482.3 323.5L482.8 326.3L483.7 331.1L483.7 329.4L484.6 307.9L485.0 299.5L485.6 318.3L486.5 348.7L486.5 349.4L487.4 340.2L488.2 332.2L488.3 333.2L489.2 339.5L489.5 341.5L490.1 323.9L490.7 309.2L491.1 317.2L492.0 336.4L492.8 354.8L492.9 354.3L493.8 341.5L494.5 331.6L494.7 332.5L495.6 336.8L495.7 337.0L496.5 318.3L497.0 308.3L497.4 317.0L498.4 335.1L499.3 353.0L499.3 354.1L500.2 347.1L501.1 339.3L501.2 338.7L502.0 337.0L502.9 335.2L503.2 334.7L503.8 340.3L504.0 341.7L504.8 348.6L505.3 354.1L505.7 349.7L506.6 337.2L507.0 331.6L507.5 334.0L508.4 338.6L508.7 340.0L509.3 341.3L509.8 342.3L510.2 344.9L511.1 350.9L512.0 356.5L512.1 355.5L513.0 341.6L513.9 327.7L514.5 318.3L514.8 320.2L515.7 326.0L516.5 331.1L516.6 332.7L517.5 344.0L518.5 355.3L518.7 358.0L519.4 345.6L520.3 329.5L520.7 322.7L521.2 326.6L522.1 333.4L522.7 337.7L523.0 340.9L523.9 349.4L524.8 357.9L524.9 357.7L525.8 344.1L526.5 333.3L526.7 335.0L527.6 344.1L527.7 344.7L528.5 315.7L529.3 286.8L529.4 288.8L530.3 314.4L531.2 339.9L531.5 347.2L532.1 343.2L533.1 337.7L534.0 332.2L534.3 330.0L534.9 334.4L535.7 340.4L535.8 341.8L536.7 350.8L537.6 360.1L537.7 360.3L538.5 340.4L539.5 320.1L539.8 312.0L540.4 315.8L541.3 322.2L542.0 327.2L542.2 329.8L543.1 342.1L544.0 354.1L544.0 354.0L544.9 350.4L545.9 346.8L546.8 343.4L547.3 341.3L547.7 344.4L548.6 352.6L549.5 360.6L549.8 363.5L550.4 357.4L551.3 347.9L552.2 338.6L552.7 334.4L553.2 338.3L554.1 345.4L554.8 351.2L555.0 352.1L555.9 357.3L556.8 362.5L557.0 363.5L557.7 354.6L558.6 343.4L558.7 343.2L559.6 345.7L560.5 348.3L560.7 348.8L561.4 354.2L562.3 360.9L562.7 363.5L563.2 360.8L564.1 356.2L564.8 352.8L565.0 351.8L566.0 347.6L566.9 343.5L567.3 341.5L567.8 346.4L568.7 356.5L569.3 363.6L569.6 358.1L570.5 340.2L571.0 330.7L571.4 337.2L572.4 350.9L572.7 355.7L573.3 352.6L574.2 347.7L574.8 344.3L575.1 346.3L576.0 353.5L576.5 357.4L576.9 355.2L577.8 350.6L578.2 348.9L578.7 347.2L579.5 345.0L579.7 346.1L580.6 352.4L581.5 358.6L582.3 364.4L582.4 362.3L583.3 334.5L584.0 313.5L584.2 318.2L585.1 338.2L585.7 349.8L586.0 345.1L587.0 333.7L587.3 329.3L587.9 340.2L588.7 355.8L588.8 352.0L589.7 322.8L590.6 293.9L590.7 292.5L591.5 309.7L592.5 328.3L592.7 332.8L593.4 340.8L594.3 351.5L594.8 358.1L595.2 354.8L596.1 346.2L596.5 342.4L597.0 340.0L597.9 335.7L598.8 331.2L599.0 330.4L599.8 331.5L600.0 331.8L600.7 339.9L601.6 350.9L602.0 356.0L602.5 353.0L603.4 347.2L603.7 345.5L604.3 332.4L605.2 313.6L605.8 301.3L606.1 308.1L607.1 328.3L608.0 349.2L608.0 349.7L608.9 342.8L609.8 335.9L610.7 328.9L611.3 324.2L611.6 327.2L612.5 336.3L613.5 345.6L614.2 352.8L614.4 350.4L615.3 339.8L616.2 329.2L616.7 324.0L617.1 325.3L618.0 327.7L618.7 329.4L618.9 332.6L619.9 343.7L620.8 355.0L620.8 355.9L621.7 348.4L622.6 340.4L623.3 334.0L623.5 335.2L624.4 342.4L625.0 346.8L625.3 343.5L626.2 334.2L626.7 329.9L627.2 333.8L628.0 340.5L628.1 338.7L629.0 316.1L629.7 299.8L629.9 302.9L630.8 315.0L631.7 326.9L632.5 336.6L632.6 334.2L633.5 318.7L634.5 302.9L635.0 293.8L635.4 298.1L636.3 308.8L637.2 319.7L637.5 323.1L638.1 328.0L639.0 335.0L640.0 342.0L640.0 342.3L640.9 335.7L641.8 328.6L642.7 321.6L643.3 316.8L643.6 319.4L644.5 328.3L645.4 336.9L646.3 345.3L646.3 345.3L647.3 339.5L648.2 333.6L648.8 329.4L649.1 328.9L650.0 327.1L650.9 325.4L651.3 324.7L651.8 331.3L652.7 343.7L653.3 351.6L653.6 342.5L654.6 316.1L655.5 289.1L655.8 278.8L656.4 300.8L657.0 325.4L657.3 323.0L658.2 315.8L658.3 315.0L659.1 329.5L660.0 346.0L660.3 351.3L661.0 328.4L661.9 294.9L662.5 271.8L662.8 276.2L663.5 287.3L663.7 285.7L664.5 279.3L664.6 284.0L665.5 321.5L665.5 322.1L666.4 341.0L666.7 345.6L667.4 339.0L668.3 330.0L668.7 326.0L669.2 324.8L670.1 322.8L670.8 321.3L671.0 324.8L671.9 342.9L672.5 354.5L672.8 344.1L673.8 315.1L673.8 312.6L674.7 322.1L675.6 332.8L675.8 335.9L676.5 329.1L677.2 322.1L677.4 326.1L678.3 342.0L678.7 348.2L679.2 344.6L680.1 338.7L681.1 332.8L681.7 328.9L682.0 331.4L682.9 339.1L683.8 347.0L684.7 354.4L684.7 354.2L685.6 348.1L686.5 342.0L686.7 341.1L687.5 328.7L688.4 314.1L689.3 299.0L690.0 286.9L690.2 291.5L691.1 314.0L691.7 328.3L692.0 322.9L692.9 309.2L693.3 303.2L693.8 304.1L694.8 305.7L695.0 306.0L695.7 312.9L696.6 322.3L697.5 331.8L698.3 340.6L698.4 339.5L699.3 326.9L700.2 314.7L700.5 311.2L701.1 316.9L702.1 324.6L703.0 332.0L703.0 332.1L703.9 340.6L704.8 349.5L705.0 351.4L705.7 311.7L706.6 262.1L707.4 220.7L707.5 227.9L708.5 271.9L709.4 315.9L710.0 346.7L710.3 327.8L711.2 268.5L712.1 209.4L712.6 177.9L713.0 170.6L713.2 167.8L713.9 217.5L714.6 261.4L714.9 289.5L715.2 326.2L715.2 368.5Z" fill="#25b98c"/>
<path d="M48.0 368.5L48.0 320.5L48.2 320.5L48.9 331.2L49.8 345.0L50.3 352.7L50.7 349.6L51.6 342.6L52.3 337.4L52.6 333.3L53.5 318.2L54.0 309.8L54.4 318.9L55.3 340.3L55.3 340.8L56.2 348.6L57.0 355.4L57.1 353.8L58.0 342.5L59.0 331.4L59.3 327.0L59.9 332.0L60.7 339.3L60.8 337.8L61.5 329.0L61.7 331.0L62.6 340.4L63.5 350.1L63.7 351.5L64.4 333.1L64.8 324.1L65.4 328.0L66.3 335.1L66.5 337.0L67.2 333.3L68.1 328.4L68.7 325.6L69.0 329.8L69.9 341.4L70.7 350.9L70.8 347.4L71.5 333.9L71.8 332.1L72.7 325.4L73.3 320.5L73.6 324.2L74.5 338.0L75.4 352.6L75.7 356.5L76.3 346.1L77.2 331.6L77.7 324.8L78.2 327.8L79.1 333.5L79.8 338.7L80.0 339.7L80.9 346.5L81.8 353.4L82.3 357.4L82.7 352.7L83.6 341.0L84.3 332.3L84.5 333.4L85.5 338.5L85.7 339.7L86.4 333.5L87.0 328.1L87.3 332.0L88.2 344.9L89.0 356.4L89.1 354.8L90.0 341.3L90.9 328.5L91.0 327.5L91.8 330.2L92.8 332.9L93.2 334.2L93.7 337.1L94.6 342.8L95.5 348.5L95.7 349.6L96.4 343.4L97.3 335.9L98.2 327.3L99.2 318.5L99.8 312.2L100.1 316.0L101.0 330.8L101.5 339.5L101.9 323.6L102.8 288.8L103.2 275.6L103.7 282.8L104.2 288.5L104.6 276.7L105.3 259.6L105.5 265.2L106.5 288.6L107.0 302.4L107.4 313.3L108.3 339.7L108.7 351.1L109.2 346.0L110.1 337.3L110.3 335.3L111.0 334.6L111.9 333.7L112.7 332.9L112.9 334.8L113.8 344.4L114.7 354.4L114.8 356.0L115.6 346.5L116.5 335.3L116.5 335.2L117.4 330.6L118.3 326.0L119.0 322.7L119.2 326.5L120.2 340.4L121.0 353.3L121.1 351.8L122.0 334.9L122.7 323.0L122.9 321.8L123.8 317.5L124.0 316.6L124.7 325.5L125.7 336.7L126.6 348.0L127.3 357.6L127.5 355.2L128.4 338.3L129.3 321.9L129.8 312.5L130.2 316.8L131.1 327.2L131.5 331.5L132.0 330.5L133.0 328.8L133.2 328.3L133.9 303.7L134.8 272.1L135.3 253.4L135.7 269.5L136.6 310.1L136.7 312.7L137.5 320.5L138.2 326.3L138.4 323.0L139.3 312.0L139.8 306.3L140.3 310.4L141.2 319.0L142.1 327.5L142.3 329.7L143.0 331.4L143.9 333.8L144.8 335.3L145.7 340.6L146.7 346.3L147.0 348.5L147.6 344.3L147.8 342.2L148.5 339.4L149.4 335.4L149.8 333.5L150.3 330.5L151.2 325.1L152.0 320.6L152.1 323.0L153.1 338.7L153.7 349.2L154.0 346.4L154.9 337.8L155.7 330.2L155.8 324.8L156.4 296.7L156.7 290.1L157.6 269.7L158.2 257.6L158.5 271.7L159.4 308.0L159.5 310.0L160.4 313.5L160.7 314.8L161.3 309.7L162.2 302.0L162.7 298.1L163.1 301.3L164.0 308.1L164.2 309.4L164.8 319.1L164.9 319.9L165.8 327.3L166.0 328.6L166.7 300.3L166.8 298.4L167.7 278.3L168.2 266.7L168.6 271.9L169.5 284.4L169.7 286.7L170.3 303.2L170.4 304.4L171.3 314.5L172.2 324.8L172.3 325.4L173.2 309.0L173.7 298.7L174.1 301.6L175.0 309.1L175.0 309.3L175.9 293.7L176.5 283.2L176.8 285.9L177.7 294.3L178.6 302.7L178.9 305.2L179.5 318.6L179.8 324.1L180.5 317.5L180.6 316.0L181.4 312.0L182.3 307.2L182.5 306.0L183.2 314.4L184.1 325.3L184.8 341.2L185.0 336.1L185.5 326.6L185.9 321.0L186.8 310.5L187.0 308.7L187.7 295.0L187.8 294.1L188.7 284.8L189.3 278.6L189.6 282.6L190.5 295.4L190.8 299.9L191.4 315.5L191.5 317.7L192.3 299.7L193.2 281.4L193.2 281.9L194.2 292.7L194.9 302.0L195.1 304.7L195.7 319.4L196.0 305.4L196.8 267.6L196.9 271.2L197.8 304.4L198.2 319.1L198.7 310.2L199.5 297.4L199.6 298.2L200.6 303.2L201.5 308.5L201.5 308.7L202.4 291.9L203.2 276.5L203.3 279.2L204.2 307.9L204.8 326.9L205.1 319.4L205.6 309.2L206.0 303.3L206.9 292.6L207.3 288.5L207.9 293.6L208.8 301.9L209.7 310.3L209.8 311.4L210.6 328.3L210.7 330.4L211.5 303.6L211.5 303.0L212.4 288.2L213.3 273.1L213.5 270.4L214.3 284.2L214.8 294.1L215.2 277.9L216.0 241.8L216.1 242.8L217.0 254.9L217.7 264.2L217.9 259.7L218.8 240.2L219.5 225.6L219.7 232.3L220.7 257.9L221.0 267.8L221.6 277.3L222.5 293.0L222.5 294.0L223.2 315.8L223.4 308.3L223.8 291.5L224.3 282.1L225.2 264.4L225.3 262.9L226.1 267.1L226.5 268.9L227.1 251.7L227.5 237.7L228.0 249.4L228.9 272.8L229.0 276.1L229.8 298.2L230.3 312.8L230.7 287.8L231.6 232.0L232.3 189.8L232.5 199.7L233.4 239.4L234.0 264.2L234.3 260.6L235.3 251.2L235.3 250.9L236.2 301.7L236.6 326.7L237.1 312.6L237.5 300.9L238.0 294.1L238.9 282.1L239.8 270.5L239.8 271.3L240.8 287.7L241.7 304.1L241.8 307.2L242.6 333.9L242.7 338.2L243.4 319.5L243.5 319.0L244.4 307.1L245.2 297.1L245.3 297.9L246.2 303.5L246.2 301.9L247.1 254.5L247.2 251.4L248.1 277.6L248.7 296.4L249.0 314.5L249.3 334.8L249.9 315.4L250.0 312.8L250.8 298.2L251.5 286.3L251.7 289.0L252.6 300.5L252.8 302.8L253.5 294.9L254.0 290.0L254.4 303.7L255.4 332.0L255.6 339.5L256.3 306.0L256.5 295.5L257.2 281.2L258.1 262.4L259.0 244.4L259.0 244.6L259.9 256.7L260.9 268.7L261.8 280.5L261.8 281.0L262.7 310.1L262.7 311.1L263.4 288.0L263.6 285.8L264.5 271.3L265.2 260.1L265.4 263.3L266.2 275.4L266.3 271.0L267.2 240.3L267.3 238.2L268.1 249.6L269.0 261.0L269.1 256.4L270.0 196.1L270.9 136.3L271.0 129.1L271.8 185.0L272.7 248.1L273.0 267.7L273.6 287.1L274.6 315.7L274.8 323.7L275.5 303.6L276.4 276.5L276.5 273.0L277.3 284.6L278.2 298.0L278.2 298.8L279.0 320.3L279.1 321.6L280.0 331.2L280.9 340.7L281.0 341.3L281.9 313.3L282.7 286.6L282.8 287.8L283.7 303.5L284.0 309.2L284.6 311.4L285.5 314.8L286.4 318.2L286.8 319.6L287.3 324.8L287.7 328.3L288.2 315.6L288.6 307.6L289.2 301.0L290.1 290.3L290.7 283.1L291.0 286.4L291.9 296.7L292.8 307.0L292.8 307.4L293.7 326.9L293.7 326.6L294.6 316.5L295.6 306.3L295.7 304.8L296.5 308.5L297.3 312.6L297.4 312.2L298.3 307.9L298.7 306.1L299.2 314.2L300.1 328.9L300.3 331.6L301.0 313.9L301.2 310.8L301.9 301.1L302.9 289.9L303.2 285.8L303.8 290.8L304.7 298.4L304.7 298.8L305.3 309.0L305.6 313.7L306.5 327.6L307.3 339.5L307.4 336.5L308.4 315.6L309.0 301.1L309.3 304.2L310.2 315.5L310.7 322.1L311.1 322.6L312.0 323.7L312.9 333.2L313.7 341.2L313.8 339.5L314.5 329.8L314.7 328.3L315.7 321.7L316.5 315.6L316.6 315.8L317.5 319.2L318.2 321.8L318.4 323.3L319.3 329.8L319.7 332.4L320.2 339.9L320.3 341.0L321.1 327.3L321.1 326.4L322.1 317.7L322.8 310.5L323.0 312.0L323.9 320.7L324.0 321.8L324.8 331.0L325.7 341.5L326.0 345.0L326.6 329.2L326.7 328.1L327.5 316.6L328.2 307.7L328.4 305.6L329.4 297.7L329.8 293.9L330.3 272.3L331.2 230.3L331.2 229.9L332.1 261.1L332.5 275.1L333.0 287.5L333.7 304.3L333.9 298.8L334.8 276.8L335.7 256.1L335.8 256.6L336.7 265.7L337.0 268.9L337.6 259.2L338.5 244.1L338.5 243.9L339.4 251.4L340.0 256.6L340.3 261.0L340.7 267.0L341.2 261.1L342.1 250.8L342.3 249.1L343.1 264.8L344.0 283.5L344.2 288.0L344.9 315.6L345.0 320.1L345.8 289.1L346.5 262.7L346.7 266.2L347.6 281.6L347.8 284.4L348.5 267.3L349.4 246.2L349.5 245.0L350.4 266.1L351.0 282.4L351.3 293.7L351.7 313.8L352.2 299.7L352.4 294.4L353.1 283.8L354.0 270.9L354.0 271.1L354.9 281.1L355.0 281.7L355.9 247.5L356.0 241.4L356.8 267.4L357.7 299.0L358.0 310.1L358.6 294.8L358.8 290.7L359.5 280.7L360.4 268.5L360.5 267.4L361.2 242.5L361.3 241.1L362.2 225.5L363.0 212.7L363.2 221.7L364.1 273.4L364.6 303.7L365.0 293.5L365.5 279.6L365.9 274.4L366.8 262.6L367.7 250.7L367.8 249.7L368.6 261.8L369.6 275.0L370.1 283.1L370.5 294.6L371.0 311.2L371.4 304.3L371.9 295.0L372.3 291.3L373.2 282.8L374.0 275.4L374.1 276.3L375.0 283.1L375.1 283.6L375.9 270.9L376.2 267.2L376.9 298.6L377.6 334.6L377.8 329.0L378.3 312.9L378.7 305.5L379.6 290.4L379.8 287.1L380.5 275.6L381.0 267.6L381.4 250.1L382.3 214.8L382.3 215.6L383.2 234.2L383.7 243.4L384.2 228.1L385.0 201.0L385.1 197.7L386.0 159.6L386.2 151.3L386.9 174.0L387.6 196.2L387.8 191.2L388.7 170.5L389.0 164.6L389.6 192.0L390.4 223.7L390.6 221.5L391.5 209.0L391.7 206.1L392.4 232.5L393.0 255.9L393.3 265.5L394.0 287.3L394.2 291.9L394.8 304.3L395.1 311.4L396.0 332.4L396.5 342.5L397.0 338.4L397.9 330.1L398.7 322.8L398.8 322.0L399.7 315.1L400.6 308.3L400.7 307.9L401.5 324.4L402.4 342.4L402.7 346.7L403.4 336.5L404.3 322.7L404.5 319.0L405.2 324.2L406.1 331.1L406.5 334.3L407.0 338.5L407.9 346.1L408.8 353.8L409.0 355.2L409.8 345.1L410.7 333.0L411.5 321.9L411.6 322.3L412.5 326.5L412.7 327.3L413.4 323.7L414.3 319.2L414.5 318.2L415.2 332.9L416.0 348.5L416.1 346.8L417.1 335.5L418.0 324.0L418.9 312.6L419.0 311.1L419.8 315.4L420.7 320.5L421.0 322.1L421.6 330.6L422.5 343.2L422.7 345.0L423.4 337.0L424.0 331.3L424.4 320.4L425.3 292.6L425.7 281.0L426.2 291.7L427.1 310.5L427.2 311.9L428.0 335.2L428.7 352.9L428.9 348.9L429.8 334.9L430.3 327.4L430.8 326.7L431.7 325.1L432.0 324.6L432.6 326.8L433.2 329.0L433.5 331.3L434.4 337.8L434.8 340.8L435.3 336.7L436.2 329.1L436.5 326.9L437.1 324.2L438.1 320.4L438.2 320.0L439.0 326.3L439.8 332.9L439.9 333.4L440.8 341.8L441.7 350.2L442.0 352.8L442.6 347.0L443.6 338.6L443.7 337.6L444.5 336.6L445.3 335.6L445.4 335.9L446.3 344.3L447.2 352.6L447.7 356.8L448.1 353.5L449.0 346.5L449.9 339.6L450.9 332.7L451.2 330.4L451.8 336.1L452.7 344.9L453.6 353.7L453.7 354.4L454.5 343.9L455.3 333.7L455.4 333.8L456.3 334.9L456.5 335.1L457.2 329.9L457.8 326.0L458.2 327.2L459.1 330.5L459.3 331.5L460.0 340.9L460.7 350.5L460.9 344.3L461.8 319.9L462.3 306.5L462.7 308.9L463.6 314.7L464.0 317.0L464.6 326.1L465.5 340.8L465.7 343.9L466.4 329.9L466.8 321.0L467.3 327.2L468.2 339.3L468.7 345.4L469.1 341.8L469.8 336.2L470.0 335.9L470.9 334.9L471.9 333.9L472.0 333.7L472.8 340.8L473.7 349.1L474.0 352.0L474.6 336.7L475.5 313.4L476.0 301.3L476.4 292.1L477.0 280.1L477.3 288.2L478.2 307.7L478.3 307.5L479.0 306.5L479.2 310.9L480.1 334.7L480.3 340.9L481.0 335.6L481.9 328.2L482.3 324.8L482.8 327.5L483.7 332.0L483.7 330.4L484.6 309.3L485.0 301.3L485.6 319.6L486.5 349.2L486.5 349.8L487.4 340.9L488.2 333.2L488.3 334.1L489.2 340.2L489.5 342.1L490.1 324.8L490.7 310.3L491.1 318.1L492.0 336.9L492.8 355.0L492.9 354.5L493.8 342.0L494.5 332.5L494.7 333.4L495.6 337.6L495.7 337.7L496.5 319.6L497.0 309.8L497.4 318.2L498.4 335.8L499.3 353.2L499.3 354.4L500.2 347.6L501.1 340.1L501.2 339.5L502.0 337.9L502.9 336.1L503.2 335.7L503.8 341.0L504.0 342.3L504.8 349.0L505.3 354.3L505.7 350.0L506.6 337.8L507.0 332.3L507.5 334.7L508.4 339.2L508.7 340.6L509.3 341.8L509.8 342.8L510.2 345.4L511.1 351.1L512.0 356.6L512.1 355.7L513.0 342.1L513.9 328.7L514.5 319.6L514.8 321.6L515.7 327.3L516.5 332.2L516.6 333.8L517.5 344.6L518.5 355.6L518.7 358.2L519.4 346.1L520.3 330.5L520.7 323.9L521.2 327.6L522.1 334.4L522.7 338.5L523.0 341.6L523.9 349.8L524.8 358.1L524.9 357.9L525.8 344.5L526.5 333.8L526.7 335.5L527.6 344.5L527.7 345.1L528.5 316.9L529.3 289.1L529.4 291.1L530.3 315.9L531.2 340.6L531.5 347.7L532.1 343.8L533.1 338.4L534.0 333.0L534.3 331.0L534.9 335.3L535.7 341.2L535.8 342.5L536.7 351.2L537.6 360.2L537.7 360.4L538.5 341.0L539.5 321.2L539.8 313.2L540.4 316.9L541.3 323.1L542.0 328.0L542.2 330.7L543.1 342.7L544.0 354.3L544.0 354.2L544.9 350.7L545.9 347.2L546.8 343.9L547.3 341.8L547.7 344.9L548.6 352.9L549.5 360.8L549.8 363.6L550.4 357.7L551.3 348.5L552.2 339.4L552.7 335.3L553.2 339.0L554.1 345.9L554.8 351.5L555.0 352.4L555.9 357.5L556.8 362.6L557.0 363.6L557.7 354.9L558.6 344.0L558.7 343.8L559.6 346.1L560.5 348.6L560.7 349.1L561.4 354.4L562.3 361.0L562.7 363.6L563.2 361.0L564.1 356.5L564.8 353.1L565.0 352.2L566.0 348.2L566.9 344.1L567.3 342.2L567.8 346.9L568.7 356.7L569.3 363.6L569.6 358.3L570.5 341.0L571.0 331.8L571.4 338.1L572.4 351.3L572.7 356.0L573.3 352.9L574.2 348.1L574.8 344.7L575.1 346.7L576.0 353.7L576.5 357.6L576.9 355.5L577.8 351.0L578.2 349.3L578.7 347.7L579.5 345.6L579.7 346.6L580.6 352.7L581.5 358.8L582.3 364.4L582.4 362.4L583.3 335.3L584.0 315.1L584.2 319.7L585.1 339.1L585.7 350.3L586.0 345.8L587.0 334.8L587.3 330.4L587.9 340.9L588.7 356.1L588.8 352.3L589.7 323.9L590.6 295.8L590.7 294.5L591.5 311.2L592.5 329.3L592.7 333.7L593.4 341.4L594.3 351.8L594.8 358.3L595.2 355.0L596.1 346.5L596.5 342.9L597.0 340.6L597.9 336.4L598.8 332.3L599.0 331.5L599.8 332.6L600.0 332.9L600.7 340.7L601.6 351.4L602.0 356.3L602.5 353.3L603.4 347.7L603.7 346.1L604.3 333.4L605.2 315.2L605.8 303.4L606.1 310.0L607.1 329.5L608.0 349.7L608.0 350.1L608.9 343.3L609.8 336.4L610.7 329.6L611.3 325.1L611.6 328.0L612.5 337.1L613.5 346.2L614.2 353.2L614.4 350.9L615.3 340.4L616.2 330.1L616.7 325.0L617.1 326.3L618.0 328.8L618.7 330.5L618.9 333.7L619.9 344.5L620.8 355.4L620.8 356.3L621.7 349.0L622.6 341.1L623.3 334.7L623.5 336.0L624.4 342.9L625.0 347.3L625.3 344.0L626.2 335.0L626.7 330.9L627.2 334.6L628.0 341.1L628.1 339.4L629.0 317.3L629.7 301.3L629.9 304.2L630.8 316.0L631.7 327.7L632.5 337.4L632.6 335.1L633.5 320.2L634.5 305.1L635.0 296.3L635.4 300.5L636.3 310.6L637.2 321.0L637.5 324.3L638.1 329.0L639.0 335.8L640.0 342.6L640.0 343.0L640.9 336.6L641.8 329.7L642.7 322.7L643.3 318.0L643.6 320.4L644.5 329.0L645.4 337.4L646.3 345.8L646.3 345.8L647.3 340.1L648.2 334.5L648.8 330.5L649.1 329.9L650.0 328.2L650.9 326.5L651.3 325.8L651.8 332.2L652.7 344.3L653.3 352.0L653.6 343.2L654.6 317.9L655.5 291.9L655.8 282.0L656.4 303.0L657.0 326.6L657.3 324.2L658.2 317.0L658.3 316.2L659.1 330.3L660.0 346.4L660.3 351.6L661.0 329.3L661.9 296.8L662.5 274.4L662.8 278.7L663.5 289.4L663.7 287.8L664.5 281.4L664.6 285.9L665.5 322.4L665.5 323.0L666.4 341.5L666.7 346.0L667.4 339.7L668.3 331.1L668.7 327.4L669.2 326.3L670.1 324.3L670.8 322.7L671.0 326.1L671.9 343.6L672.5 354.8L672.8 344.6L673.8 316.5L673.8 314.0L674.7 323.3L675.6 333.8L675.8 336.8L676.5 330.1L677.2 323.3L677.4 327.1L678.3 342.5L678.7 348.5L679.2 344.9L680.1 339.2L681.1 333.5L681.7 329.8L682.0 332.3L682.9 339.9L683.8 347.5L684.7 354.8L684.7 354.5L685.6 348.5L686.5 342.6L686.7 341.7L687.5 329.8L688.4 315.7L689.3 301.3L690.0 289.7L690.2 294.1L691.1 315.7L691.7 329.4L692.0 324.1L692.9 310.5L693.3 304.6L693.8 305.4L694.8 306.9L695.0 307.3L695.7 314.1L696.6 323.4L697.5 332.7L698.3 341.2L698.4 340.2L699.3 327.8L700.2 315.9L700.5 312.5L701.1 318.1L702.1 325.7L703.0 333.0L703.0 333.2L703.9 341.5L704.8 350.1L705.0 351.9L705.7 313.5L706.6 265.4L707.4 224.8L707.5 231.8L708.5 274.3L709.4 317.2L710.0 347.2L710.3 328.9L711.2 271.4L712.1 213.8L712.6 183.1L713.0 175.6L713.2 172.7L713.9 220.8L714.6 263.5L714.9 291.0L715.2 327.0L715.2 368.5Z" fill="#0c1528"/>
<path d="M48.0 368.5L48.0 321.1L48.2 321.2L48.9 331.8L49.8 345.4L50.3 352.9L50.7 349.9L51.6 342.9L52.3 337.7L52.6 333.7L53.5 318.7L54.0 310.4L54.4 319.4L55.3 340.6L55.3 341.1L56.2 348.9L57.0 355.6L57.1 354.0L58.0 342.9L59.0 331.9L59.3 327.5L59.9 332.4L60.7 339.7L60.8 338.2L61.5 329.5L61.7 331.5L62.6 340.9L63.5 350.4L63.7 351.7L64.4 333.7L64.8 324.8L65.4 328.6L66.3 335.5L66.5 337.3L67.2 333.6L68.1 328.8L68.7 326.0L69.0 330.2L69.9 341.7L70.7 351.2L70.8 347.7L71.5 334.4L71.8 332.6L72.7 325.9L73.3 321.0L73.6 324.7L74.5 338.3L75.4 352.7L75.7 356.7L76.3 346.4L77.2 332.3L77.7 325.6L78.2 328.5L79.1 334.1L79.8 339.1L80.0 340.1L80.9 346.8L81.8 353.6L82.3 357.5L82.7 352.9L83.6 341.4L84.3 332.8L84.5 333.9L85.5 338.9L85.7 340.1L86.4 333.9L87.0 328.5L87.3 332.3L88.2 345.1L89.0 356.5L89.1 354.9L90.0 341.7L90.9 329.1L91.0 328.1L91.8 330.9L92.8 333.5L93.2 334.7L93.7 337.5L94.6 343.1L95.5 348.8L95.7 349.8L96.4 343.7L97.3 336.3L98.2 328.0L99.2 319.4L99.8 313.1L100.1 316.7L101.0 331.2L101.5 339.7L101.9 324.0L102.8 289.6L103.2 276.5L103.7 283.7L104.2 289.5L104.6 278.0L105.3 261.5L105.5 267.0L106.5 289.9L107.0 303.4L107.4 314.1L108.3 340.0L108.7 351.3L109.2 346.2L110.1 337.6L110.3 335.7L111.0 335.1L111.9 334.3L112.7 333.5L112.9 335.4L113.8 344.8L114.7 354.6L114.8 356.1L115.6 346.7L116.5 335.6L116.5 335.5L117.4 331.0L118.3 326.5L119.0 323.4L119.2 327.1L120.2 340.8L121.0 353.5L121.1 352.0L122.0 335.2L122.7 323.4L122.9 322.3L123.8 318.0L124.0 317.1L124.7 326.0L125.7 337.1L126.6 348.4L127.3 357.8L127.5 355.4L128.4 338.7L129.3 322.5L129.8 313.2L130.2 317.4L131.1 327.7L131.5 332.0L132.0 331.0L133.0 329.4L133.2 329.0L133.9 304.8L134.8 273.7L135.3 255.1L135.7 270.8L136.6 310.7L136.7 313.2L137.5 320.9L138.2 326.7L138.4 323.5L139.3 312.8L139.8 307.2L140.3 311.3L141.2 319.8L142.1 328.1L142.3 330.2L143.0 331.9L143.9 334.1L144.8 335.6L145.7 340.9L146.7 346.5L147.0 348.7L147.6 344.6L147.8 342.5L148.5 339.7L149.4 335.6L149.8 333.7L150.3 330.7L151.2 325.3L152.0 320.8L152.1 323.2L153.1 338.8L153.7 349.3L154.0 346.5L154.9 337.9L155.7 330.4L155.8 325.0L156.4 297.1L156.7 290.6L157.6 270.2L158.2 258.2L158.5 272.2L159.4 308.2L159.5 310.3L160.4 313.9L160.7 315.1L161.3 310.1L162.2 302.5L162.7 298.6L163.1 301.7L164.0 308.4L164.2 309.7L164.8 319.3L164.9 320.2L165.8 327.5L166.0 328.8L166.7 300.7L166.8 298.8L167.7 278.9L168.2 267.6L168.6 272.7L169.5 285.0L169.7 287.3L170.3 303.5L170.4 304.7L171.3 314.7L172.2 324.9L172.3 325.6L173.2 309.2L173.7 299.0L174.1 302.0L175.0 309.5L175.0 309.7L175.9 294.3L176.5 283.8L176.8 286.5L177.7 294.8L178.6 303.0L178.9 305.5L179.5 318.8L179.8 324.3L180.5 317.8L180.6 316.3L181.4 312.4L182.3 307.6L182.5 306.5L183.2 314.8L184.1 325.6L184.8 341.4L185.0 336.3L185.5 326.8L185.9 321.2L186.8 310.7L187.0 309.0L187.7 295.3L187.8 294.5L188.7 285.4L189.3 279.2L189.6 283.2L190.5 295.8L190.8 300.3L191.4 315.8L191.5 317.9L192.3 300.0L193.2 281.8L193.2 282.4L194.2 293.1L194.9 302.4L195.1 305.1L195.7 319.7L196.0 305.8L196.8 268.6L196.9 272.2L197.8 304.8L198.2 319.5L198.7 310.5L199.5 297.8L199.6 298.6L200.6 303.5L201.5 308.8L201.5 308.9L202.4 292.4L203.2 277.2L203.3 279.9L204.2 308.3L204.8 327.1L205.1 319.6L205.6 309.5L206.0 303.6L206.9 292.9L207.3 288.8L207.9 293.9L208.8 302.3L209.7 310.7L209.8 311.7L210.6 328.6L210.7 330.6L211.5 304.1L211.5 303.4L212.4 288.8L213.3 273.7L213.5 271.0L214.3 284.7L214.8 294.5L215.2 278.5L216.0 242.9L216.1 244.0L217.0 256.0L217.7 265.2L217.9 260.7L218.8 241.3L219.5 226.7L219.7 233.3L220.7 258.5L221.0 268.3L221.6 277.7L222.5 293.4L222.5 294.4L223.2 316.0L223.4 308.6L223.8 292.0L224.3 282.8L225.2 265.3L225.3 263.7L226.1 267.8L226.5 269.6L227.1 252.4L227.5 238.5L228.0 250.1L228.9 273.3L229.0 276.7L229.8 298.7L230.3 313.2L230.7 288.5L231.6 233.6L232.3 192.0L232.5 201.7L233.4 240.5L234.0 264.9L234.3 261.3L235.3 251.9L235.3 251.6L236.2 302.0L236.6 326.9L237.1 312.9L237.5 301.3L238.0 294.6L238.9 282.7L239.8 271.2L239.8 271.9L240.8 288.1L241.7 304.4L241.8 307.5L242.6 334.1L242.7 338.3L243.4 319.7L243.5 319.2L244.4 307.5L245.2 297.6L245.3 298.4L246.2 303.9L246.2 302.4L247.1 255.5L247.2 252.5L248.1 278.2L248.7 296.8L249.0 314.7L249.3 335.0L249.9 315.7L250.0 313.0L250.8 298.7L251.5 287.0L251.7 289.6L252.6 301.0L252.8 303.2L253.5 295.4L254.0 290.5L254.4 304.0L255.4 332.2L255.6 339.6L256.3 306.2L256.5 295.8L257.2 281.6L258.1 263.1L259.0 245.5L259.0 245.7L259.9 257.7L260.9 269.4L261.8 281.0L261.8 281.5L262.7 310.3L262.7 311.4L263.4 288.5L263.6 286.3L264.5 272.0L265.2 261.0L265.4 264.3L266.2 276.3L266.3 272.0L267.2 241.6L267.3 239.6L268.1 250.5L269.0 261.7L269.1 257.1L270.0 197.2L270.9 138.1L271.0 131.1L271.8 186.5L272.7 249.1L273.0 268.4L273.6 287.6L274.6 316.0L274.8 323.9L275.5 303.9L276.4 277.0L276.5 273.5L277.3 285.0L278.2 298.4L278.2 299.1L279.0 320.6L279.1 321.9L280.0 331.4L280.9 340.9L281.0 341.5L281.9 313.7L282.7 287.1L282.8 288.3L283.7 303.8L284.0 309.5L284.6 311.7L285.5 315.1L286.4 318.5L286.8 319.9L287.3 325.1L287.7 328.5L288.2 315.9L288.6 307.9L289.2 301.3L290.1 290.6L290.7 283.5L291.0 286.7L291.9 297.0L292.8 307.3L292.8 307.7L293.7 327.2L293.7 326.9L294.6 316.9L295.6 306.7L295.7 305.2L296.5 308.9L297.3 312.9L297.4 312.4L298.3 308.2L298.7 306.4L299.2 314.5L300.1 329.1L300.3 331.8L301.0 314.3L301.2 311.2L301.9 301.6L302.9 290.4L303.2 286.3L303.8 291.2L304.7 298.7L304.7 299.1L305.3 309.2L305.6 313.9L306.5 327.7L307.3 339.6L307.4 336.7L308.4 315.9L309.0 301.5L309.3 304.6L310.2 315.7L310.7 322.3L311.1 322.8L312.0 323.9L312.9 333.4L313.7 341.4L313.8 339.6L314.5 330.0L314.7 328.6L315.7 322.0L316.5 315.9L316.6 316.2L317.5 319.4L318.2 322.1L318.4 323.5L319.3 329.9L319.7 332.5L320.2 340.1L320.3 341.2L321.1 327.5L321.1 326.6L322.1 318.0L322.8 310.8L323.0 312.3L323.9 320.9L324.0 322.0L324.8 331.1L325.7 341.6L326.0 345.0L326.6 329.3L326.7 328.3L327.5 316.8L328.2 308.0L328.4 306.0L329.4 298.2L329.8 294.5L330.3 273.2L331.2 231.6L331.2 231.1L332.1 261.8L332.5 275.7L333.0 287.9L333.7 304.7L333.9 299.2L334.8 277.5L335.7 257.2L335.8 257.7L336.7 266.6L337.0 269.8L337.6 260.1L338.5 244.9L338.5 244.8L339.4 252.0L340.0 257.2L340.3 261.6L340.7 267.6L341.2 261.7L342.1 251.7L342.3 250.1L343.1 265.6L344.0 284.1L344.2 288.5L344.9 315.9L345.0 320.3L345.8 289.6L346.5 263.3L346.7 266.8L347.6 282.1L347.8 284.9L348.5 268.1L349.4 247.5L349.5 246.3L350.4 267.1L351.0 283.2L351.3 294.3L351.7 314.1L352.2 300.1L352.4 294.8L353.1 284.3L354.0 271.4L354.0 271.6L354.9 281.6L355.0 282.2L355.9 248.4L356.0 242.5L356.8 268.2L357.7 299.4L358.0 310.5L358.6 295.2L358.8 291.1L359.5 281.1L360.4 268.9L360.5 267.9L361.2 243.2L361.3 241.8L362.2 226.6L363.0 214.2L363.2 223.2L364.1 274.2L364.6 304.2L365.0 294.1L365.5 280.3L365.9 275.1L366.8 263.3L367.7 251.5L367.8 250.5L368.6 262.5L369.6 275.7L370.1 283.8L370.5 295.1L371.0 311.6L371.4 304.7L371.9 295.5L372.3 291.8L373.2 283.2L374.0 275.9L374.1 276.8L375.0 283.5L375.1 284.0L375.9 271.5L376.2 267.8L376.9 298.9L377.6 334.8L377.8 329.3L378.3 313.2L378.7 305.9L379.6 290.9L379.8 287.6L380.5 276.1L381.0 268.3L381.4 250.9L382.3 216.0L382.3 216.8L383.2 235.4L383.7 244.6L384.2 229.6L385.0 203.1L385.1 199.9L386.0 162.3L386.2 154.0L386.9 176.0L387.6 197.6L387.8 192.6L388.7 171.9L389.0 166.2L389.6 193.3L390.4 224.8L390.6 222.7L391.5 210.5L391.7 207.6L392.4 233.7L393.0 256.7L393.3 266.5L394.0 288.3L394.2 292.9L394.8 305.4L395.1 312.4L396.0 333.3L396.5 343.2L397.0 339.3L397.9 331.6L398.7 324.8L398.8 324.0L399.7 317.4L400.6 310.6L400.7 310.2L401.5 325.8L402.4 343.1L402.7 347.4L403.4 337.4L404.3 324.2L404.5 320.7L405.2 325.9L406.1 332.6L406.5 335.5L407.0 339.5L407.9 346.8L408.8 354.1L409.0 355.5L409.8 345.6L410.7 333.9L411.5 323.4L411.6 323.8L412.5 328.2L412.7 329.0L413.4 325.6L414.3 321.1L414.5 320.1L415.2 334.1L416.0 349.1L416.1 347.4L417.1 336.5L418.0 325.6L418.9 315.0L419.0 313.5L419.8 317.7L420.7 322.4L421.0 323.9L421.6 331.9L422.5 343.9L422.7 345.7L423.4 337.7L424.0 332.2L424.4 321.6L425.3 294.9L425.7 284.0L426.2 294.5L427.1 312.7L427.2 314.1L428.0 336.4L428.7 353.4L428.9 349.4L429.8 335.8L430.3 328.5L430.8 327.8L431.7 326.5L432.0 326.1L432.6 328.4L433.2 330.7L433.5 333.0L434.4 339.1L434.8 341.9L435.3 338.0L436.2 330.4L436.5 328.3L437.1 325.5L438.1 321.8L438.2 321.5L439.0 327.6L439.8 334.1L439.9 334.7L440.8 342.8L441.7 350.8L442.0 353.3L442.6 347.6L443.6 339.4L443.7 338.3L444.5 337.3L445.3 336.4L445.4 336.7L446.3 345.1L447.2 353.2L447.7 357.2L448.1 354.0L449.0 347.3L449.9 340.6L450.9 333.9L451.2 331.6L451.8 337.1L452.7 345.6L453.6 354.2L453.7 354.9L454.5 344.9L455.3 335.1L455.4 335.2L456.3 336.1L456.5 336.2L457.2 331.1L457.8 327.1L458.2 328.2L459.1 331.5L459.3 332.4L460.0 341.7L460.7 351.0L460.9 345.1L461.8 321.8L462.3 309.0L462.7 311.3L463.6 316.6L464.0 318.7L464.6 327.4L465.5 341.6L465.7 344.6L466.4 331.2L466.8 322.8L467.3 328.8L468.2 340.5L468.7 346.4L469.1 343.0L469.8 337.6L470.0 337.3L470.9 336.0L471.9 334.9L472.0 334.7L472.8 341.6L473.7 349.7L474.0 352.4L474.6 337.7L475.5 315.6L476.0 304.1L476.4 295.3L477.0 283.6L477.3 291.1L478.2 309.5L478.3 309.3L479.0 308.1L479.2 312.4L480.1 335.5L480.3 341.6L481.0 336.6L481.9 329.9L482.3 326.8L482.8 329.4L483.7 333.6L483.7 332.1L484.6 311.9L485.0 304.1L485.6 321.3L486.5 349.7L486.5 350.3L487.4 341.8L488.2 334.5L488.3 335.4L489.2 341.3L489.5 343.1L490.1 326.7L490.7 312.8L491.1 320.1L492.0 337.8L492.8 355.2L492.9 354.8L493.8 342.6L494.5 333.5L494.7 334.4L495.6 338.7L495.7 338.8L496.5 321.8L497.0 312.6L497.4 320.5L498.4 337.0L499.3 353.7L499.3 354.8L500.2 348.2L501.1 341.1L501.2 340.6L502.0 339.2L502.9 337.7L503.2 337.3L503.8 342.3L504.0 343.5L504.8 349.8L505.3 354.8L505.7 350.6L506.6 338.8L507.0 333.5L507.5 335.8L508.4 340.2L508.7 341.5L509.3 342.8L509.8 343.8L510.2 346.3L511.1 351.8L512.0 357.0L512.1 356.1L513.0 342.9L513.9 330.0L514.5 321.3L514.8 323.2L515.7 329.0L516.5 334.0L516.6 335.5L517.5 345.8L518.5 356.1L518.7 358.6L519.4 347.1L520.3 332.3L520.7 325.9L521.2 329.4L522.1 335.8L522.7 339.8L523.0 342.8L523.9 350.6L524.8 358.5L524.9 358.2L525.8 345.6L526.5 335.3L526.7 336.8L527.6 345.3L527.7 345.9L528.5 318.8L529.3 292.5L529.4 294.4L530.3 318.5L531.2 342.0L531.5 348.7L532.1 345.1L533.1 340.0L534.0 334.9L534.3 332.9L534.9 336.9L535.7 342.5L535.8 343.7L536.7 352.0L537.6 360.6L537.7 360.7L538.5 342.8L539.5 324.6L539.8 317.0L540.4 320.1L541.3 325.5L542.0 329.8L542.2 332.3L543.1 343.7L544.0 354.9L544.0 354.8L544.9 351.5L545.9 348.4L546.8 345.2L547.3 343.2L547.7 346.0L548.6 353.5L549.5 361.0L549.8 363.7L550.4 358.1L551.3 349.7L552.2 341.6L552.7 338.0L553.2 341.4L554.1 347.4L554.8 352.5L555.0 353.3L555.9 358.0L556.8 362.8L557.0 363.7L557.7 355.5L558.6 345.5L558.7 345.3L559.6 347.6L560.5 349.8L560.7 350.3L561.4 355.0L562.3 361.2L562.7 363.7L563.2 361.2L564.1 357.0L564.8 353.9L565.0 353.1L566.0 349.5L566.9 346.0L567.3 344.3L567.8 348.6L568.7 357.4L569.3 363.8L569.6 358.9L570.5 342.8L571.0 334.5L571.4 340.3L572.4 352.6L572.7 356.9L573.3 354.1L574.2 349.7L574.8 346.5L575.1 348.2L576.0 354.5L576.5 358.1L576.9 356.1L577.8 351.8L578.2 350.3L578.7 348.9L579.5 347.1L579.7 348.1L580.6 353.8L581.5 359.4L582.3 364.6L582.4 362.7L583.3 337.6L584.0 318.9L584.2 323.2L585.1 341.3L585.7 351.7L586.0 347.7L587.0 338.2L587.3 334.5L587.9 343.8L588.7 357.1L588.8 353.8L589.7 328.0L590.6 302.0L590.7 300.7L591.5 315.6L592.5 332.3L592.7 336.4L593.4 343.6L594.3 353.2L594.8 359.0L595.2 356.0L596.1 348.1L596.5 344.7L597.0 342.4L597.9 338.4L598.8 334.7L599.0 334.1L599.8 335.5L600.0 336.0L600.7 343.4L601.6 353.1L602.0 357.5L602.5 354.8L603.4 349.7L603.7 348.1L604.3 336.5L605.2 320.0L605.8 309.5L606.1 315.6L607.1 333.3L608.0 351.4L608.0 351.8L608.9 345.7L609.8 339.3L610.7 332.6L611.3 328.1L611.6 330.7L612.5 339.0L613.5 347.6L614.2 354.2L614.4 352.2L615.3 342.9L616.2 333.8L616.7 329.2L617.1 330.2L618.0 332.1L618.7 333.5L618.9 336.4L619.9 346.4L620.8 356.5L620.8 357.2L621.7 350.9L622.6 344.1L623.3 338.4L623.5 339.4L624.4 345.1L625.0 348.9L625.3 345.8L626.2 337.3L626.7 333.5L627.2 337.0L628.0 343.2L628.1 341.7L629.0 321.9L629.7 307.7L629.9 310.3L630.8 320.5L631.7 330.6L632.5 339.3L632.6 337.2L633.5 323.6L634.5 310.6L635.0 303.4L635.4 307.6L636.3 317.3L637.2 326.4L637.5 329.2L638.1 333.0L639.0 338.6L640.0 344.6L640.0 345.0L640.9 339.1L641.8 333.1L642.7 327.2L643.3 323.0L643.6 325.2L644.5 332.4L645.4 339.7L646.3 347.1L646.3 347.1L647.3 341.7L648.2 336.7L648.8 333.3L649.1 333.0L650.0 331.9L650.9 330.6L651.3 330.0L651.8 335.6L652.7 346.2L653.3 353.1L653.6 345.1L654.6 322.1L655.5 299.5L655.8 291.1L656.4 310.2L657.0 331.1L657.3 329.0L658.2 322.5L658.3 321.7L659.1 333.6L660.0 347.9L660.3 352.6L661.0 331.8L661.9 301.9L662.5 281.7L662.8 286.0L663.5 296.3L663.7 295.0L664.5 289.6L664.6 293.7L665.5 326.3L665.5 326.8L666.4 343.3L666.7 347.5L667.4 341.5L668.3 333.6L668.7 330.3L669.2 329.6L670.1 328.5L670.8 327.6L671.0 330.6L671.9 346.1L672.5 356.0L672.8 346.8L673.8 321.1L673.8 318.9L674.7 326.8L675.6 336.3L675.8 339.1L676.5 333.1L677.2 327.2L677.4 330.7L678.3 344.6L678.7 350.1L679.2 346.8L680.1 341.2L681.1 335.6L681.7 331.9L682.0 334.3L682.9 341.5L683.8 349.0L684.7 355.8L684.7 355.5L685.6 350.3L686.5 344.9L686.7 344.1L687.5 333.1L688.4 320.0L689.3 306.8L690.0 296.8L690.2 300.9L691.1 320.8L691.7 333.2L692.0 328.6L692.9 316.3L693.3 310.8L693.8 311.0L694.8 311.4L695.0 311.6L695.7 317.5L696.6 326.1L697.5 335.0L698.3 343.1L698.4 342.2L699.3 331.2L700.2 320.3L700.5 317.2L701.1 321.9L702.1 328.6L703.0 335.3L703.0 335.5L703.9 343.4L704.8 351.5L705.0 353.2L705.7 319.3L706.6 277.5L707.4 241.3L707.5 247.1L708.5 283.0L709.4 320.9L710.0 348.5L710.3 331.5L711.2 279.0L712.1 227.9L712.6 200.8L713.0 194.5L713.2 192.0L713.9 234.5L714.6 272.2L714.9 296.9L715.2 329.7L715.2 368.5Z" fill="#9cf23c"/>
<path d="M48.0 368.5L48.0 325.9L48.2 325.9L48.9 335.4L49.8 347.9L50.3 354.7L50.7 352.1L51.6 345.9L52.3 341.1L52.6 337.4L53.5 323.6L54.0 315.7L54.4 323.5L55.3 342.7L55.3 343.1L56.2 350.6L57.0 356.9L57.1 355.5L58.0 345.8L59.0 336.2L59.3 332.4L59.9 336.3L60.7 342.4L60.8 341.0L61.5 333.2L61.7 334.9L62.6 343.5L63.5 352.4L63.7 353.6L64.4 338.0L64.8 330.6L65.4 333.8L66.3 339.4L66.5 340.9L67.2 337.3L68.1 332.5L68.7 329.7L69.0 333.5L69.9 344.0L70.7 352.8L70.8 349.7L71.5 338.1L71.8 336.6L72.7 330.8L73.3 326.4L73.6 329.4L74.5 341.0L75.4 354.0L75.7 357.6L76.3 348.2L77.2 335.9L77.7 330.4L78.2 333.3L79.1 338.5L79.8 342.7L80.0 343.6L80.9 349.2L81.8 355.0L82.3 358.6L82.7 354.3L83.6 343.9L84.3 336.4L84.5 337.5L85.5 342.2L85.7 343.3L86.4 337.9L87.0 333.0L87.3 336.2L88.2 347.2L89.0 357.4L89.1 355.9L90.0 343.6L90.9 332.4L91.0 331.6L91.8 334.7L92.8 337.6L93.2 338.7L93.7 341.2L94.6 345.9L95.5 350.7L95.7 351.6L96.4 346.0L97.3 339.3L98.2 332.4L99.2 325.7L99.8 320.6L100.1 323.7L101.0 335.7L101.5 342.9L101.9 328.9L102.8 297.7L103.2 285.7L103.7 291.6L104.2 296.7L104.6 286.7L105.3 273.2L105.5 278.4L106.5 299.7L107.0 311.6L107.4 320.7L108.3 343.0L108.7 353.0L109.2 348.3L110.1 340.2L110.3 338.4L111.0 337.9L111.9 337.6L112.7 337.4L112.9 339.1L113.8 347.8L114.7 356.3L114.8 357.6L115.6 349.2L116.5 338.9L116.5 338.8L117.4 334.4L118.3 330.4L119.0 327.8L119.2 331.2L120.2 343.8L121.0 355.2L121.1 353.9L122.0 338.8L122.7 328.1L122.9 326.8L123.8 322.3L124.0 321.5L124.7 329.3L125.7 339.6L126.6 350.3L127.3 359.0L127.5 356.9L128.4 342.3L129.3 328.2L129.8 319.8L130.2 323.1L131.1 331.7L131.5 335.4L132.0 334.6L133.0 333.5L133.2 333.2L133.9 313.0L134.8 287.4L135.3 271.8L135.7 284.5L136.6 317.3L136.7 319.4L137.5 325.4L138.2 330.2L138.4 327.1L139.3 317.4L139.8 312.8L140.3 316.8L141.2 325.2L142.1 332.8L142.3 334.6L143.0 335.9L143.9 337.5L144.8 338.2L145.7 342.7L146.7 347.9L147.0 349.9L147.6 346.0L147.8 344.0L148.5 341.2L149.4 337.0L149.8 334.9L150.3 331.9L151.2 326.5L152.0 321.9L152.1 324.2L153.1 339.5L153.7 349.8L154.0 347.0L154.9 338.8L155.7 331.5L155.8 326.2L156.4 299.4L156.7 293.1L157.6 273.5L158.2 261.7L158.5 274.9L159.4 309.4L159.5 311.4L160.4 315.0L160.7 316.3L161.3 311.6L162.2 304.6L162.7 301.1L163.1 304.1L164.0 310.3L164.2 311.5L164.8 320.7L164.9 321.5L165.8 328.5L166.0 329.8L166.7 302.4L166.8 300.5L167.7 281.7L168.2 271.2L168.6 276.1L169.5 288.1L169.7 290.2L170.3 305.6L170.4 306.7L171.3 316.2L172.2 325.9L172.3 326.6L173.2 310.4L173.7 300.4L174.1 303.3L175.0 310.7L175.0 310.9L175.9 296.5L176.5 286.8L176.8 289.4L177.7 297.2L178.6 304.9L178.9 307.2L179.5 320.0L179.8 325.3L180.5 318.9L180.6 317.5L181.4 313.7L182.3 309.3L182.5 308.3L183.2 316.5L184.1 327.0L184.8 342.2L185.0 337.3L185.5 328.0L185.9 322.4L186.8 312.0L187.0 310.3L187.7 297.0L187.8 296.2L188.7 287.5L189.3 281.8L189.6 285.8L190.5 298.0L190.8 302.4L191.4 317.2L191.5 319.3L192.3 301.9L193.2 284.2L193.2 284.7L194.2 294.8L194.9 303.8L195.1 306.4L195.7 320.8L196.0 307.3L196.8 272.4L196.9 275.8L197.8 306.9L198.2 321.0L198.7 312.3L199.5 300.0L199.6 300.7L200.6 305.2L201.5 310.1L201.5 310.3L202.4 294.4L203.2 280.1L203.3 282.7L204.2 310.0L204.8 328.3L205.1 321.0L205.6 311.1L206.0 305.4L206.9 294.8L207.3 290.8L207.9 295.5L208.8 303.5L209.7 311.8L209.8 312.9L210.6 329.5L210.7 331.6L211.5 306.0L211.5 305.4L212.4 291.6L213.3 277.1L213.5 274.5L214.3 287.2L214.8 296.4L215.2 281.1L216.0 247.2L216.1 248.2L217.0 260.2L217.7 269.2L217.9 265.1L218.8 247.2L219.5 233.4L219.7 239.4L220.7 262.5L221.0 271.5L221.6 280.2L222.5 295.0L222.5 296.0L223.2 317.0L223.4 309.8L223.8 293.8L224.3 285.1L225.2 268.9L225.3 267.5L226.1 271.5L226.5 273.1L227.1 256.8L227.5 243.3L228.0 254.1L228.9 275.9L229.0 279.1L229.8 300.2L230.3 314.4L230.7 290.7L231.6 239.4L232.3 201.3L232.5 210.5L233.4 246.5L234.0 269.1L234.3 265.5L235.3 256.1L235.3 255.7L236.2 303.5L236.6 327.8L237.1 314.0L237.5 302.8L238.0 296.5L238.9 285.4L239.8 274.7L239.8 275.4L240.8 290.6L241.7 305.9L241.8 308.8L242.6 334.7L242.7 338.9L243.4 320.6L243.5 320.1L244.4 308.7L245.2 299.4L245.3 300.2L246.2 305.8L246.2 304.3L247.1 260.3L247.2 257.4L248.1 281.4L248.7 298.8L249.0 316.1L249.3 335.8L249.9 316.9L250.0 314.3L250.8 300.4L251.5 289.2L251.7 291.8L252.6 302.9L252.8 305.1L253.5 297.8L254.0 293.2L254.4 305.9L255.4 333.1L255.6 340.3L256.3 307.6L256.5 297.4L257.2 283.6L258.1 265.7L259.0 249.2L259.0 249.5L259.9 261.5L260.9 273.0L261.8 283.9L261.8 284.3L262.7 311.7L262.7 312.7L263.4 290.5L263.6 288.3L264.5 274.6L265.2 264.3L265.4 267.4L266.2 279.3L266.3 275.3L267.2 247.3L267.3 245.5L268.1 255.8L269.0 265.9L269.1 261.5L270.0 204.3L270.9 147.3L271.0 140.5L271.8 192.8L272.7 252.8L273.0 271.4L273.6 289.9L274.6 317.4L274.8 325.1L275.5 305.6L276.4 279.6L276.5 276.2L277.3 287.0L278.2 299.7L278.2 300.5L279.0 321.5L279.1 322.8L280.0 332.3L280.9 341.6L281.0 342.2L281.9 315.3L282.7 289.9L282.8 291.0L283.7 305.5L284.0 310.9L284.6 312.9L285.5 316.2L286.4 319.6L286.8 321.0L287.3 326.2L287.7 329.6L288.2 317.3L288.6 309.6L289.2 303.2L290.1 292.8L290.7 285.7L291.0 288.7L291.9 298.4L292.8 308.3L292.8 308.7L293.7 328.0L293.7 327.6L294.6 318.1L295.6 308.3L295.7 306.9L296.5 310.4L297.3 314.2L297.4 313.8L298.3 309.5L298.7 307.7L299.2 315.6L300.1 329.9L300.3 332.6L301.0 315.6L301.2 312.6L301.9 303.6L302.9 293.0L303.2 289.2L303.8 293.6L304.7 300.5L304.7 300.8L305.3 310.4L305.6 315.0L306.5 328.5L307.3 340.1L307.4 337.3L308.4 317.1L309.0 303.2L309.3 306.2L310.2 317.1L310.7 323.4L311.1 323.8L312.0 324.8L312.9 334.0L313.7 341.9L313.8 340.2L314.5 330.8L314.7 329.5L315.7 323.2L316.5 317.4L316.6 317.7L317.5 320.8L318.2 323.3L318.4 324.6L319.3 330.8L319.7 333.3L320.2 340.6L320.3 341.7L321.1 328.3L321.1 327.5L322.1 319.1L322.8 312.3L323.0 313.7L323.9 322.1L324.0 323.2L324.8 332.0L325.7 342.1L326.0 345.5L326.6 330.0L326.7 329.0L327.5 317.6L328.2 309.1L328.4 307.1L329.4 299.9L329.8 296.5L330.3 276.4L331.2 237.4L331.2 236.9L332.1 265.6L332.5 278.5L333.0 290.1L333.7 306.0L333.9 300.7L334.8 279.9L335.7 260.9L335.8 261.4L336.7 270.3L337.0 273.4L337.6 264.4L338.5 249.8L338.5 249.7L339.4 255.9L340.0 260.4L340.3 264.4L340.7 270.0L341.2 264.2L342.1 254.6L342.3 253.1L343.1 268.4L344.0 286.5L344.2 290.8L344.9 317.2L345.0 321.5L345.8 291.7L346.5 266.4L346.7 269.6L347.6 284.0L347.8 286.7L348.5 270.5L349.4 251.2L349.5 250.2L350.4 270.6L351.0 286.1L351.3 296.6L351.7 315.7L352.2 302.1L352.4 297.1L353.1 286.9L354.0 274.2L354.0 274.4L354.9 283.6L355.0 284.3L355.9 251.7L356.0 246.1L356.8 271.0L357.7 301.2L358.0 311.9L358.6 297.2L358.8 293.3L359.5 283.7L360.4 271.6L360.5 270.6L361.2 246.5L361.3 245.1L362.2 230.2L363.0 218.5L363.2 227.2L364.1 276.8L364.6 305.7L365.0 296.2L365.5 283.2L365.9 278.4L366.8 267.0L367.7 255.4L367.8 254.4L368.6 265.5L369.6 278.1L370.1 285.9L370.5 296.9L371.0 312.9L371.4 306.3L371.9 297.6L372.3 294.1L373.2 285.9L374.0 278.6L374.1 279.4L375.0 285.4L375.1 285.9L375.9 273.5L376.2 270.0L376.9 300.1L377.6 335.4L377.8 330.0L378.3 314.4L378.7 307.3L379.6 293.1L379.8 289.9L380.5 278.9L381.0 271.3L381.4 254.5L382.3 220.8L382.3 221.5L383.2 239.2L383.7 248.1L384.2 234.1L385.0 209.8L385.1 206.9L386.0 172.8L386.2 165.3L386.9 185.6L387.6 205.3L387.8 200.4L388.7 179.7L389.0 173.9L389.6 199.0L390.4 228.9L390.6 226.8L391.5 215.5L391.7 212.9L392.4 238.3L393.0 260.4L393.3 270.7L394.0 292.3L394.2 297.1L394.8 309.7L395.1 316.6L396.0 336.3L396.5 345.3L397.0 341.6L397.9 334.6L398.7 328.9L398.8 328.3L399.7 323.3L400.6 317.7L400.7 317.4L401.5 330.9L402.4 345.8L402.7 349.5L403.4 340.4L404.3 328.3L404.5 325.2L405.2 330.0L406.1 336.4L406.5 339.2L407.0 342.9L407.9 349.2L408.8 355.6L409.0 356.8L409.8 347.7L410.7 336.6L411.5 326.9L411.6 327.2L412.5 331.7L412.7 332.5L413.4 330.0L414.3 326.6L414.5 325.8L415.2 338.1L416.0 351.1L416.1 349.6L417.1 339.5L418.0 329.5L418.9 320.2L419.0 319.0L419.8 323.4L420.7 328.1L421.0 329.5L421.6 336.5L422.5 346.7L422.7 348.2L423.4 340.9L424.0 335.7L424.4 325.9L425.3 301.4L425.7 291.6L426.2 301.4L427.1 318.4L427.2 319.7L428.0 339.9L428.7 354.9L428.9 351.5L429.8 339.2L430.3 332.4L430.8 331.6L431.7 330.1L432.0 329.6L432.6 331.9L433.2 334.3L433.5 336.6L434.4 342.5L434.8 345.1L435.3 341.8L436.2 335.2L436.5 333.3L437.1 330.5L438.1 326.7L438.2 326.3L439.0 331.5L439.8 337.4L439.9 337.9L440.8 345.4L441.7 352.7L442.0 354.9L442.6 349.9L443.6 342.5L443.7 341.5L444.5 340.3L445.3 339.0L445.4 339.3L446.3 346.8L447.2 354.3L447.7 358.1L448.1 355.4L449.0 349.7L449.9 343.9L450.9 337.9L451.2 335.7L451.8 340.3L452.7 347.7L453.6 355.4L453.7 356.0L454.5 347.3L455.3 339.1L455.4 339.2L456.3 340.1L456.5 340.3L457.2 335.7L457.8 331.9L458.2 332.6L459.1 334.9L459.3 335.6L460.0 343.8L460.7 352.3L460.9 347.0L461.8 326.6L462.3 315.9L462.7 318.3L463.6 323.1L464.0 324.9L464.6 332.1L465.5 344.1L465.7 346.7L466.4 334.5L466.8 327.0L467.3 332.5L468.2 343.3L468.7 348.6L469.1 345.9L469.8 341.5L470.0 341.3L470.9 340.2L471.9 338.9L472.0 338.7L472.8 344.2L473.7 351.2L474.0 353.7L474.6 340.5L475.5 321.4L476.0 311.9L476.4 304.9L477.0 295.5L477.3 301.8L478.2 317.0L478.3 316.8L479.0 315.0L479.2 318.5L480.1 338.3L480.3 343.7L481.0 339.1L481.9 333.4L482.3 330.9L482.8 333.7L483.7 337.9L483.7 336.6L484.6 320.1L485.0 313.5L485.6 327.6L486.5 351.5L486.5 352.0L487.4 344.3L488.2 337.8L488.3 338.6L489.2 344.1L489.5 345.7L490.1 332.0L490.7 320.6L491.1 326.8L492.0 341.5L492.8 356.4L492.9 356.0L493.8 344.9L494.5 336.4L494.7 337.2L495.6 341.1L495.7 341.2L496.5 326.6L497.0 319.1L497.4 326.3L498.4 340.8L499.3 355.1L499.3 356.0L500.2 350.1L501.1 343.6L501.2 343.1L502.0 341.8L502.9 340.8L503.2 340.6L503.8 345.3L504.0 346.4L504.8 352.0L505.3 356.2L505.7 352.7L506.6 342.5L507.0 337.8L507.5 339.4L508.4 342.8L508.7 343.9L509.3 345.0L509.8 345.9L510.2 348.2L511.1 353.3L512.0 358.0L512.1 357.2L513.0 345.8L513.9 334.3L514.5 326.3L514.8 327.7L515.7 332.4L516.5 337.0L516.6 338.4L517.5 348.0L518.5 357.3L518.7 359.5L519.4 349.8L520.3 337.4L520.7 332.0L521.2 334.5L522.1 339.3L522.7 342.6L523.0 345.2L523.9 352.2L524.8 359.3L524.9 359.1L525.8 348.3L526.5 339.7L526.7 341.0L527.6 347.8L527.7 348.3L528.5 324.3L529.3 300.3L529.4 301.9L530.3 323.0L531.2 344.3L531.5 350.4L532.1 347.6L533.1 343.7L534.0 339.5L534.3 337.8L534.9 340.9L535.7 345.2L535.8 346.3L536.7 353.4L537.6 361.1L537.7 361.3L538.5 345.9L539.5 331.5L539.8 325.7L540.4 328.3L541.3 332.2L542.0 335.1L542.2 337.0L543.1 346.2L544.0 355.9L544.0 355.8L544.9 353.0L545.9 350.4L546.8 348.1L547.3 346.5L547.7 348.9L548.6 355.0L549.5 361.5L549.8 364.0L550.4 358.8L551.3 351.3L552.2 344.8L552.7 342.0L553.2 345.3L554.1 350.6L554.8 354.8L555.0 355.4L555.9 359.1L556.8 363.2L557.0 364.0L557.7 356.7L558.6 348.0L558.7 347.9L559.6 350.1L560.5 352.2L560.7 352.7L561.4 356.7L562.3 361.9L562.7 364.1L563.2 361.8L564.1 357.9L564.8 355.1L565.0 354.3L566.0 351.4L566.9 348.9L567.3 347.7L567.8 351.5L568.7 358.9L569.3 364.3L569.6 360.0L570.5 346.4L571.0 339.1L571.4 343.9L572.4 354.4L572.7 358.1L573.3 355.9L574.2 352.6L574.8 350.2L575.1 351.6L576.0 356.6L576.5 359.4L576.9 357.6L577.8 353.7L578.2 352.2L578.7 350.9L579.5 349.3L579.7 350.2L580.6 355.4L581.5 360.4L582.3 365.0L582.4 363.3L583.3 342.6L584.0 327.0L584.2 330.2L585.1 344.7L585.7 353.5L586.0 350.1L587.0 342.6L587.3 339.9L587.9 347.9L588.7 359.0L588.8 356.3L589.7 336.7L590.6 316.0L590.7 314.9L591.5 324.8L592.5 337.5L592.7 340.8L593.4 346.9L594.3 355.2L594.8 360.2L595.2 357.8L596.1 351.6L596.5 348.8L597.0 346.9L597.9 343.0L598.8 339.2L599.0 338.5L599.8 339.5L600.0 339.9L600.7 346.5L601.6 355.2L602.0 359.0L602.5 357.1L603.4 353.3L603.7 352.1L604.3 343.0L605.2 329.2L605.8 320.0L606.1 324.4L607.1 338.6L608.0 353.9L608.0 354.2L608.9 349.7L609.8 345.1L610.7 339.8L611.3 335.8L611.6 337.4L612.5 343.2L613.5 350.0L614.2 355.7L614.4 353.9L615.3 346.4L616.2 339.7L616.7 336.5L617.1 337.6L618.0 339.0L618.7 339.6L618.9 341.7L619.9 349.4L620.8 357.8L620.8 358.5L621.7 353.3L622.6 348.3L623.3 344.4L623.5 345.3L624.4 349.9L625.0 352.6L625.3 350.0L626.2 342.5L626.7 339.0L627.2 341.5L628.0 346.4L628.1 345.1L629.0 328.9L629.7 318.1L629.9 320.6L630.8 329.5L631.7 337.5L632.5 344.0L632.6 342.1L633.5 329.9L634.5 318.1L635.0 312.1L635.4 316.1L636.3 325.8L637.2 334.7L637.5 337.2L638.1 340.5L639.0 344.6L640.0 348.7L640.0 348.9L640.9 343.6L641.8 338.3L642.7 333.6L643.3 330.9L643.6 332.8L644.5 339.3L645.4 345.0L646.3 350.5L646.3 350.4L647.3 345.4L648.2 340.4L648.8 337.3L649.1 337.1L650.0 336.7L650.9 336.8L651.3 336.8L651.8 341.7L652.7 350.1L653.3 355.5L653.6 348.9L654.6 329.5L655.5 310.2L655.8 303.3L656.4 319.5L657.0 337.2L657.3 336.0L658.2 332.0L658.3 331.4L659.1 340.8L660.0 351.5L660.3 355.2L661.0 337.9L661.9 311.9L662.5 294.1L662.8 297.5L663.5 306.5L663.7 305.6L664.5 302.7L664.6 306.2L665.5 333.7L665.5 334.1L666.4 347.5L666.7 350.8L667.4 345.7L668.3 338.4L668.7 335.3L669.2 334.4L670.1 333.6L670.8 333.7L671.0 336.4L671.9 349.9L672.5 358.0L672.8 350.9L673.8 331.2L673.8 329.4L674.7 334.6L675.6 341.2L675.8 343.3L676.5 338.0L677.2 333.0L677.4 336.1L678.3 348.2L678.7 352.8L679.2 350.3L680.1 346.0L681.1 341.0L681.7 337.4L682.0 339.1L682.9 344.6L683.8 350.9L684.7 357.1L684.7 356.9L685.6 352.8L686.5 348.9L686.7 348.4L687.5 339.9L688.4 329.1L689.3 317.2L690.0 308.0L690.2 311.3L691.1 327.9L691.7 338.6L692.0 335.1L692.9 326.5L693.3 322.7L693.8 323.1L694.8 322.7L695.0 322.5L695.7 326.0L696.6 331.9L697.5 338.9L698.3 346.0L698.4 345.2L699.3 336.4L700.2 328.5L700.5 326.3L701.1 330.3L702.1 335.2L703.0 340.0L703.0 340.1L703.9 346.3L704.8 353.4L705.0 354.9L705.7 326.8L706.6 295.8L707.4 271.1L707.5 275.7L708.5 302.3L709.4 329.8L710.0 351.4L710.3 337.1L711.2 292.4L712.1 249.7L712.6 228.5L713.0 225.0L713.2 223.7L713.9 260.3L714.6 291.0L714.9 310.5L715.2 336.4L715.2 368.5Z" fill="#1aa6f5"/>
<path d="M48.0 368.5L48.0 334.5L48.2 334.5L48.9 341.5L49.8 351.4L50.3 357.0L50.7 354.8L51.6 349.8L52.3 346.0L52.6 343.2L53.5 332.8L54.0 326.8L54.4 332.6L55.3 347.1L55.3 347.5L56.2 353.3L57.0 358.5L57.1 357.3L58.0 348.9L59.0 341.3L59.3 338.4L59.9 341.8L60.7 347.0L60.8 345.8L61.5 339.7L61.7 341.0L62.6 347.7L63.5 354.9L63.7 356.0L64.4 342.9L64.8 337.1L65.4 339.9L66.3 344.7L66.5 345.9L67.2 343.3L68.1 339.8L68.7 337.5L69.0 340.2L69.9 348.2L70.7 355.3L70.8 352.7L71.5 342.7L71.8 341.5L72.7 337.1L73.3 333.8L73.6 336.3L74.5 345.7L75.4 356.5L75.7 359.4L76.3 351.5L77.2 340.8L77.7 336.2L78.2 338.6L79.1 343.0L79.8 346.9L80.0 347.7L80.9 352.7L81.8 357.6L82.3 360.4L82.7 357.0L83.6 348.3L84.3 342.0L84.5 342.8L85.5 346.5L85.7 347.4L86.4 343.0L87.0 339.4L87.3 342.0L88.2 351.1L89.0 359.4L89.1 358.2L90.0 347.8L90.9 338.2L91.0 337.5L91.8 339.6L92.8 341.9L93.2 343.0L93.7 345.2L94.6 349.6L95.5 353.8L95.7 354.6L96.4 350.0L97.3 344.4L98.2 338.6L99.2 333.2L99.8 329.4L100.1 331.9L101.0 341.6L101.5 347.6L101.9 336.8L102.8 313.8L103.2 304.9L103.7 308.8L104.2 312.0L104.6 303.8L105.3 292.3L105.5 295.9L106.5 311.8L107.0 321.3L107.4 328.7L108.3 347.0L108.7 355.5L109.2 351.7L110.1 344.9L110.3 343.5L111.0 342.9L111.9 342.3L112.7 342.0L112.9 343.4L113.8 350.8L114.7 358.3L114.8 359.4L115.6 352.6L116.5 344.4L116.5 344.4L117.4 341.0L118.3 337.6L119.0 335.3L119.2 337.8L120.2 347.7L121.0 357.3L121.1 356.2L122.0 343.8L122.7 335.6L122.9 334.7L123.8 331.2L124.0 330.5L124.7 336.3L125.7 344.0L126.6 352.8L127.3 360.3L127.5 358.5L128.4 346.1L129.3 335.2L129.8 329.1L130.2 331.9L131.1 338.6L131.5 341.4L132.0 340.7L133.0 339.6L133.2 339.3L133.9 323.3L134.8 303.9L135.3 292.7L135.7 302.6L136.6 327.8L136.7 329.4L137.5 334.0L138.2 337.6L138.4 335.2L139.3 327.1L139.8 322.9L140.3 325.7L141.2 331.9L142.1 338.1L142.3 339.7L143.0 341.0L143.9 342.7L144.8 342.7L145.7 345.9L146.7 349.9L147.0 351.6L147.6 347.8L147.8 345.8L148.5 343.0L149.4 338.8L149.8 336.7L150.3 333.8L151.2 328.8L152.0 324.6L152.1 326.8L153.1 341.0L153.7 350.7L154.0 348.1L154.9 340.1L155.7 333.1L155.8 328.1L156.4 302.9L156.7 297.3L157.6 279.8L158.2 269.5L158.5 281.2L159.4 312.3L159.5 314.2L160.4 317.4L160.7 318.5L161.3 313.8L162.2 307.3L162.7 304.0L163.1 306.9L164.0 313.1L164.2 314.3L164.8 323.2L164.9 324.0L165.8 330.7L166.0 331.9L166.7 306.2L166.8 304.5L167.7 287.2L168.2 277.5L168.6 281.9L169.5 292.6L169.7 294.7L170.3 308.8L170.4 309.8L171.3 318.9L172.2 328.3L172.3 328.9L173.2 313.5L173.7 304.2L174.1 306.6L175.0 313.2L175.0 313.4L175.9 299.7L176.5 290.7L176.8 293.2L177.7 300.8L178.6 308.1L178.9 310.2L179.5 322.5L179.8 327.5L180.5 321.4L180.6 320.0L181.4 316.3L182.3 311.9L182.5 310.9L183.2 318.8L184.1 328.9L184.8 343.6L185.0 338.9L185.5 330.1L185.9 325.0L186.8 315.1L187.0 313.5L187.7 301.3L187.8 300.5L188.7 292.2L189.3 286.7L189.6 290.2L190.5 301.4L190.8 305.4L191.4 319.5L191.5 321.5L192.3 305.3L193.2 289.4L193.2 289.9L194.2 298.9L194.9 306.9L195.1 309.3L195.7 322.8L196.0 309.9L196.8 277.5L196.9 280.7L197.8 309.5L198.2 323.1L198.7 315.0L199.5 303.9L199.6 304.5L200.6 308.8L201.5 313.2L201.5 313.4L202.4 298.7L203.2 285.4L203.3 287.8L204.2 312.7L204.8 330.2L205.1 323.3L205.6 313.9L206.0 308.7L206.9 299.2L207.3 295.6L207.9 299.8L208.8 306.8L209.7 314.2L209.8 315.2L210.6 331.0L210.7 333.0L211.5 308.4L211.5 307.9L212.4 295.4L213.3 282.8L213.5 280.5L214.3 292.2L214.8 300.6L215.2 286.7L216.0 256.0L216.1 256.9L217.0 267.1L217.7 275.2L217.9 271.5L218.8 255.7L219.5 244.1L219.7 249.6L220.7 270.5L221.0 278.6L221.6 286.4L222.5 299.3L222.5 300.2L223.2 319.5L223.4 312.5L223.8 297.7L224.3 289.5L225.2 274.4L225.3 273.1L226.1 277.0L226.5 278.7L227.1 264.2L227.5 252.5L228.0 262.2L228.9 281.7L229.0 284.6L229.8 303.6L230.3 316.7L230.7 294.6L231.6 247.4L232.3 213.4L232.5 221.9L233.4 255.2L234.0 275.8L234.3 272.9L235.3 264.9L235.3 264.6L236.2 307.2L236.6 329.9L237.1 316.8L237.5 306.2L238.0 300.2L238.9 289.9L239.8 280.3L239.8 280.9L240.8 295.0L241.7 309.1L241.8 311.8L242.6 336.4L242.7 340.3L243.4 322.8L243.5 322.3L244.4 311.2L245.2 302.3L245.3 303.0L246.2 308.2L246.2 306.8L247.1 266.8L247.2 264.2L248.1 286.6L248.7 302.6L249.0 318.7L249.3 337.4L249.9 319.5L250.0 317.0L250.8 304.0L251.5 293.6L251.7 295.9L252.6 306.0L252.8 308.0L253.5 301.4L254.0 297.3L254.4 309.0L255.4 334.9L255.6 341.8L256.3 310.8L256.5 301.6L257.2 289.0L258.1 272.3L259.0 256.6L259.0 256.8L259.9 267.4L260.9 278.1L261.8 288.5L261.8 289.0L262.7 314.4L262.7 315.3L263.4 295.0L263.6 293.0L264.5 280.3L265.2 270.6L265.4 273.4L266.2 284.0L266.3 280.3L267.2 255.0L267.3 253.4L268.1 263.4L269.0 273.1L269.1 269.2L270.0 219.5L270.9 170.1L271.0 164.1L271.8 208.3L272.7 260.5L273.0 277.2L273.6 293.9L274.6 319.6L274.8 327.0L275.5 308.5L276.4 285.1L276.5 282.1L277.3 291.8L278.2 303.2L278.2 303.8L279.0 323.5L279.1 324.6L280.0 333.6L280.9 342.6L281.0 343.2L281.9 317.4L282.7 294.2L282.8 295.2L283.7 308.7L284.0 313.8L284.6 315.8L285.5 318.8L286.4 321.8L286.8 323.2L287.3 328.0L287.7 331.3L288.2 319.6L288.6 312.2L289.2 306.4L290.1 297.2L290.7 291.0L291.0 293.7L291.9 302.2L292.8 311.0L292.8 311.4L293.7 329.6L293.7 329.3L294.6 319.9L295.6 310.6L295.7 309.3L296.5 312.9L297.3 316.7L297.4 316.3L298.3 312.3L298.7 310.6L299.2 318.0L300.1 331.6L300.3 334.1L301.0 317.8L301.2 314.9L301.9 306.4L302.9 297.0L303.2 293.6L303.8 297.9L304.7 304.3L304.7 304.6L305.3 313.5L305.6 317.8L306.5 330.4L307.3 341.4L307.4 338.7L308.4 319.2L309.0 305.9L309.3 308.7L310.2 319.2L310.7 325.4L311.1 325.8L312.0 326.8L312.9 335.6L313.7 343.0L313.8 341.3L314.5 332.3L314.7 330.9L315.7 324.9L316.5 319.4L316.6 319.7L317.5 323.0L318.2 325.5L318.4 326.8L319.3 332.7L319.7 335.1L320.2 342.0L320.3 343.0L321.1 330.2L321.1 329.4L322.1 321.2L322.8 314.6L323.0 316.1L323.9 324.2L324.0 325.3L324.8 333.7L325.7 343.4L326.0 346.6L326.6 331.8L326.7 330.9L327.5 319.9L328.2 311.5L328.4 309.5L329.4 302.6L329.8 299.4L330.3 280.9L331.2 245.9L331.2 245.6L332.1 272.1L332.5 284.0L333.0 294.5L333.7 309.0L333.9 304.1L334.8 285.0L335.7 267.3L335.8 267.8L336.7 275.8L337.0 278.7L337.6 270.8L338.5 258.5L338.5 258.3L339.4 264.3L340.0 268.3L340.3 271.9L340.7 276.8L341.2 271.3L342.1 262.0L342.3 260.5L343.1 273.9L344.0 290.3L344.2 294.3L344.9 319.2L345.0 323.4L345.8 295.7L346.5 272.9L346.7 275.8L347.6 288.8L347.8 291.2L348.5 276.2L349.4 258.1L349.5 257.1L350.4 275.6L351.0 290.0L351.3 299.8L351.7 317.9L352.2 305.2L352.4 300.7L353.1 291.8L354.0 280.6L354.0 280.7L354.9 288.9L355.0 289.4L355.9 259.8L356.0 254.7L356.8 276.7L357.7 304.1L358.0 314.2L358.6 300.6L358.8 297.1L359.5 288.5L360.4 277.9L360.5 277.0L361.2 255.3L361.3 254.1L362.2 240.1L363.0 228.6L363.2 236.3L364.1 281.1L364.6 307.9L365.0 299.1L365.5 287.3L365.9 283.1L366.8 273.4L367.7 263.4L367.8 262.5L368.6 272.4L369.6 283.4L370.1 290.3L370.5 300.2L371.0 315.1L371.4 308.8L371.9 300.9L372.3 297.8L373.2 290.6L374.0 284.3L374.1 285.1L375.0 290.5L375.1 290.9L375.9 279.5L376.2 276.2L376.9 303.3L377.6 336.7L377.8 331.4L378.3 316.3L378.7 309.5L379.6 296.4L379.8 293.6L380.5 283.9L381.0 277.1L381.4 262.2L382.3 232.1L382.3 232.8L383.2 248.0L383.7 255.7L384.2 242.6L385.0 220.3L385.1 217.6L386.0 187.7L386.2 181.3L386.9 200.6L387.6 219.0L387.8 214.9L388.7 197.5L389.0 192.4L389.6 213.9L390.4 239.6L390.6 237.6L391.5 226.5L391.7 224.0L392.4 246.5L393.0 266.7L393.3 276.8L394.0 297.4L394.2 302.3L394.8 315.3L395.1 322.0L396.0 340.6L396.5 348.3L397.0 345.0L397.9 338.5L398.7 333.0L398.8 332.4L399.7 327.8L400.6 323.3L400.7 323.1L401.5 335.6L402.4 348.9L402.7 352.1L403.4 344.3L404.3 333.7L404.5 330.9L405.2 334.7L406.1 340.1L406.5 342.6L407.0 345.9L407.9 351.7L408.8 357.3L409.0 358.4L409.8 350.6L410.7 341.1L411.5 332.3L411.6 332.5L412.5 335.8L412.7 336.5L413.4 334.0L414.3 331.1L414.5 330.5L415.2 341.7L416.0 353.3L416.1 352.0L417.1 343.4L418.0 334.7L418.9 326.1L419.0 325.0L419.8 328.5L420.7 332.8L421.0 334.1L421.6 340.5L422.5 349.6L422.7 351.0L423.4 344.9L424.0 340.5L424.4 332.3L425.3 311.3L425.7 302.6L426.2 310.4L427.1 324.5L427.2 325.6L428.0 343.1L428.7 356.4L428.9 353.4L429.8 343.1L430.3 337.5L430.8 336.8L431.7 335.3L432.0 334.7L432.6 336.3L433.2 338.1L433.5 340.0L434.4 345.2L434.8 347.5L435.3 344.8L436.2 339.6L436.5 338.0L437.1 336.0L438.1 333.0L438.2 332.7L439.0 336.8L439.8 341.4L439.9 341.8L440.8 348.1L441.7 354.4L442.0 356.4L442.6 352.1L443.6 346.0L443.7 345.3L444.5 344.3L445.3 343.2L445.4 343.4L446.3 349.5L447.2 355.7L447.7 359.0L448.1 356.5L449.0 351.5L449.9 346.8L450.9 342.0L451.2 340.3L451.8 344.2L452.7 350.3L453.6 356.8L453.7 357.3L454.5 349.7L455.3 342.6L455.4 342.6L456.3 343.7L456.5 343.9L457.2 340.4L457.8 337.5L458.2 338.2L459.1 340.1L459.3 340.6L460.0 347.2L460.7 354.2L460.9 349.5L461.8 331.8L462.3 322.5L462.7 324.6L463.6 329.2L464.0 330.9L464.6 337.2L465.5 347.4L465.7 349.6L466.4 339.3L466.8 332.8L467.3 337.1L468.2 346.0L468.7 350.6L469.1 348.1L469.8 344.5L470.0 344.4L470.9 343.9L471.9 343.2L472.0 343.1L472.8 347.7L473.7 353.4L474.0 355.5L474.6 344.3L475.5 327.9L476.0 319.9L476.4 314.1L477.0 306.6L477.3 312.1L478.2 325.1L478.3 325.0L479.0 324.0L479.2 326.8L480.1 342.7L480.3 347.1L481.0 343.0L481.9 337.6L482.3 335.3L482.8 337.5L483.7 341.2L483.7 340.2L484.6 326.8L485.0 321.8L485.6 333.7L486.5 353.6L486.5 354.1L487.4 347.6L488.2 342.0L488.3 342.6L489.2 346.9L489.5 348.3L490.1 336.7L490.7 327.4L491.1 332.7L492.0 345.2L492.8 357.8L492.9 357.4L493.8 348.3L494.5 341.2L494.7 341.8L495.6 344.5L495.7 344.6L496.5 331.8L497.0 325.3L497.4 331.5L498.4 344.1L499.3 356.5L499.3 357.3L500.2 352.4L501.1 346.9L501.2 346.5L502.0 345.2L502.9 344.0L503.2 343.7L503.8 347.7L504.0 348.7L504.8 353.6L505.3 357.4L505.7 354.4L506.6 346.3L507.0 342.5L507.5 343.9L508.4 346.4L508.7 347.2L509.3 347.9L509.8 348.6L510.2 350.4L511.1 354.7L512.0 358.9L512.1 358.2L513.0 348.6L513.9 339.4L514.5 333.0L514.8 334.0L515.7 337.4L516.5 340.7L516.6 341.8L517.5 349.9L518.5 358.2L518.7 360.1L519.4 351.8L520.3 341.9L520.7 337.6L521.2 339.8L522.1 343.5L522.7 346.1L523.0 348.1L523.9 353.9L524.8 360.0L524.9 359.8L525.8 350.5L526.5 343.6L526.7 344.7L527.6 350.6L527.7 351.0L528.5 331.5L529.3 311.7L529.4 312.9L530.3 329.0L531.2 346.7L531.5 352.0L532.1 349.5L533.1 346.4L534.0 343.4L534.3 342.1L534.9 344.8L535.7 348.4L535.8 349.2L536.7 355.0L537.6 361.6L537.7 361.8L538.5 348.3L539.5 336.3L539.8 331.8L540.4 334.4L541.3 338.1L542.0 340.6L542.2 342.1L543.1 349.3L544.0 357.2L544.0 357.1L544.9 354.5L545.9 352.2L546.8 350.3L547.3 349.2L547.7 351.2L548.6 356.6L549.5 362.1L549.8 364.2L550.4 359.7L551.3 353.1L552.2 347.2L552.7 344.8L553.2 347.7L554.1 352.6L554.8 356.4L555.0 356.9L555.9 360.2L556.8 363.6L557.0 364.4L557.7 358.0L558.6 350.5L558.7 350.4L559.6 352.1L560.5 354.0L560.7 354.4L561.4 358.0L562.3 362.5L562.7 364.4L563.2 362.4L564.1 359.1L564.8 356.5L565.0 355.8L566.0 353.1L566.9 350.8L567.3 349.9L567.8 353.3L568.7 359.9L569.3 364.6L569.6 360.9L570.5 349.7L571.0 343.7L571.4 347.4L572.4 355.9L572.7 359.1L573.3 357.1L574.2 354.4L574.8 352.5L575.1 353.8L576.0 358.1L576.5 360.5L576.9 359.1L577.8 355.8L578.2 354.5L578.7 353.2L579.5 351.6L579.7 352.4L580.6 356.7L581.5 361.1L582.3 365.2L582.4 363.8L583.3 346.7L584.0 334.3L584.2 336.8L585.1 348.2L585.7 355.3L586.0 352.3L587.0 345.6L587.3 343.3L587.9 350.3L588.7 359.9L588.8 357.7L589.7 342.1L590.6 326.7L590.7 325.9L591.5 333.2L592.5 342.6L592.7 345.1L593.4 349.8L594.3 356.7L594.8 361.0L595.2 358.9L596.1 353.9L596.5 351.7L597.0 350.3L597.9 347.3L598.8 343.9L599.0 343.3L599.8 343.6L600.0 343.8L600.7 349.1L601.6 356.5L602.0 359.9L602.5 358.2L603.4 355.3L603.7 354.5L604.3 347.4L605.2 336.7L605.8 329.2L606.1 332.4L607.1 343.2L608.0 355.6L608.0 355.9L608.9 352.1L609.8 348.6L610.7 344.9L611.3 341.9L611.6 343.3L612.5 347.6L613.5 352.7L614.2 357.2L614.4 355.7L615.3 349.0L616.2 343.4L616.7 341.0L617.1 342.2L618.0 344.0L618.7 344.7L618.9 346.4L619.9 352.3L620.8 359.1L620.8 359.7L621.7 355.1L622.6 350.8L623.3 347.8L623.5 348.6L624.4 352.8L625.0 355.2L625.3 353.2L626.2 347.3L626.7 344.4L627.2 346.1L628.0 349.7L628.1 348.6L629.0 334.8L629.7 325.8L629.9 327.9L630.8 335.8L631.7 342.9L632.5 348.2L632.6 346.8L633.5 336.9L634.5 326.5L635.0 321.0L635.4 323.8L636.3 331.5L637.2 339.4L637.5 341.7L638.1 345.0L639.0 348.9L640.0 352.2L640.0 352.4L640.9 348.0L641.8 343.3L642.7 339.0L643.3 336.6L643.6 338.3L644.5 344.0L645.4 349.0L646.3 353.6L646.3 353.6L647.3 349.5L648.2 345.1L648.8 342.1L649.1 341.7L650.0 340.9L650.9 341.0L651.3 341.2L651.8 345.6L652.7 353.0L653.3 357.5L653.6 352.2L654.6 336.9L655.5 320.9L655.8 315.0L656.4 327.4L657.0 341.7L657.3 340.7L658.2 337.9L658.3 337.6L659.1 345.7L660.0 354.5L660.3 357.4L661.0 344.0L661.9 323.6L662.5 308.9L662.8 311.0L663.5 317.0L663.7 316.1L664.5 313.4L664.6 316.3L665.5 339.2L665.5 339.6L666.4 350.9L666.7 353.6L667.4 349.7L668.3 343.9L668.7 341.3L669.2 340.2L670.1 338.9L670.8 338.5L671.0 340.8L671.9 352.3L672.5 359.3L672.8 353.5L673.8 338.7L673.8 337.5L674.7 341.7L675.6 346.4L675.8 348.0L676.5 343.5L677.2 339.0L677.4 341.3L678.3 351.0L678.7 354.9L679.2 352.9L680.1 349.8L681.1 346.3L681.7 343.6L682.0 344.8L682.9 348.7L683.8 353.4L684.7 358.3L684.7 358.2L685.6 354.6L686.5 351.6L686.7 351.2L687.5 345.0L688.4 337.3L689.3 328.2L690.0 320.5L690.2 322.8L691.1 334.8L691.7 343.2L692.0 340.3L692.9 333.8L693.3 331.1L693.8 332.1L694.8 332.8L695.0 332.8L695.7 335.4L696.6 339.3L697.5 344.0L698.3 349.3L698.4 348.6L699.3 341.1L700.2 335.0L700.5 333.4L701.1 337.3L702.1 341.7L703.0 345.4L703.0 345.5L703.9 350.1L704.8 355.4L705.0 356.6L705.7 333.2L706.6 308.5L707.4 291.2L707.5 295.2L708.5 317.6L709.4 338.4L710.0 354.6L710.3 343.7L711.2 309.2L712.1 274.7L712.6 257.3L713.0 254.1L713.2 253.1L713.9 282.2L714.6 307.0L714.9 322.3L715.2 342.5L715.2 368.5Z" fill="#f8a952"/>
<path d="M48.0 368.5L48.0 336.6L48.2 336.6L48.9 343.2L49.8 352.4L50.3 357.7L50.7 355.5L51.6 350.7L52.3 347.0L52.6 344.3L53.5 334.7L54.0 329.4L54.4 334.8L55.3 348.4L55.3 348.8L56.2 354.3L57.0 359.1L57.1 357.9L58.0 349.8L59.0 342.4L59.3 339.6L59.9 342.8L60.7 347.8L60.8 346.8L61.5 341.1L61.7 342.4L62.6 348.8L63.5 355.7L63.7 356.7L64.4 344.3L64.8 338.8L65.4 341.2L66.3 345.6L66.5 346.9L67.2 344.5L68.1 341.3L68.7 339.5L69.0 342.1L69.9 349.6L70.7 356.2L70.8 353.7L71.5 344.3L71.8 343.0L72.7 338.6L73.3 335.5L73.6 337.8L74.5 346.7L75.4 357.1L75.7 359.9L76.3 352.4L77.2 342.5L77.7 338.2L78.2 340.2L79.1 344.1L79.8 347.7L80.0 348.4L80.9 353.3L81.8 358.1L82.3 360.9L82.7 357.6L83.6 349.6L84.3 343.7L84.5 344.4L85.5 347.7L85.7 348.6L86.4 344.3L87.0 340.8L87.3 343.2L88.2 351.9L89.0 359.9L89.1 358.7L90.0 349.1L90.9 340.2L91.0 339.6L91.8 341.3L92.8 343.2L93.2 344.1L93.7 346.1L94.6 350.3L95.5 354.4L95.7 355.1L96.4 350.9L97.3 345.7L98.2 340.4L99.2 335.3L99.8 331.6L100.1 333.8L101.0 342.8L101.5 348.5L101.9 338.3L102.8 317.3L103.2 309.4L103.7 313.3L104.2 316.5L104.6 309.3L105.3 299.0L105.5 302.1L106.5 315.8L107.0 324.1L107.4 330.8L108.3 347.8L108.7 356.0L109.2 352.4L110.1 346.0L110.3 344.7L111.0 344.3L111.9 343.8L112.7 343.5L112.9 344.7L113.8 351.6L114.7 358.7L114.8 359.8L115.6 353.2L116.5 345.5L116.5 345.4L117.4 342.5L118.3 339.7L119.0 337.6L119.2 339.9L120.2 348.9L121.0 357.9L121.1 356.8L122.0 344.9L122.7 337.2L122.9 336.4L123.8 333.3L124.0 332.7L124.7 338.3L125.7 345.5L126.6 353.7L127.3 360.7L127.5 358.9L128.4 346.9L129.3 336.5L129.8 330.7L130.2 333.4L131.1 340.1L131.5 342.8L132.0 342.3L133.0 341.3L133.2 341.1L133.9 326.3L134.8 308.1L135.3 297.4L135.7 306.4L136.6 329.9L136.7 331.4L137.5 335.9L138.2 339.4L138.4 337.2L139.3 330.1L139.8 326.4L140.3 328.9L141.2 334.2L142.1 339.6L142.3 341.0L143.0 342.1L143.9 343.7L144.8 343.7L145.7 346.8L146.7 350.6L147.0 352.2L147.6 348.4L147.8 346.4L148.5 343.6L149.4 339.3L149.8 337.1L150.3 334.3L151.2 329.4L152.0 325.3L152.1 327.5L153.1 341.6L153.7 351.1L154.0 348.5L154.9 340.7L155.7 333.8L155.8 328.9L156.4 304.1L156.7 298.6L157.6 281.6L158.2 271.7L158.5 283.2L159.4 313.4L159.5 315.3L160.4 318.4L160.7 319.5L161.3 314.9L162.2 308.4L162.7 305.1L163.1 307.8L164.0 313.8L164.2 315.0L164.8 323.8L164.9 324.6L165.8 331.3L166.0 332.5L166.7 307.4L166.8 305.8L167.7 289.4L168.2 280.1L168.6 284.2L169.5 294.3L169.7 296.2L170.3 309.8L170.4 310.8L171.3 319.7L172.2 328.9L172.3 329.5L173.2 314.6L173.7 305.7L174.1 308.1L175.0 314.5L175.0 314.6L175.9 301.3L176.5 292.4L176.8 294.7L177.7 301.8L178.6 308.9L178.9 311.0L179.5 323.1L179.8 328.1L180.5 322.2L180.6 320.9L181.4 317.3L182.3 313.0L182.5 312.0L183.2 319.6L184.1 329.5L184.8 343.9L185.0 339.3L185.5 330.7L185.9 325.7L186.8 316.1L187.0 314.6L187.7 302.9L187.8 302.2L188.7 294.4L189.3 289.2L189.6 292.4L190.5 302.9L190.8 306.7L191.4 320.3L191.5 322.3L192.3 306.4L193.2 291.0L193.2 291.5L194.2 300.4L194.9 308.2L195.1 310.5L195.7 323.8L196.0 311.1L196.8 279.8L196.9 282.8L197.8 310.4L198.2 323.7L198.7 315.7L199.5 304.8L199.6 305.5L200.6 309.8L201.5 314.3L201.5 314.5L202.4 300.4L203.2 287.8L203.3 290.1L204.2 313.8L204.8 330.9L205.1 324.1L205.6 314.9L206.0 309.7L206.9 300.6L207.3 297.2L207.9 301.3L208.8 308.2L209.7 315.5L209.8 316.4L210.6 331.8L210.7 333.7L211.5 309.5L211.5 309.0L212.4 296.7L213.3 284.3L213.5 282.1L214.3 293.6L214.8 301.8L215.2 288.5L216.0 259.5L216.1 260.4L217.0 270.2L217.7 277.8L217.9 274.2L218.8 258.7L219.5 247.3L219.7 252.5L220.7 272.8L221.0 280.7L221.6 288.4L222.5 301.1L222.5 302.0L223.2 320.7L223.4 313.9L223.8 299.7L224.3 291.8L225.2 277.2L225.3 275.9L226.1 279.2L226.5 280.7L227.1 266.6L227.5 255.3L228.0 264.8L228.9 283.9L229.0 286.6L229.8 305.1L230.3 317.8L230.7 296.4L231.6 251.2L232.3 218.3L232.5 226.1L233.4 257.7L234.0 277.7L234.3 274.8L235.3 267.4L235.3 267.2L236.2 308.5L236.6 330.8L237.1 318.0L237.5 307.8L238.0 302.1L238.9 292.1L239.8 282.6L239.8 283.2L240.8 296.5L241.7 310.1L241.8 312.8L242.6 337.0L242.7 340.9L243.4 323.8L243.5 323.4L244.4 312.5L245.2 304.0L245.3 304.6L246.2 309.4L246.2 308.0L247.1 269.0L247.2 266.5L248.1 288.0L248.7 303.7L249.0 319.5L249.3 337.9L249.9 320.4L250.0 318.0L250.8 305.4L251.5 295.7L251.7 297.8L252.6 307.4L252.8 309.3L253.5 302.8L254.0 298.8L254.4 310.0L255.4 335.5L255.6 342.3L256.3 311.9L256.5 303.1L257.2 291.2L258.1 275.7L259.0 260.9L259.0 261.1L259.9 270.6L260.9 280.4L261.8 290.1L261.8 290.5L262.7 315.2L262.7 316.2L263.4 296.5L263.6 294.6L264.5 282.7L265.2 273.7L265.4 276.3L266.2 286.3L266.3 282.8L267.2 258.2L267.3 256.6L268.1 265.8L269.0 275.1L269.1 271.4L270.0 224.1L270.9 178.6L271.0 173.2L271.8 215.5L272.7 264.7L273.0 280.3L273.6 296.0L274.6 320.6L274.8 327.8L275.5 309.6L276.4 287.0L276.5 284.2L277.3 293.7L278.2 304.8L278.2 305.4L279.0 324.5L279.1 325.7L280.0 334.4L280.9 343.1L281.0 343.7L281.9 318.2L282.7 295.4L282.8 296.4L283.7 309.7L284.0 314.7L284.6 316.7L285.5 319.8L286.4 322.9L286.8 324.2L287.3 328.9L287.7 332.1L288.2 320.6L288.6 313.3L289.2 307.7L290.1 298.7L290.7 292.8L291.0 295.5L291.9 303.9L292.8 312.5L292.8 312.9L293.7 330.6L293.7 330.3L294.6 321.0L295.6 311.7L295.7 310.4L296.5 313.7L297.3 317.5L297.4 317.1L298.3 313.3L298.7 311.6L299.2 319.1L300.1 332.4L300.3 334.9L301.0 318.9L301.2 316.1L301.9 307.7L302.9 298.4L303.2 295.1L303.8 299.2L304.7 305.6L304.7 305.9L305.3 314.6L305.6 318.8L306.5 331.4L307.3 342.1L307.4 339.4L308.4 320.4L309.0 307.4L309.3 310.1L310.2 320.2L310.7 326.1L311.1 326.6L312.0 327.6L312.9 336.3L313.7 343.6L313.8 342.0L314.5 333.1L314.7 331.8L315.7 325.8L316.5 320.3L316.6 320.5L317.5 323.6L318.2 326.1L318.4 327.4L319.3 333.4L319.7 335.7L320.2 342.6L320.3 343.6L321.1 331.1L321.1 330.3L322.1 322.4L322.8 315.9L323.0 317.2L323.9 325.1L324.0 326.1L324.8 334.4L325.7 343.9L326.0 347.1L326.6 332.7L326.7 331.7L327.5 321.1L328.2 313.0L328.4 311.1L329.4 304.3L329.8 301.1L330.3 283.2L331.2 249.2L331.2 248.9L332.1 274.3L332.5 285.8L333.0 296.1L333.7 310.2L333.9 305.6L334.8 287.5L335.7 270.8L335.8 271.2L336.7 278.6L337.0 281.3L337.6 273.5L338.5 261.5L338.5 261.3L339.4 267.3L340.0 271.4L340.3 274.9L340.7 279.7L341.2 274.8L342.1 266.4L342.3 265.0L343.1 277.4L344.0 292.6L344.2 296.3L344.9 320.2L345.0 324.3L345.8 297.2L346.5 275.4L346.7 278.3L347.6 290.9L347.8 293.3L348.5 279.2L349.4 262.2L349.5 261.2L350.4 278.4L351.0 291.9L351.3 301.3L351.7 318.7L352.2 306.3L352.4 302.0L353.1 293.3L354.0 282.9L354.0 283.0L354.9 291.2L355.0 291.7L355.9 264.1L356.0 259.3L356.8 280.0L357.7 305.8L358.0 315.4L358.6 302.3L358.8 298.8L359.5 290.5L360.4 280.4L360.5 279.6L361.2 259.3L361.3 258.2L362.2 245.6L363.0 235.1L363.2 242.3L364.1 284.0L364.6 309.3L365.0 300.7L365.5 289.2L365.9 285.0L366.8 275.5L367.7 266.2L367.8 265.3L368.6 275.2L369.6 286.1L370.1 292.7L370.5 302.1L371.0 316.4L371.4 310.2L371.9 302.5L372.3 299.5L373.2 292.5L374.0 286.5L374.1 287.2L375.0 292.7L375.1 293.1L375.9 282.6L376.2 279.6L376.9 305.3L377.6 337.6L377.8 332.4L378.3 317.7L378.7 310.9L379.6 298.2L379.8 295.4L380.5 285.9L381.0 279.4L381.4 265.2L382.3 237.1L382.3 237.7L383.2 252.6L383.7 260.0L384.2 247.8L385.0 226.6L385.1 224.1L386.0 195.0L386.2 188.7L386.9 206.4L387.6 223.7L387.8 219.9L388.7 204.2L389.0 199.8L389.6 220.7L390.4 245.3L390.6 243.6L391.5 233.6L391.7 231.2L392.4 251.8L393.0 270.3L393.3 280.0L394.0 299.5L394.2 304.4L394.8 317.3L395.1 324.0L396.0 342.3L396.5 349.6L397.0 346.6L397.9 340.5L398.7 335.3L398.8 334.7L399.7 330.0L400.6 325.3L400.7 325.1L401.5 336.9L402.4 349.8L402.7 352.9L403.4 345.6L404.3 335.9L404.5 333.4L405.2 337.1L406.1 342.0L406.5 344.2L407.0 347.2L407.9 352.6L408.8 357.9L409.0 358.9L409.8 351.7L410.7 343.1L411.5 335.2L411.6 335.5L412.5 338.4L412.7 339.0L413.4 336.5L414.3 333.3L414.5 332.7L415.2 343.0L416.0 354.0L416.1 352.8L417.1 344.8L418.0 336.9L418.9 329.2L419.0 328.2L419.8 331.3L420.7 334.9L421.0 336.1L421.6 341.9L422.5 350.6L422.7 351.8L423.4 346.3L424.0 342.4L424.4 335.0L425.3 316.4L425.7 308.7L426.2 315.8L427.1 328.2L427.2 329.2L428.0 344.9L428.7 357.2L428.9 354.3L429.8 344.6L430.3 339.5L430.8 339.0L431.7 337.9L432.0 337.5L432.6 339.0L433.2 340.6L433.5 342.2L434.4 346.7L434.8 348.8L435.3 346.1L436.2 341.0L436.5 339.6L437.1 337.9L438.1 335.5L438.2 335.2L439.0 339.3L439.8 343.7L439.9 344.1L440.8 349.7L441.7 355.4L442.0 357.1L442.6 353.2L443.6 347.5L443.7 346.8L444.5 346.1L445.3 345.3L445.4 345.6L446.3 351.1L447.2 356.8L447.7 359.7L448.1 357.4L449.0 352.6L449.9 348.0L450.9 343.5L451.2 342.0L451.8 345.8L452.7 351.6L453.6 357.6L453.7 358.1L454.5 351.1L455.3 344.5L455.4 344.6L456.3 345.4L456.5 345.5L457.2 342.2L457.8 339.7L458.2 340.5L459.1 342.5L459.3 343.1L460.0 349.1L460.7 355.4L460.9 351.3L461.8 335.7L462.3 327.4L462.7 328.9L463.6 332.4L464.0 333.8L464.6 339.5L465.5 348.9L465.7 350.9L466.4 341.9L466.8 336.3L467.3 340.2L468.2 348.0L468.7 352.0L469.1 349.7L469.8 346.2L470.0 346.0L470.9 345.4L471.9 344.9L472.0 344.8L472.8 349.2L473.7 354.6L474.0 356.5L474.6 346.7L475.5 332.6L476.0 325.5L476.4 320.3L477.0 313.4L477.3 318.0L478.2 329.1L478.3 329.0L479.0 328.3L479.2 330.9L480.1 345.2L480.3 349.1L481.0 345.7L481.9 341.1L482.3 339.1L482.8 340.7L483.7 343.5L483.7 342.6L484.6 330.1L485.0 325.5L485.6 336.2L486.5 354.5L486.5 354.9L487.4 349.3L488.2 344.6L488.3 345.2L489.2 349.0L489.5 350.1L490.1 339.9L490.7 331.6L491.1 336.1L492.0 347.1L492.8 358.4L492.9 358.2L493.8 350.2L494.5 344.5L494.7 345.1L495.6 347.6L495.7 347.7L496.5 337.2L497.0 331.7L497.4 336.4L498.4 346.6L499.3 357.3L499.3 358.1L500.2 353.8L501.1 349.3L501.2 349.0L502.0 348.1L502.9 347.2L503.2 346.9L503.8 350.1L504.0 350.9L504.8 355.0L505.3 358.2L505.7 355.6L506.6 348.6L507.0 345.5L507.5 346.9L508.4 349.5L508.7 350.3L509.3 351.0L509.8 351.6L510.2 353.1L511.1 356.5L512.0 359.8L512.1 359.3L513.0 351.2L513.9 343.9L514.5 339.2L514.8 340.2L515.7 343.2L516.5 345.9L516.6 346.8L517.5 352.8L518.5 359.3L518.7 360.9L519.4 353.7L520.3 345.4L520.7 342.1L521.2 344.1L522.1 347.7L522.7 349.9L523.0 351.6L523.9 356.2L524.8 361.0L524.9 360.9L525.8 353.4L526.5 347.9L526.7 348.7L527.6 353.4L527.7 353.7L528.5 339.8L529.3 327.4L529.4 328.2L530.3 339.5L531.2 351.4L531.5 355.2L532.1 353.1L533.1 350.3L534.0 347.7L534.3 346.7L534.9 348.9L535.7 351.9L535.8 352.6L536.7 357.3L537.6 362.4L537.7 362.6L538.5 352.2L539.5 343.1L539.8 339.7L540.4 341.4L541.3 344.2L542.0 346.5L542.2 347.7L543.1 353.3L544.0 359.3L544.0 359.2L544.9 357.4L545.9 355.7L546.8 354.0L547.3 353.0L547.7 354.5L548.6 358.5L549.5 362.9L549.8 364.7L550.4 361.2L551.3 356.4L552.2 352.2L552.7 350.4L553.2 352.1L554.1 355.3L554.8 358.1L555.0 358.6L555.9 361.3L556.8 364.2L557.0 364.8L557.7 360.0L558.6 354.9L558.7 354.8L559.6 355.9L560.5 357.1L560.7 357.3L561.4 359.9L562.3 363.3L562.7 364.9L563.2 363.4L564.1 361.0L564.8 359.3L565.0 358.9L566.0 357.0L566.9 355.2L567.3 354.4L567.8 356.5L568.7 361.2L569.3 365.0L569.6 362.1L570.5 354.1L571.0 350.3L571.4 353.0L572.4 358.9L572.7 361.1L573.3 359.6L574.2 357.5L574.8 356.1L575.1 357.0L576.0 360.1L576.5 362.0L576.9 361.0L577.8 358.9L578.2 358.2L578.7 357.6L579.5 356.7L579.7 357.2L580.6 359.8L581.5 362.7L582.3 365.6L582.4 364.5L583.3 352.6L584.0 345.1L584.2 346.8L585.1 354.3L585.7 358.9L586.0 357.0L587.0 352.8L587.3 351.3L587.9 355.3L588.7 361.6L588.8 360.0L589.7 349.1L590.6 339.9L590.7 339.5L591.5 345.1L592.5 351.5L592.7 353.1L593.4 356.0L594.3 360.1L594.8 362.9L595.2 361.4L596.1 358.0L596.5 356.6L597.0 355.8L597.9 354.3L598.8 352.8L599.0 352.6L599.8 353.0L600.0 353.2L600.7 356.0L601.6 360.0L602.0 362.1L602.5 360.8L603.4 358.6L603.7 357.9L604.3 353.3L605.2 347.2L605.8 343.5L606.1 345.7L607.1 352.1L608.0 359.5L608.0 359.6L608.9 357.1L609.8 354.6L610.7 352.2L611.3 350.6L611.6 351.6L612.5 354.7L613.5 358.1L614.2 360.8L614.4 359.9L615.3 355.9L616.2 352.1L616.7 350.3L617.1 350.7L618.0 351.5L618.7 352.1L618.9 353.2L619.9 357.2L620.8 361.7L620.8 362.0L621.7 359.1L622.6 356.1L623.3 353.8L623.5 354.3L624.4 356.8L625.0 358.4L625.3 357.2L626.2 353.9L626.7 352.5L627.2 353.8L628.0 356.2L628.1 355.6L629.0 348.0L629.7 342.9L629.9 343.8L630.8 347.4L631.7 351.2L632.5 354.6L632.6 353.7L633.5 348.5L634.5 343.6L635.0 340.9L635.4 342.2L636.3 345.5L637.2 348.8L637.5 349.9L638.1 351.5L639.0 354.0L640.0 356.5L640.0 356.7L640.9 354.4L641.8 352.0L642.7 349.8L643.3 348.2L643.6 349.0L644.5 351.8L645.4 354.7L646.3 357.8L646.3 357.8L647.3 355.6L648.2 353.6L648.8 352.1L649.1 352.0L650.0 351.3L650.9 350.6L651.3 350.3L651.8 352.6L652.7 357.0L653.3 360.1L653.6 356.6L654.6 347.6L655.5 339.4L655.8 336.5L656.4 343.0L657.0 350.8L657.3 350.0L658.2 347.6L658.3 347.4L659.1 352.1L660.0 358.0L660.3 360.1L661.0 351.8L661.9 341.2L662.5 334.6L662.8 335.8L663.5 339.0L663.7 338.5L664.5 336.5L664.6 337.8L665.5 349.3L665.5 349.5L666.4 356.0L666.7 357.7L667.4 355.2L668.3 352.1L668.7 350.7L669.2 350.4L670.1 349.7L670.8 349.2L671.0 350.4L671.9 356.7L672.5 361.3L672.8 357.1L673.8 347.1L673.8 346.3L674.7 349.5L675.6 353.2L675.8 354.3L676.5 352.0L677.2 349.7L677.4 351.0L678.3 356.5L678.7 358.8L679.2 357.4L680.1 355.2L681.1 353.1L681.7 351.7L682.0 352.6L682.9 355.3L683.8 358.3L684.7 361.2L684.7 361.1L685.6 358.6L686.5 356.2L686.7 355.9L687.5 351.4L688.4 346.6L689.3 341.9L690.0 338.4L690.2 339.8L691.1 346.9L691.7 351.6L692.0 349.8L692.9 345.3L693.3 343.4L693.8 343.6L694.8 344.1L695.0 344.2L695.7 346.4L696.6 349.5L697.5 352.8L698.3 355.9L698.4 355.5L699.3 351.0L700.2 346.7L700.5 345.6L701.1 347.3L702.1 349.9L703.0 352.5L703.0 352.6L703.9 355.7L704.8 359.2L705.0 359.9L705.7 345.9L706.6 330.9L707.4 319.3L707.5 321.3L708.5 333.6L709.4 347.2L710.0 358.1L710.3 351.3L711.2 333.1L712.1 317.0L712.6 308.9L713.0 307.0L713.2 306.2L713.9 318.7L714.6 330.6L714.9 338.8L715.2 350.5L715.2 368.5Z" fill="#3fdcc9"/>
<path d="M48.0 308.3L48.2 308.4L48.9 322.3L49.8 339.7L50.3 349.1L50.7 345.3L51.6 336.5L52.3 330.0L52.6 324.7L53.5 304.5L54.0 293.0L54.4 304.8L55.3 332.6L55.3 333.2L56.2 343.1L57.0 351.7L57.1 349.6L58.0 335.2L59.0 320.9L59.3 315.1L59.9 321.8L60.7 331.6L60.8 329.7L61.5 318.3L61.7 321.0L62.6 333.4L63.5 345.7L63.7 347.4L64.4 324.9L64.8 313.4L65.4 318.6L66.3 327.7L66.5 330.0L67.2 325.3L68.1 318.9L68.7 315.1L69.0 320.4L69.9 334.8L70.7 346.6L70.8 342.2L71.5 325.0L71.8 322.5L72.7 313.4L73.3 306.7L73.6 311.6L74.5 329.8L75.4 348.2L75.7 353.3L76.3 340.0L77.2 321.4L77.7 312.5L78.2 316.8L79.1 324.8L79.8 331.6L80.0 332.9L80.9 341.5L81.8 350.0L82.3 355.0L82.7 349.2L83.6 335.0L84.3 324.2L84.5 325.6L85.5 331.8L85.7 333.3L86.4 325.4L87.0 318.3L87.3 323.2L88.2 339.2L89.0 353.3L89.1 351.3L90.0 334.2L90.9 317.1L91.0 315.8L91.8 319.4L92.8 323.3L93.2 325.0L93.7 329.0L94.6 336.4L95.5 343.7L95.7 345.0L96.4 337.5L97.3 328.4L98.2 317.8L99.2 307.0L99.8 299.2L100.1 304.0L101.0 322.7L101.5 333.3L101.9 313.5L102.8 268.2L103.2 250.6L103.7 259.4L104.2 266.6L104.6 250.4L105.3 226.8L105.5 234.0L106.5 265.0L107.0 283.3L107.4 297.8L108.3 332.4L108.7 346.6L109.2 340.3L110.1 329.2L110.3 326.7L111.0 325.9L111.9 324.9L112.7 324.2L112.9 326.8L113.8 339.0L114.7 351.4L114.8 353.3L115.6 341.8L116.5 328.3L116.5 328.3L117.4 322.4L118.3 316.7L119.0 312.5L119.2 317.2L120.2 334.4L121.0 350.0L121.1 348.2L122.0 327.2L122.7 311.6L122.9 310.0L123.8 303.7L124.0 302.5L124.7 314.0L125.7 328.5L126.6 342.8L127.3 354.9L127.5 351.9L128.4 331.0L129.3 310.4L129.8 298.4L130.2 304.1L131.1 317.8L131.5 323.3L132.0 322.3L133.0 320.4L133.2 319.9L133.9 289.2L134.8 249.3L135.3 225.1L135.7 245.6L136.6 296.8L136.7 300.0L137.5 309.5L138.2 316.6L138.4 312.2L139.3 297.5L139.8 289.7L140.3 294.8L141.2 306.0L142.1 317.0L142.3 320.0L143.0 322.2L143.9 325.3L144.8 328.3L145.7 335.7L146.7 343.1L147.0 345.8L147.6 341.6L147.8 339.5L148.5 336.9L149.4 333.4L149.8 331.7L150.3 328.7L151.2 323.1L152.0 318.3L152.1 320.9L153.1 337.2L153.7 348.3L154.0 345.3L154.9 336.2L155.7 328.2L155.8 322.5L156.4 292.5L156.7 285.2L157.6 262.5L158.2 249.0L158.5 264.6L159.4 304.5L159.5 306.7L160.4 310.4L160.7 311.6L161.3 306.3L162.2 298.1L162.7 293.9L163.1 297.4L164.0 305.0L164.2 306.4L164.8 316.6L164.9 317.5L165.8 325.3L166.0 326.7L166.7 296.9L166.8 294.8L167.7 273.0L168.2 260.5L168.6 266.1L169.5 279.7L169.7 282.2L170.3 300.0L170.4 301.3L171.3 311.9L172.2 322.6L172.3 323.3L173.2 305.9L173.7 294.7L174.1 297.8L175.0 305.8L175.0 306.0L175.9 288.9L176.5 277.2L176.8 280.3L177.7 289.6L178.6 298.9L178.9 301.7L179.5 315.9L179.8 321.7L180.5 314.8L180.6 313.3L181.4 309.1L182.3 304.2L182.5 303.0L183.2 311.8L184.1 323.4L184.8 340.0L185.0 334.7L185.5 324.7L185.9 318.9L186.8 307.8L187.0 306.0L187.7 291.1L187.8 290.2L188.7 280.0L189.3 273.0L189.6 277.3L190.5 291.1L190.8 296.1L191.4 312.7L191.5 315.0L192.3 295.7L193.2 275.5L193.2 276.1L194.2 287.9L194.9 298.2L195.1 301.1L195.7 316.7L196.0 301.9L196.8 260.5L196.9 264.5L197.8 301.0L198.2 316.7L198.7 307.4L199.5 293.8L199.6 294.7L200.6 300.2L201.5 305.8L201.5 306.0L202.4 288.0L203.2 271.3L203.3 274.3L204.2 305.2L204.8 325.0L205.1 317.1L205.6 306.5L206.0 300.1L206.9 288.3L207.3 283.8L207.9 289.3L208.8 298.3L209.7 307.2L209.8 308.3L210.6 326.1L210.7 328.3L211.5 300.0L211.5 299.3L212.4 283.2L213.3 266.7L213.5 263.8L214.3 279.1L214.8 290.0L215.2 272.4L216.0 233.0L216.1 234.2L217.0 247.7L217.7 258.0L217.9 253.1L218.8 231.9L219.5 216.0L219.7 223.4L220.7 251.3L221.0 262.0L221.6 272.3L222.5 289.1L222.5 290.2L223.2 313.3L223.4 305.5L223.8 287.3L224.3 276.9L225.2 257.2L225.3 255.5L226.1 260.0L226.5 262.0L227.1 242.9L227.5 227.3L228.0 240.4L228.9 266.3L229.0 270.0L229.8 294.3L230.3 310.0L230.7 283.0L231.6 221.7L232.3 175.2L232.5 186.4L233.4 230.7L234.0 258.0L234.3 254.2L235.3 244.1L235.3 243.8L236.2 298.8L236.6 325.0L237.1 310.2L237.5 297.9L238.0 290.5L238.9 277.4L239.8 264.7L239.8 265.5L240.8 283.2L241.7 301.0L241.8 304.3L242.6 332.2L242.7 336.7L243.4 317.0L243.5 316.5L244.4 304.0L245.2 293.0L245.3 293.8L246.2 300.0L246.2 298.3L247.1 246.4L247.2 243.0L248.1 272.1L248.7 292.7L249.0 312.0L249.3 333.3L249.9 313.1L250.0 310.3L250.8 295.0L251.5 282.2L251.7 285.1L252.6 297.5L252.8 300.0L253.5 291.6L254.0 286.3L254.4 300.9L255.4 330.5L255.6 338.3L256.3 303.3L256.5 292.0L257.2 276.4L258.1 255.6L259.0 235.5L259.0 235.8L259.9 248.8L260.9 262.0L261.8 275.0L261.8 275.5L262.7 307.2L262.7 308.3L263.4 283.4L263.6 281.0L264.5 265.2L265.2 253.0L265.4 256.6L266.2 270.0L266.3 265.2L267.2 231.9L267.3 229.7L268.1 242.3L269.0 255.0L269.1 250.0L270.0 184.3L270.9 118.7L271.0 110.8L271.8 172.0L272.7 240.8L273.0 262.0L273.6 282.9L274.6 313.4L274.8 321.7L275.5 300.5L276.4 271.0L276.5 267.2L277.3 279.8L278.2 294.3L278.2 295.1L279.0 318.0L279.1 319.3L280.0 329.3L280.9 339.3L281.0 340.0L281.9 310.8L282.7 282.2L282.8 283.5L283.7 300.7L284.0 306.7L284.6 309.1L285.5 312.6L286.4 316.2L286.8 317.7L287.3 323.1L287.7 326.7L288.2 313.5L288.6 305.1L289.2 298.1L290.1 286.6L290.7 278.8L291.0 282.3L291.9 293.3L292.8 304.2L292.8 304.7L293.7 325.0L293.7 324.7L294.6 314.0L295.6 303.3L295.7 301.7L296.5 305.7L297.3 310.0L297.4 309.6L298.3 305.2L298.7 303.3L299.2 311.8L300.1 327.2L300.3 330.0L301.0 311.6L301.2 308.4L301.9 298.3L302.9 286.3L303.2 282.0L303.8 287.4L304.7 295.6L304.7 295.9L305.3 306.7L305.6 311.6L306.5 326.0L307.3 338.3L307.4 335.2L308.4 313.4L309.0 298.0L309.3 301.4L310.2 313.1L310.7 320.0L311.1 320.5L312.0 321.7L312.9 331.6L313.7 340.0L313.8 338.1L314.5 328.0L314.7 326.5L315.7 319.6L316.5 313.3L316.6 313.6L317.5 317.2L318.2 320.0L318.4 321.5L319.3 328.3L319.7 331.0L320.2 338.9L320.3 340.0L321.1 325.7L321.1 324.8L322.1 315.8L322.8 308.3L323.0 309.9L323.9 318.8L324.0 320.0L324.8 329.5L325.7 340.4L326.0 344.0L326.6 327.5L326.7 326.4L327.5 314.3L328.2 305.0L328.4 302.7L329.4 294.1L329.8 290.0L330.3 266.5L331.2 220.5L331.2 220.0L332.1 254.6L332.5 270.0L333.0 283.5L333.7 301.7L333.9 295.8L334.8 272.2L335.7 250.0L335.8 250.5L336.7 260.4L337.0 264.0L337.6 253.6L338.5 237.4L338.5 237.2L339.4 245.3L340.0 250.8L340.3 255.6L340.7 262.0L341.2 255.4L342.1 244.1L342.3 242.2L343.1 259.0L344.0 279.0L344.2 283.9L344.9 313.4L345.0 318.0L345.8 285.1L346.5 256.3L346.7 260.1L347.6 276.9L347.8 280.0L348.5 261.4L349.4 238.5L349.5 237.2L350.4 260.3L351.0 278.2L351.3 290.4L351.7 311.7L352.2 296.9L352.4 291.3L353.1 280.1L354.0 266.3L354.0 266.5L354.9 277.3L355.0 278.0L355.9 241.2L356.0 234.7L356.8 262.6L357.7 296.3L358.0 308.0L358.6 291.7L358.8 287.3L359.5 276.5L360.4 263.2L360.5 262.0L361.2 234.8L361.3 233.3L362.2 216.0L363.0 201.5L363.2 211.4L364.1 267.9L364.6 300.8L365.0 289.8L365.5 274.8L365.9 269.3L366.8 256.7L367.7 244.1L367.8 243.0L368.6 256.3L369.6 270.7L370.1 279.4L370.5 291.7L371.0 309.2L371.4 302.0L371.9 292.1L372.3 288.3L373.2 279.1L374.0 271.3L374.1 272.2L375.0 279.4L375.1 280.0L375.9 266.2L376.2 262.2L376.9 295.7L377.6 333.3L377.8 327.5L378.3 310.7L378.7 302.9L379.6 286.6L379.8 283.0L380.5 270.6L381.0 262.0L381.4 243.0L382.3 204.5L382.3 205.4L383.2 225.9L383.7 236.0L384.2 219.4L385.0 190.0L385.1 186.4L386.0 145.2L386.2 136.3L386.9 161.5L387.6 186.0L387.8 180.7L388.7 158.5L389.0 152.2L389.6 181.8L390.4 216.0L390.6 213.6L391.5 199.8L391.7 196.5L392.4 224.9L393.0 250.0L393.3 259.9L394.0 283.0L394.2 287.5L394.8 299.9L395.1 307.1L396.0 329.0L396.5 340.0L397.0 335.4L397.9 326.3L398.7 318.3L398.8 317.4L399.7 310.2L400.6 302.9L400.7 302.6L401.5 320.6L402.4 340.2L402.7 344.9L403.4 333.8L404.3 318.9L404.5 315.0L405.2 320.7L406.1 328.2L406.5 331.7L407.0 336.3L407.9 344.4L408.8 352.6L409.0 354.2L409.8 343.2L410.7 329.8L411.5 317.5L411.6 317.8L412.5 322.4L412.7 323.3L413.4 319.3L414.3 314.4L414.5 313.3L415.2 329.6L416.0 346.7L416.1 344.8L417.1 332.4L418.0 319.9L418.9 307.5L419.0 305.8L419.8 310.8L420.7 316.5L421.0 318.3L421.6 327.6L422.5 341.3L422.7 343.3L423.4 334.5L424.0 328.3L424.4 316.4L425.3 285.8L425.7 273.1L426.2 284.7L427.1 305.2L427.2 306.8L428.0 332.3L428.7 351.6L428.9 347.2L429.8 331.7L430.3 323.4L430.8 322.5L431.7 320.7L432.0 320.0L432.6 322.5L433.2 325.0L433.5 327.7L434.4 334.9L434.8 338.3L435.3 334.0L436.2 325.7L436.5 323.3L437.1 320.4L438.1 316.3L438.2 315.9L439.0 322.7L439.8 330.0L439.9 330.6L440.8 339.8L441.7 348.9L442.0 351.7L442.6 345.4L443.6 336.2L443.7 335.0L444.5 333.8L445.3 332.5L445.4 332.9L446.3 342.1L447.2 351.2L447.7 355.8L448.1 352.1L449.0 344.5L449.9 336.9L450.9 329.3L451.2 326.7L451.8 333.1L452.7 342.8L453.6 352.5L453.7 353.3L454.5 341.9L455.3 330.9L455.4 331.0L456.3 332.3L456.5 332.5L457.2 326.9L457.8 322.5L458.2 323.8L459.1 327.3L459.3 328.3L460.0 338.6L460.7 349.1L460.9 342.3L461.8 315.1L462.3 300.1L462.7 302.8L463.6 309.1L464.0 311.7L464.6 321.7L465.5 338.1L465.7 341.6L466.4 325.9L466.8 315.9L467.3 322.8L468.2 336.5L468.7 343.3L469.1 339.4L469.8 333.4L470.0 333.1L470.9 332.0L471.9 331.0L472.0 330.8L472.8 338.6L473.7 347.7L474.0 350.8L474.6 334.1L475.5 308.4L476.0 295.0L476.4 284.8L477.0 271.3L477.3 280.2L478.2 301.7L478.3 301.5L479.0 300.0L479.2 304.9L480.1 331.3L480.3 338.2L481.0 332.2L481.9 323.9L482.3 320.0L482.8 323.1L483.7 328.2L483.7 326.4L484.6 302.9L485.0 293.8L485.6 314.5L486.5 347.6L486.5 348.3L487.4 338.5L488.2 330.0L488.3 331.1L489.2 337.9L489.5 340.0L490.1 321.1L490.7 305.1L491.1 313.7L492.0 334.3L492.8 354.1L492.9 353.6L493.8 339.8L494.5 329.2L494.7 330.2L495.6 334.8L495.7 334.9L496.5 314.5L497.0 303.3L497.4 312.8L498.4 332.5L499.3 352.0L499.3 353.3L500.2 345.6L501.1 337.3L501.2 336.7L502.0 334.9L502.9 333.0L503.2 332.5L503.8 338.6L504.0 340.0L504.8 347.5L505.3 353.3L505.7 348.6L506.6 335.3L507.0 329.2L507.5 331.9L508.4 336.9L508.7 338.3L509.3 339.7L509.8 340.8L510.2 343.6L511.1 349.9L512.0 355.8L512.1 354.8L513.0 339.7L513.9 324.5L514.5 314.2L514.8 316.3L515.7 322.7L516.5 328.3L516.6 330.1L517.5 342.3L518.5 354.6L518.7 357.4L519.4 344.0L520.3 326.6L520.7 319.2L521.2 323.5L522.1 331.2L522.7 335.9L523.0 339.4L523.9 348.5L524.8 357.5L524.9 357.2L525.8 342.7L526.5 330.8L526.7 332.7L527.6 342.5L527.7 343.2L528.5 311.7L529.3 280.1L529.4 282.3L530.3 310.3L531.2 337.9L531.5 345.8L532.1 341.4L533.1 335.2L534.0 329.1L534.3 326.7L534.9 331.6L535.7 338.4L535.8 339.9L536.7 349.7L537.6 359.7L537.7 359.9L538.5 338.6L539.5 316.5L539.8 307.6L540.4 311.7L541.3 318.7L542.0 324.2L542.2 327.1L543.1 340.5L544.0 353.3L544.0 353.2L544.9 349.3L545.9 345.4L546.8 341.6L547.3 339.2L547.7 342.5L548.6 351.4L549.5 360.2L549.8 363.3L550.4 356.8L551.3 346.5L552.2 336.3L552.7 331.7L553.2 335.9L554.1 343.6L554.8 350.0L555.0 351.0L555.9 356.6L556.8 362.2L557.0 363.3L557.7 353.8L558.6 341.9L558.7 341.7L559.6 344.3L560.5 346.9L560.7 347.5L561.4 353.2L562.3 360.4L562.7 363.3L563.2 360.4L564.1 355.5L564.8 351.7L565.0 350.6L566.0 346.1L566.9 341.5L567.3 339.2L567.8 344.6L568.7 355.6L569.3 363.3L569.6 357.4L570.5 337.8L571.0 327.5L571.4 334.8L572.4 349.8L572.7 355.0L573.3 351.6L574.2 346.3L574.8 342.5L575.1 344.7L576.0 352.4L576.5 356.7L576.9 354.4L577.8 349.4L578.2 347.5L578.7 345.7L579.5 343.3L579.7 344.5L580.6 351.2L581.5 357.9L582.3 364.1L582.4 361.9L583.3 331.0L584.0 307.5L584.2 312.9L585.1 335.4L585.7 348.3L586.0 343.2L587.0 330.7L587.3 325.9L587.9 337.8L588.7 354.9L588.8 350.7L589.7 318.5L590.6 286.6L590.7 285.1L591.5 304.4L592.5 325.1L592.7 330.0L593.4 338.8L594.3 350.3L594.8 357.5L595.2 353.8L596.1 344.2L596.5 340.0L597.0 337.3L597.9 332.4L598.8 327.5L599.0 326.7L599.8 327.9L600.0 328.3L600.7 337.3L601.6 349.4L602.0 355.0L602.5 351.6L603.4 345.1L603.7 343.3L604.3 328.7L605.2 308.0L605.8 294.7L606.1 302.5L607.1 325.1L608.0 347.8L608.0 348.3L608.9 340.8L609.8 333.0L610.7 325.2L611.3 320.0L611.6 323.3L612.5 333.5L613.5 343.8L614.2 351.6L614.4 349.0L615.3 337.2L616.2 325.2L616.7 319.2L617.1 320.5L618.0 323.1L618.7 325.0L618.9 328.8L619.9 341.4L620.8 354.0L620.8 355.0L621.7 346.8L622.6 338.0L623.3 330.9L623.5 332.2L624.4 340.1L625.0 345.0L625.3 341.4L626.2 331.2L626.7 326.7L627.2 331.0L628.0 338.3L628.1 336.4L629.0 311.6L629.7 293.4L629.9 296.6L630.8 309.5L631.7 322.5L632.5 333.3L632.6 330.7L633.5 313.5L634.5 296.0L635.0 286.0L635.4 290.9L636.3 302.7L637.2 314.6L637.5 318.3L638.1 323.7L639.0 331.6L640.0 339.6L640.0 340.0L640.9 332.9L641.8 325.4L642.7 317.8L643.3 312.5L643.6 315.2L644.5 324.7L645.4 334.0L646.3 343.3L646.3 343.3L647.3 336.8L648.2 330.5L648.8 325.9L649.1 325.3L650.0 323.1L650.9 321.0L651.3 320.0L651.8 327.3L652.7 341.1L653.3 350.0L653.6 339.9L654.6 310.7L655.5 281.3L655.8 270.1L656.4 294.7L657.0 321.7L657.3 319.0L658.2 311.0L658.3 310.0L659.1 325.9L660.0 344.1L660.3 349.9L661.0 324.8L661.9 288.3L662.5 263.0L662.8 267.9L663.5 280.0L663.7 278.1L664.5 270.5L664.6 275.6L665.5 316.7L665.5 317.4L666.4 338.2L666.7 343.3L667.4 335.9L668.3 326.0L668.7 321.7L669.2 320.5L670.1 318.4L670.8 316.7L671.0 320.6L671.9 340.6L672.5 353.3L672.8 341.8L673.8 309.6L673.8 306.8L674.7 317.7L675.6 329.8L675.8 333.3L676.5 325.9L677.2 318.4L677.4 322.7L678.3 339.9L678.7 346.6L679.2 342.6L680.1 336.0L681.1 329.4L681.7 325.0L682.0 327.9L682.9 336.5L683.8 345.1L684.7 353.3L684.7 353.0L685.6 346.2L686.5 339.3L686.7 338.3L687.5 324.4L688.4 308.1L689.3 291.7L690.0 278.8L690.2 284.1L691.1 309.3L691.7 324.9L692.0 319.1L692.9 303.8L693.3 297.1L693.8 297.9L694.8 299.6L695.0 300.0L695.7 307.7L696.6 318.3L697.5 328.7L698.3 338.3L698.4 337.2L699.3 323.0L700.2 309.0L700.5 305.0L701.1 311.1L702.1 319.7L703.0 328.1L703.0 328.3L703.9 338.0L704.8 347.9L705.0 350.0L705.7 306.2L706.6 250.8L707.4 204.0L707.5 212.1L708.5 261.5L709.4 310.8L710.0 345.0L710.3 324.4L711.2 259.6L712.1 194.9L712.6 160.0L713.0 151.4L713.2 148.0L713.9 201.9L714.6 250.0L714.9 281.2L715.2 322.0" fill="none" stroke="#474b57" stroke-width="0.7" stroke-linejoin="round"/>
<path d="M48.0 163.6L48.0 163.7L48.9 171.8L49.0 172.5L49.8 175.2L50.7 176.7L51.0 177.0L51.7 174.8L52.6 171.7L53.5 167.8L53.7 167.5L54.4 166.2L55.3 165.0L56.2 163.9L57.0 162.0L57.1 161.8L58.0 163.3L58.7 165.0L59.0 163.3L59.9 162.0L60.8 159.9L61.7 156.5L62.5 155.0L62.6 155.1L63.5 152.2L64.4 148.4L65.0 145.5L65.4 146.3L66.3 146.1L67.2 146.2L67.5 147.5L68.1 147.2L69.0 146.7L69.9 146.8L70.8 147.0L71.2 148.0L71.8 148.8L72.7 152.9L73.6 156.6L73.7 157.5L74.5 159.1L75.4 160.3L76.2 161.2L76.3 162.1L77.2 166.4L78.0 170.0L78.1 170.2L79.1 169.1L80.0 167.8L80.9 168.0L81.2 167.0L81.8 167.8L82.7 167.2L83.6 166.3L84.5 164.9L85.0 164.5L85.5 164.7L86.4 165.9L87.3 166.9L88.2 169.3L88.7 170.0L89.1 169.6L90.0 169.9L90.9 168.9L91.2 168.7L91.8 172.7L92.5 175.0L92.8 175.7L93.7 173.4L94.6 172.2L95.0 172.5L95.5 174.2L96.4 176.2L97.0 177.5L97.3 177.3L98.2 173.4L99.0 170.5L99.2 171.5L100.0 181.0L100.1 181.3L101.0 186.0L101.9 189.5L102.5 192.5L102.8 194.5L103.7 202.8L104.0 206.0L104.6 210.4L105.5 215.0L105.6 215.5L106.5 210.8L107.4 206.9L108.0 205.0L108.3 205.1L109.2 208.3L110.0 212.5L110.1 212.4L111.0 210.9L111.9 210.4L112.5 210.0L112.9 210.4L113.8 211.3L114.7 213.4L115.0 213.7L115.6 213.5L116.5 214.8L117.4 214.8L118.3 215.7L119.3 216.1L119.5 217.0L120.2 213.6L121.1 211.2L122.0 207.8L122.9 203.4L123.0 203.0L123.8 205.9L124.7 207.4L125.6 209.8L126.0 211.0L126.6 210.5L127.5 209.0L128.4 206.4L129.3 206.0L129.5 205.0L130.2 207.2L131.1 209.9L132.0 213.7L132.5 215.0L133.0 217.7L133.9 223.1L134.5 227.5L134.8 230.8L135.7 244.3L136.0 250.0L136.6 258.8L137.0 265.0L137.5 267.0L138.4 272.1L139.0 275.0L139.3 273.7L140.3 271.2L141.2 269.5L142.1 266.5L142.5 265.0L143.0 264.5L143.9 263.6L144.8 261.1L145.7 259.2L146.0 259.5L146.7 261.2L147.6 263.4L148.5 264.4L149.4 265.7L150.0 267.5L150.3 268.2L151.2 270.4L152.1 270.9L153.1 273.4L153.7 273.7L154.0 273.6L154.9 269.3L155.8 264.9L156.7 260.2L157.5 257.5L157.6 256.5L158.5 258.9L159.4 259.1L160.0 260.0L160.4 261.8L161.3 265.3L162.2 270.1L162.5 271.0L163.1 269.5L164.0 266.0L164.9 262.7L165.8 260.6L166.0 260.0L166.8 255.4L167.7 250.5L168.6 246.3L168.7 246.0L169.5 247.1L170.4 247.7L171.3 247.7L172.2 249.2L172.5 248.7L173.1 250.8L174.1 253.2L175.0 256.6L175.0 257.5L175.9 252.9L176.8 248.2L177.7 244.0L178.0 243.7L178.6 243.7L179.5 245.2L180.5 245.7L181.4 246.9L182.3 248.9L182.5 248.7L183.2 249.1L184.1 248.0L185.0 247.1L185.5 246.0L185.9 245.8L186.9 243.7L187.8 241.8L188.0 242.5L188.7 240.6L189.6 241.3L190.5 240.8L191.0 240.0L191.4 241.5L192.3 241.0L193.2 242.4L194.2 243.3L194.5 243.7L195.1 246.4L196.0 249.5L196.9 254.1L197.0 253.7L197.8 255.7L198.7 258.7L198.7 258.6L199.6 259.3L200.6 260.0L201.5 260.2L202.0 259.5L202.4 261.6L203.3 265.1L204.2 268.8L204.5 268.7L205.1 268.8L206.0 268.8L206.9 269.0L207.5 268.0L207.9 269.3L208.8 269.2L209.7 270.2L210.6 271.2L211.0 270.5L211.5 271.1L212.4 271.2L213.3 270.8L214.3 271.1L215.0 271.0L215.2 271.2L216.1 269.7L217.0 269.7L217.9 270.1L218.7 268.7L218.8 269.9L219.7 270.6L220.7 270.9L221.6 272.1L222.5 272.9L222.5 272.5L223.4 273.5L224.3 274.9L225.2 274.8L226.0 276.0L226.1 276.2L227.0 275.0L228.0 275.4L228.9 275.2L229.8 274.5L230.0 275.0L230.7 274.6L231.6 274.0L232.5 273.5L233.4 273.5L233.7 272.5L234.4 272.9L235.3 272.6L236.2 273.4L237.1 274.7L237.5 275.0L238.0 274.1L238.9 273.1L239.8 273.7L240.7 273.1L241.0 272.5L241.7 273.0L242.6 274.2L243.5 274.1L244.4 274.9L245.0 275.0L245.3 274.5L246.2 274.4L247.1 274.9L248.1 275.1L249.0 275.1L249.9 274.0L250.0 273.7L250.8 274.2L251.7 273.9L252.6 273.6L253.5 274.3L254.5 275.3L255.0 275.0L255.4 274.8L256.3 272.3L257.2 270.2L258.1 266.7L258.7 265.0L259.0 264.3L259.9 264.2L260.8 263.7L261.8 263.2L262.5 263.7L262.7 263.3L263.6 264.4L264.5 265.0L265.4 265.3L266.0 266.0L266.3 265.9L267.2 264.9L268.2 262.7L269.1 260.2L269.5 260.0L270.0 263.7L270.9 274.1L271.5 280.0L271.8 281.8L272.7 290.2L273.0 292.5L273.6 293.2L274.5 293.5L275.5 295.0L276.0 295.0L276.4 294.4L277.3 294.4L278.2 295.0L279.1 294.7L280.0 296.0L280.0 296.1L280.9 296.3L281.9 296.5L282.8 296.8L283.7 298.4L283.7 298.7L284.6 297.8L285.5 297.5L286.4 297.1L287.3 296.8L287.5 296.0L288.3 296.2L289.2 294.8L290.0 293.0L290.1 292.8L291.0 292.8L291.9 292.2L292.8 291.6L293.7 292.1L294.6 292.7L295.0 292.5L295.6 291.8L296.5 291.3L297.4 291.0L298.3 291.3L299.2 290.9L300.0 290.5L300.1 290.5L301.0 288.7L302.0 286.1L302.9 284.6L303.0 283.7L303.8 288.6L304.7 291.9L305.0 293.7L305.6 294.4L306.5 294.6L307.4 293.7L308.3 294.0L309.3 294.5L310.0 294.5L310.2 295.3L311.1 294.5L312.0 294.4L312.9 294.8L313.8 294.8L314.7 294.9L315.0 293.7L315.7 294.5L316.6 294.9L317.5 294.5L318.4 295.5L319.3 296.4L320.0 296.0L320.2 296.4L321.1 296.0L322.1 294.5L323.0 294.8L323.9 294.8L324.8 294.5L325.0 293.0L325.7 292.9L326.6 292.0L327.5 290.1L328.4 289.8L328.7 288.7L329.4 285.8L330.3 279.5L331.0 275.0L331.2 273.5L332.1 269.5L333.0 265.6L333.7 262.5L333.9 262.1L334.8 258.3L335.8 253.9L336.0 253.7L336.7 253.3L337.6 251.5L338.5 251.6L339.4 250.1L340.0 250.0L340.3 249.4L341.2 249.9L342.1 248.7L343.1 248.1L343.7 248.7L344.0 248.1L344.9 248.1L345.8 247.9L346.7 247.2L347.5 246.0L347.6 247.2L348.5 246.9L349.5 247.9L350.4 246.9L351.0 247.5L351.3 247.1L352.2 248.3L353.1 248.9L354.0 250.3L354.9 251.3L355.0 251.0L355.8 252.6L356.8 254.6L357.7 255.9L358.0 256.0L358.6 253.9L359.5 250.7L360.4 248.4L361.0 246.0L361.3 246.2L362.2 243.1L363.2 241.8L363.7 240.0L364.1 240.9L365.0 239.8L365.9 239.1L366.0 238.7L366.8 239.8L367.7 241.8L368.6 243.5L368.7 243.7L369.6 244.7L370.5 244.7L371.0 246.0L371.4 246.5L372.3 246.3L373.2 245.9L374.1 246.5L375.0 246.0L375.0 246.4L375.9 248.2L376.9 250.4L377.8 251.4L378.0 252.5L378.7 253.7L379.6 255.5L380.5 257.5L380.5 258.3L381.4 263.0L382.3 266.3L382.5 267.0L383.3 261.9L384.2 255.0L385.0 250.0L385.1 249.1L386.0 244.4L386.9 239.4L387.5 235.0L387.8 234.1L388.7 229.9L389.6 225.8L390.0 225.0L390.6 223.5L391.5 222.0L392.4 218.6L392.5 218.7L393.3 220.4L394.2 221.0L395.0 223.0L395.1 222.0L396.0 221.3L397.0 221.4L397.9 220.3L398.7 220.0L398.8 219.5L399.7 219.5L400.6 218.3L401.5 218.6L402.4 217.4L402.5 218.0L403.4 218.5L404.3 218.9L405.2 219.5L406.0 221.0L406.1 220.6L407.0 220.2L407.9 219.6L408.8 219.1L409.7 218.8L410.0 218.7L410.7 215.5L411.6 211.8L412.0 211.0L412.5 210.5L413.4 210.1L414.3 209.4L415.0 208.7L415.2 209.5L416.1 209.8L417.1 210.6L417.5 210.0L418.0 211.8L418.9 215.9L419.8 219.9L420.0 220.0L420.7 222.1L421.6 222.5L422.5 223.7L422.5 223.4L423.4 222.9L424.4 220.7L425.0 220.0L425.3 220.1L426.2 218.1L427.1 214.5L427.5 213.7L428.0 213.9L428.9 216.0L429.8 216.9L430.0 217.5L430.8 215.7L431.7 215.7L432.5 214.5L432.6 214.6L433.5 216.6L434.4 217.1L435.3 218.6L436.0 220.0L436.2 220.5L437.2 220.6L438.1 221.7L439.0 223.6L439.9 225.6L440.0 225.0L440.8 226.1L441.7 224.6L442.6 224.6L443.5 225.0L443.7 224.5L444.5 225.0L445.4 225.6L446.3 225.2L447.2 224.9L447.5 226.0L448.1 225.1L449.0 225.3L449.9 226.5L450.9 227.2L451.0 227.5L451.8 226.3L452.7 224.1L453.6 222.4L454.5 220.9L455.0 221.0L455.4 221.9L456.3 224.1L457.2 225.8L457.5 225.0L458.2 225.0L459.1 224.6L460.0 226.1L460.9 226.1L461.0 226.0L461.8 228.0L462.7 229.1L463.6 230.8L463.7 231.0L464.6 230.7L465.5 230.3L466.4 230.3L467.0 230.0L467.3 229.6L468.2 231.9L469.1 234.0L470.0 234.5L470.5 235.5L471.0 233.8L471.9 231.5L472.8 228.2L473.0 227.5L473.7 223.5L474.6 218.6L475.0 217.5L475.5 215.3L476.4 211.4L477.3 209.5L477.5 208.7L478.3 209.1L479.2 208.8L480.1 208.8L481.0 208.2L481.0 207.5L481.9 208.0L482.8 208.5L483.7 208.7L483.7 208.8L484.7 208.8L485.6 208.1L486.5 206.4L487.4 206.3L487.5 205.5L488.3 207.6L489.2 209.2L490.1 210.8L490.5 210.5L491.0 210.3L492.0 210.2L492.9 209.7L493.7 208.0L493.8 208.7L494.7 207.8L495.6 206.8L496.5 205.2L497.0 204.5L497.4 206.1L498.4 207.3L498.7 208.7L499.3 208.4L500.2 209.1L501.1 208.8L502.0 209.6L502.5 210.5L502.9 210.7L503.8 211.5L504.8 211.4L505.7 212.9L506.0 212.5L506.6 213.5L507.5 213.6L508.4 214.6L508.7 214.5L509.3 214.6L510.2 214.3L511.1 213.9L512.1 214.6L512.5 213.7L513.0 214.4L513.9 214.7L514.8 215.0L515.7 215.6L516.0 214.5L516.6 214.1L517.5 214.3L518.5 214.5L519.4 213.6L520.0 213.7L520.3 212.9L521.0 212.0L521.2 211.1L522.1 211.4L523.0 212.1L523.7 213.0L523.9 212.1L524.8 212.6L525.8 214.3L526.7 214.6L527.0 214.5L527.6 219.1L528.5 226.9L528.7 227.5L529.4 229.9L530.0 231.0L530.3 232.0L531.2 231.4L532.2 231.3L533.1 229.8L533.7 230.0L534.0 230.1L534.9 230.6L535.8 229.7L536.7 230.9L537.5 230.5L537.6 229.6L538.5 226.1L539.5 222.0L539.5 222.5L540.4 226.6L541.0 230.0L541.3 230.3L542.2 230.1L543.1 232.0L543.7 232.0L544.0 232.1L544.9 232.1L545.9 232.2L546.8 231.9L547.5 232.0L547.7 231.6L548.6 232.5L549.5 232.9L550.0 233.0L550.4 233.3L551.3 235.3L552.0 236.0L552.3 234.8L553.2 230.6L553.7 229.5L554.1 228.3L555.0 227.1L555.9 226.4L556.0 227.5L556.8 227.0L557.7 226.3L558.6 226.6L559.5 225.5L559.6 226.3L560.5 226.1L561.4 228.2L562.3 229.6L562.5 228.7L563.2 228.6L564.1 229.7L565.0 229.4L566.0 229.5L566.0 229.5L566.9 228.4L567.8 225.4L568.0 225.0L568.7 223.9L569.6 223.2L570.5 221.0L570.5 221.8L571.4 221.7L572.3 222.7L573.0 222.0L573.3 222.9L574.2 222.1L575.1 220.6L576.0 220.5L576.0 220.5L576.9 222.3L577.8 223.7L578.7 226.0L578.7 225.0L579.7 226.0L580.6 225.9L581.0 227.0L581.5 225.0L582.4 222.8L583.3 219.9L583.7 218.7L584.2 218.0L585.1 217.9L586.0 217.5L586.1 217.2L587.0 215.6L587.9 213.2L588.7 211.0L588.8 211.1L589.7 202.6L590.5 193.7L590.6 194.5L591.5 192.3L592.4 190.4L592.5 191.0L593.4 191.9L594.3 192.8L595.0 192.5L595.2 192.8L596.1 190.8L597.0 189.0L597.5 188.7L597.9 189.0L598.8 189.3L599.8 189.7L600.0 189.5L600.7 189.4L601.6 189.1L602.5 187.6L603.0 187.5L603.4 186.0L604.3 185.2L605.2 183.7L606.0 181.0L606.1 182.0L607.1 179.5L608.0 177.8L608.0 178.7L608.9 180.7L609.8 183.9L610.0 185.0L610.7 182.3L611.6 178.2L612.0 177.5L612.5 178.0L613.5 178.7L614.4 179.7L614.5 181.0L615.3 181.7L616.2 182.8L617.0 183.7L617.1 183.6L618.0 180.1L618.7 178.0L618.9 178.0L619.9 177.6L620.8 177.8L621.7 178.7L622.5 178.7L622.6 179.3L623.5 177.6L624.4 176.5L625.0 177.0L625.3 176.2L626.2 173.8L627.2 171.6L627.5 170.0L628.1 165.3L629.0 158.2L629.3 156.0L629.9 155.6L630.8 156.6L631.7 156.4L632.6 156.7L632.6 157.1L633.6 161.0L634.5 163.3L635.0 165.0L635.4 164.6L636.3 163.8L637.2 163.0L637.6 161.5L638.1 162.3L639.0 162.7L639.9 162.8L640.0 163.6L640.9 162.4L641.8 159.9L642.7 157.9L643.6 157.0L644.0 156.7L644.5 156.7L645.4 157.5L646.3 157.4L647.3 158.4L647.6 158.2L648.2 158.2L649.1 158.9L650.0 160.5L650.9 160.6L651.2 161.7L651.8 159.3L652.7 157.6L653.7 155.3L654.0 154.0L654.6 154.2L655.5 154.3L656.4 155.2L657.0 156.2L657.3 155.5L658.2 152.5L659.1 149.3L660.0 147.5L660.2 147.0L661.0 147.5L661.9 148.6L662.8 149.4L662.8 148.2L663.7 154.3L664.6 158.3L665.2 161.0L665.5 161.5L666.4 160.0L667.4 159.0L667.8 159.0L668.3 159.8L669.2 162.9L670.0 164.2L670.1 165.4L671.0 166.2L671.9 167.7L672.8 169.4L673.5 171.0L673.7 170.0L674.7 167.7L675.6 165.4L676.5 162.8L676.5 163.5L677.4 161.8L678.3 160.9L679.2 159.2L679.5 158.5L680.1 159.5L681.1 159.5L682.0 159.0L682.7 159.7L682.9 159.9L683.8 160.1L684.7 158.9L685.6 157.8L686.0 158.5L686.5 156.5L687.4 154.1L688.4 151.5L688.5 151.0L689.3 149.1L690.2 145.6L691.0 142.0L691.1 142.6L692.0 138.7L692.9 136.4L693.8 134.4L694.0 133.5L694.8 132.4L695.7 131.2L696.5 131.5L696.6 131.5L697.5 132.4L698.4 131.3L699.3 132.0L700.0 132.0L700.2 131.6L701.2 133.2L702.1 134.1L703.0 134.2L703.5 135.0L703.9 132.6L704.8 129.3L705.5 126.0L705.7 123.2L706.6 111.4L707.0 106.0L707.5 106.0L708.5 105.5L709.4 106.3L710.0 105.5L710.3 103.7L711.2 95.8L711.5 93.0L712.1 96.5L713.0 101.0L713.0 101.4L713.9 98.8L714.9 96.4L715.0 95.0" fill="none" stroke="#242424" stroke-width="1.45" stroke-linejoin="round" stroke-linecap="round"/></g>
<line x1="48" x2="716.5" y1="368.8" y2="368.8" stroke="#e4e4e4" stroke-width="1"/>
<line x1="716.7" x2="716.7" y1="69.5" y2="369" stroke="#c9c9c9" stroke-width="1"/>
<line x1="95.6" x2="95.6" y1="369" y2="374.8" stroke="#ececec" stroke-width="1"/><line x1="151.6" x2="151.6" y1="369" y2="374.8" stroke="#ececec" stroke-width="1"/><line x1="208.4" x2="208.4" y1="369" y2="374.8" stroke="#ececec" stroke-width="1"/><line x1="264.1" x2="264.1" y1="369" y2="374.8" stroke="#ececec" stroke-width="1"/><line x1="320.3" x2="320.3" y1="369" y2="374.8" stroke="#ececec" stroke-width="1"/><line x1="374.4" x2="374.4" y1="369" y2="374.8" stroke="#ececec" stroke-width="1"/><line x1="429.6" x2="429.6" y1="369" y2="374.8" stroke="#ececec" stroke-width="1"/><line x1="485.6" x2="485.6" y1="369" y2="374.8" stroke="#ececec" stroke-width="1"/><line x1="542.5" x2="542.5" y1="369" y2="374.8" stroke="#ececec" stroke-width="1"/><line x1="598.4" x2="598.4" y1="369" y2="374.8" stroke="#ececec" stroke-width="1"/><line x1="654.1" x2="654.1" y1="369" y2="374.8" stroke="#ececec" stroke-width="1"/><line x1="708.8" x2="708.8" y1="369" y2="374.8" stroke="#ececec" stroke-width="1"/><text x="95.6" y="386.0" text-anchor="middle" class="ax">May '22</text><text x="151.6" y="386.0" text-anchor="middle" class="ax">Jul '22</text><text x="208.4" y="386.0" text-anchor="middle" class="ax">Sep '22</text><text x="264.1" y="386.0" text-anchor="middle" class="ax">Nov '22</text><text x="320.3" y="386.0" text-anchor="middle" class="ax">Jan '23</text><text x="374.4" y="386.0" text-anchor="middle" class="ax">Mar '23</text><text x="429.6" y="386.0" text-anchor="middle" class="ax">May '23</text><text x="485.6" y="386.0" text-anchor="middle" class="ax">Jul '23</text><text x="542.5" y="386.0" text-anchor="middle" class="ax">Sep '23</text><text x="598.4" y="386.0" text-anchor="middle" class="ax">Nov '23</text><text x="654.1" y="386.0" text-anchor="middle" class="ax">Jan '24</text><text x="708.8" y="386.0" text-anchor="middle" class="ax">Mar '24</text>
<text x="38.5" y="112.0" text-anchor="end" class="ax">30B</text>
<text x="38.5" y="197.3" text-anchor="end" class="ax">20B</text>
<text x="38.5" y="282.6" text-anchor="end" class="ax">10B</text>
<text x="38.5" y="367.9" text-anchor="end" class="ax">0</text>
<text x="726" y="168.3" class="ax">$40k</text>
<text x="726" y="366.9" class="ax">$10k</text>
<text x="16.5" y="416.2" class="ft" textLength="160.5" lengthAdjust="spacingAndGlyphs">&#169; 2024 Glassnode. All Rights Reserved.</text>
<g fill="none" stroke="#141414" stroke-width="2.1" stroke-linecap="butt" stroke-linejoin="round">
<circle cx="674.9" cy="412.2" r="3.7"/><path d="M678.6 407.4V417.2a3.75 3.75 0 0 1 -3.75 3.75c-1.5 0 -2.7 -0.6 -3.5 -1.7"/>
<path d="M682.3 403.6V417"/>
<circle cx="689.3" cy="412.2" r="3.7"/><path d="M693 407.4V417"/>
<path id="sg" d="M701.6 409.9c-0.4 -1 -1.3 -1.5 -2.4 -1.5c-1.3 0 -2.2 0.7 -2.2 1.7c0 2.5 4.9 1.3 4.9 4c0 1.2 -1 1.9 -2.5 1.9c-1.3 0 -2.3 -0.6 -2.7 -1.7"/>
<path d="M709.7 409.9c-0.4 -1 -1.3 -1.5 -2.4 -1.5c-1.3 0 -2.2 0.7 -2.2 1.7c0 2.5 4.9 1.3 4.9 4c0 1.2 -1 1.9 -2.5 1.9c-1.3 0 -2.3 -0.6 -2.7 -1.7"/>
<path d="M713.6 417V407.4M713.6 411.4a2.95 2.95 0 0 1 5.9 0V417"/>
<circle cx="727.1" cy="412.2" r="3.95"/>
<circle cx="738.1" cy="412.2" r="3.7"/><path d="M741.9 403.6V417"/>
<path d="M745.6 412.3H753A3.7 3.7 0 1 0 752.1 414.9"/>
</g>
</svg>
</body></html>
